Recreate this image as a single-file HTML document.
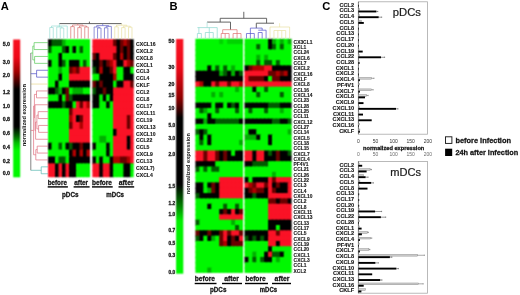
<!DOCTYPE html><html><head><meta charset="utf-8"><title>Chemokine expression</title>
<style>html,body{margin:0;padding:0;background:#fff;}svg{display:block;}#w{width:520px;height:295px;overflow:hidden;will-change:transform;}text{font-family:'Liberation Sans',sans-serif;}.h{stroke:#1a1a1a;stroke-width:0.28px;}.h2{stroke:#1a1a1a;stroke-width:0.12px;}</style></head><body>
<div id="w"><svg width="520" height="295" viewBox="0 0 520 295">
<defs>
<linearGradient id="ga" x1="0" y1="0" x2="0" y2="1"><stop offset="0" stop-color="#f81020"/><stop offset="0.13" stop-color="#ee0818"/><stop offset="0.235" stop-color="#a00000"/><stop offset="0.31" stop-color="#400000"/><stop offset="0.36" stop-color="#000"/><stop offset="0.633" stop-color="#000"/><stop offset="0.70" stop-color="#006000"/><stop offset="0.75" stop-color="#00c000"/><stop offset="0.805" stop-color="#00f800"/><stop offset="1" stop-color="#00f800"/></linearGradient>
<linearGradient id="gb" x1="0" y1="0" x2="0" y2="1"><stop offset="0" stop-color="#f81424"/><stop offset="0.12" stop-color="#ee0818"/><stop offset="0.25" stop-color="#900000"/><stop offset="0.30" stop-color="#400000"/><stop offset="0.335" stop-color="#000"/><stop offset="0.62" stop-color="#000"/><stop offset="0.71" stop-color="#008000"/><stop offset="0.775" stop-color="#00f000"/><stop offset="1" stop-color="#00f800"/></linearGradient>
<filter id="soft" color-interpolation-filters="sRGB" x="0" y="0" width="520" height="295" filterUnits="userSpaceOnUse"><feConvolveMatrix order="3" kernelMatrix="1 2 1 2 4 2 1 2 1" divisor="16" edgeMode="duplicate" preserveAlpha="false"/></filter>
</defs>
<text x="0.8" y="9.7" font-size="11.2" font-weight="bold">A</text>
<text x="169.6" y="9.5" font-size="11.2" font-weight="bold">B</text>
<text x="322.2" y="9.7" font-size="11.2" font-weight="bold">C</text>
<g filter="url(#soft)"><rect x="13.2" y="39.5" width="7" height="137.8" fill="url(#ga)"/></g>
<text class="h" x="2.7" y="46" font-size="5" font-weight="bold" fill="#222" textLength="7.4" lengthAdjust="spacingAndGlyphs">5.0</text>
<text class="h" x="2.7" y="64.2" font-size="5" font-weight="bold" fill="#222" textLength="7.4" lengthAdjust="spacingAndGlyphs">3.0</text>
<text class="h" x="2.7" y="76.6" font-size="5" font-weight="bold" fill="#222" textLength="7.4" lengthAdjust="spacingAndGlyphs">2.0</text>
<text class="h" x="2.7" y="93.5" font-size="5" font-weight="bold" fill="#222" textLength="7.4" lengthAdjust="spacingAndGlyphs">1.2</text>
<text class="h" x="2.7" y="107.8" font-size="5" font-weight="bold" fill="#222" textLength="7.4" lengthAdjust="spacingAndGlyphs">1.0</text>
<text class="h" x="2.7" y="121.1" font-size="5" font-weight="bold" fill="#222" textLength="7.4" lengthAdjust="spacingAndGlyphs">0.8</text>
<text class="h" x="2.7" y="134.8" font-size="5" font-weight="bold" fill="#222" textLength="7.4" lengthAdjust="spacingAndGlyphs">0.6</text>
<text class="h" x="2.7" y="148.8" font-size="5" font-weight="bold" fill="#222" textLength="7.4" lengthAdjust="spacingAndGlyphs">0.4</text>
<text class="h" x="2.7" y="162.6" font-size="5" font-weight="bold" fill="#222" textLength="7.4" lengthAdjust="spacingAndGlyphs">0.2</text>
<text class="h" x="2.7" y="174.8" font-size="5" font-weight="bold" fill="#222" textLength="7.4" lengthAdjust="spacingAndGlyphs">0.0</text>
<text transform="translate(25.6,146.3) rotate(-90)" font-size="5.7" font-weight="bold" fill="#111" textLength="62.2" lengthAdjust="spacingAndGlyphs">normalized expression</text>
<g filter="url(#soft)">
<rect x="48" y="39.2" width="4.5" height="7.9" fill="#000000"/>
<rect x="51.5" y="39.2" width="4.5" height="7.9" fill="#005a00"/>
<rect x="55" y="39.2" width="4.5" height="7.9" fill="#005a00"/>
<rect x="58.5" y="39.2" width="4.5" height="7.9" fill="#005a00"/>
<rect x="62" y="39.2" width="4.5" height="7.9" fill="#00b000"/>
<rect x="65.5" y="39.2" width="4.5" height="7.9" fill="#00f800"/>
<rect x="69" y="39.2" width="4.5" height="7.9" fill="#00f800"/>
<rect x="72.5" y="39.2" width="4.5" height="7.9" fill="#00f800"/>
<rect x="76" y="39.2" width="4.5" height="7.9" fill="#00f800"/>
<rect x="79.5" y="39.2" width="4.5" height="7.9" fill="#00f800"/>
<rect x="83" y="39.2" width="4.5" height="7.9" fill="#00f800"/>
<rect x="86.5" y="39.2" width="3.5" height="7.9" fill="#00f800"/>
<rect x="48" y="46.1" width="4.5" height="7.9" fill="#005a00"/>
<rect x="51.5" y="46.1" width="4.5" height="7.9" fill="#00f800"/>
<rect x="55" y="46.1" width="4.5" height="7.9" fill="#00f800"/>
<rect x="58.5" y="46.1" width="4.5" height="7.9" fill="#00f800"/>
<rect x="62" y="46.1" width="4.5" height="7.9" fill="#005a00"/>
<rect x="65.5" y="46.1" width="4.5" height="7.9" fill="#000000"/>
<rect x="69" y="46.1" width="4.5" height="7.9" fill="#00f800"/>
<rect x="72.5" y="46.1" width="4.5" height="7.9" fill="#000000"/>
<rect x="76" y="46.1" width="4.5" height="7.9" fill="#00f800"/>
<rect x="79.5" y="46.1" width="4.5" height="7.9" fill="#005a00"/>
<rect x="83" y="46.1" width="4.5" height="7.9" fill="#00f800"/>
<rect x="86.5" y="46.1" width="3.5" height="7.9" fill="#00f800"/>
<rect x="48" y="53" width="4.5" height="7.9" fill="#00f800"/>
<rect x="51.5" y="53" width="4.5" height="7.9" fill="#00f800"/>
<rect x="55" y="53" width="4.5" height="7.9" fill="#00f800"/>
<rect x="58.5" y="53" width="4.5" height="7.9" fill="#000000"/>
<rect x="62" y="53" width="4.5" height="7.9" fill="#00f800"/>
<rect x="65.5" y="53" width="4.5" height="7.9" fill="#00f800"/>
<rect x="69" y="53" width="4.5" height="7.9" fill="#00f800"/>
<rect x="72.5" y="53" width="4.5" height="7.9" fill="#00f800"/>
<rect x="76" y="53" width="4.5" height="7.9" fill="#00f800"/>
<rect x="79.5" y="53" width="4.5" height="7.9" fill="#00f800"/>
<rect x="83" y="53" width="4.5" height="7.9" fill="#00f800"/>
<rect x="86.5" y="53" width="3.5" height="7.9" fill="#00f800"/>
<rect x="48" y="59.9" width="4.5" height="7.9" fill="#000000"/>
<rect x="51.5" y="59.9" width="4.5" height="7.9" fill="#00f800"/>
<rect x="55" y="59.9" width="4.5" height="7.9" fill="#00f800"/>
<rect x="58.5" y="59.9" width="4.5" height="7.9" fill="#000000"/>
<rect x="62" y="59.9" width="4.5" height="7.9" fill="#005a00"/>
<rect x="65.5" y="59.9" width="4.5" height="7.9" fill="#00f800"/>
<rect x="69" y="59.9" width="4.5" height="7.9" fill="#000000"/>
<rect x="72.5" y="59.9" width="4.5" height="7.9" fill="#000000"/>
<rect x="76" y="59.9" width="4.5" height="7.9" fill="#000000"/>
<rect x="79.5" y="59.9" width="4.5" height="7.9" fill="#00f800"/>
<rect x="83" y="59.9" width="4.5" height="7.9" fill="#005a00"/>
<rect x="86.5" y="59.9" width="3.5" height="7.9" fill="#00f800"/>
<rect x="48" y="66.8" width="4.5" height="7.9" fill="#00f800"/>
<rect x="51.5" y="66.8" width="4.5" height="7.9" fill="#00f800"/>
<rect x="55" y="66.8" width="4.5" height="7.9" fill="#00f800"/>
<rect x="58.5" y="66.8" width="4.5" height="7.9" fill="#00b000"/>
<rect x="62" y="66.8" width="4.5" height="7.9" fill="#00f800"/>
<rect x="65.5" y="66.8" width="4.5" height="7.9" fill="#00f800"/>
<rect x="69" y="66.8" width="4.5" height="7.9" fill="#6a0000"/>
<rect x="72.5" y="66.8" width="4.5" height="7.9" fill="#b00000"/>
<rect x="76" y="66.8" width="4.5" height="7.9" fill="#6a0000"/>
<rect x="79.5" y="66.8" width="4.5" height="7.9" fill="#fa1226"/>
<rect x="83" y="66.8" width="4.5" height="7.9" fill="#fa1226"/>
<rect x="86.5" y="66.8" width="3.5" height="7.9" fill="#fa1226"/>
<rect x="48" y="73.7" width="4.5" height="7.9" fill="#00f800"/>
<rect x="51.5" y="73.7" width="4.5" height="7.9" fill="#00f800"/>
<rect x="55" y="73.7" width="4.5" height="7.9" fill="#00f800"/>
<rect x="58.5" y="73.7" width="4.5" height="7.9" fill="#000000"/>
<rect x="62" y="73.7" width="4.5" height="7.9" fill="#00f800"/>
<rect x="65.5" y="73.7" width="4.5" height="7.9" fill="#00f800"/>
<rect x="69" y="73.7" width="4.5" height="7.9" fill="#fa1226"/>
<rect x="72.5" y="73.7" width="4.5" height="7.9" fill="#fa1226"/>
<rect x="76" y="73.7" width="4.5" height="7.9" fill="#fa1226"/>
<rect x="79.5" y="73.7" width="4.5" height="7.9" fill="#fa1226"/>
<rect x="83" y="73.7" width="4.5" height="7.9" fill="#fa1226"/>
<rect x="86.5" y="73.7" width="3.5" height="7.9" fill="#fa1226"/>
<rect x="48" y="80.6" width="4.5" height="7.9" fill="#00f800"/>
<rect x="51.5" y="80.6" width="4.5" height="7.9" fill="#00f800"/>
<rect x="55" y="80.6" width="4.5" height="7.9" fill="#000000"/>
<rect x="58.5" y="80.6" width="4.5" height="7.9" fill="#00f800"/>
<rect x="62" y="80.6" width="4.5" height="7.9" fill="#00f800"/>
<rect x="65.5" y="80.6" width="4.5" height="7.9" fill="#00f800"/>
<rect x="69" y="80.6" width="4.5" height="7.9" fill="#000000"/>
<rect x="72.5" y="80.6" width="4.5" height="7.9" fill="#000000"/>
<rect x="76" y="80.6" width="4.5" height="7.9" fill="#000000"/>
<rect x="79.5" y="80.6" width="4.5" height="7.9" fill="#000000"/>
<rect x="83" y="80.6" width="4.5" height="7.9" fill="#000000"/>
<rect x="86.5" y="80.6" width="3.5" height="7.9" fill="#000000"/>
<rect x="48" y="87.5" width="4.5" height="7.9" fill="#000000"/>
<rect x="51.5" y="87.5" width="4.5" height="7.9" fill="#000000"/>
<rect x="55" y="87.5" width="4.5" height="7.9" fill="#005a00"/>
<rect x="58.5" y="87.5" width="4.5" height="7.9" fill="#00b000"/>
<rect x="62" y="87.5" width="4.5" height="7.9" fill="#000000"/>
<rect x="65.5" y="87.5" width="4.5" height="7.9" fill="#6a0000"/>
<rect x="69" y="87.5" width="4.5" height="7.9" fill="#00f800"/>
<rect x="72.5" y="87.5" width="4.5" height="7.9" fill="#00b000"/>
<rect x="76" y="87.5" width="4.5" height="7.9" fill="#00b000"/>
<rect x="79.5" y="87.5" width="4.5" height="7.9" fill="#00b000"/>
<rect x="83" y="87.5" width="4.5" height="7.9" fill="#00f800"/>
<rect x="86.5" y="87.5" width="3.5" height="7.9" fill="#00f800"/>
<rect x="48" y="94.4" width="4.5" height="7.9" fill="#00f800"/>
<rect x="51.5" y="94.4" width="4.5" height="7.9" fill="#00f800"/>
<rect x="55" y="94.4" width="4.5" height="7.9" fill="#00f800"/>
<rect x="58.5" y="94.4" width="4.5" height="7.9" fill="#000000"/>
<rect x="62" y="94.4" width="4.5" height="7.9" fill="#00f800"/>
<rect x="65.5" y="94.4" width="4.5" height="7.9" fill="#6a0000"/>
<rect x="69" y="94.4" width="4.5" height="7.9" fill="#005a00"/>
<rect x="72.5" y="94.4" width="4.5" height="7.9" fill="#000000"/>
<rect x="76" y="94.4" width="4.5" height="7.9" fill="#000000"/>
<rect x="79.5" y="94.4" width="4.5" height="7.9" fill="#000000"/>
<rect x="83" y="94.4" width="4.5" height="7.9" fill="#000000"/>
<rect x="86.5" y="94.4" width="3.5" height="7.9" fill="#000000"/>
<rect x="48" y="101.3" width="4.5" height="7.9" fill="#000000"/>
<rect x="51.5" y="101.3" width="4.5" height="7.9" fill="#000000"/>
<rect x="55" y="101.3" width="4.5" height="7.9" fill="#000000"/>
<rect x="58.5" y="101.3" width="4.5" height="7.9" fill="#000000"/>
<rect x="62" y="101.3" width="4.5" height="7.9" fill="#005a00"/>
<rect x="65.5" y="101.3" width="4.5" height="7.9" fill="#000000"/>
<rect x="69" y="101.3" width="4.5" height="7.9" fill="#000000"/>
<rect x="72.5" y="101.3" width="4.5" height="7.9" fill="#00f800"/>
<rect x="76" y="101.3" width="4.5" height="7.9" fill="#fa1226"/>
<rect x="79.5" y="101.3" width="4.5" height="7.9" fill="#6a0000"/>
<rect x="83" y="101.3" width="4.5" height="7.9" fill="#fa1226"/>
<rect x="86.5" y="101.3" width="3.5" height="7.9" fill="#b00000"/>
<rect x="48" y="108.2" width="4.5" height="7.9" fill="#00f800"/>
<rect x="51.5" y="108.2" width="4.5" height="7.9" fill="#00f800"/>
<rect x="55" y="108.2" width="4.5" height="7.9" fill="#00f800"/>
<rect x="58.5" y="108.2" width="4.5" height="7.9" fill="#00f800"/>
<rect x="62" y="108.2" width="4.5" height="7.9" fill="#00f800"/>
<rect x="65.5" y="108.2" width="4.5" height="7.9" fill="#00f800"/>
<rect x="69" y="108.2" width="4.5" height="7.9" fill="#6a0000"/>
<rect x="72.5" y="108.2" width="4.5" height="7.9" fill="#fa1226"/>
<rect x="76" y="108.2" width="4.5" height="7.9" fill="#fa1226"/>
<rect x="79.5" y="108.2" width="4.5" height="7.9" fill="#fa1226"/>
<rect x="83" y="108.2" width="4.5" height="7.9" fill="#fa1226"/>
<rect x="86.5" y="108.2" width="3.5" height="7.9" fill="#fa1226"/>
<rect x="48" y="115.1" width="4.5" height="7.9" fill="#00f800"/>
<rect x="51.5" y="115.1" width="4.5" height="7.9" fill="#00f800"/>
<rect x="55" y="115.1" width="4.5" height="7.9" fill="#00f800"/>
<rect x="58.5" y="115.1" width="4.5" height="7.9" fill="#00f800"/>
<rect x="62" y="115.1" width="4.5" height="7.9" fill="#00f800"/>
<rect x="65.5" y="115.1" width="4.5" height="7.9" fill="#00f800"/>
<rect x="69" y="115.1" width="4.5" height="7.9" fill="#b00000"/>
<rect x="72.5" y="115.1" width="4.5" height="7.9" fill="#fa1226"/>
<rect x="76" y="115.1" width="4.5" height="7.9" fill="#000000"/>
<rect x="79.5" y="115.1" width="4.5" height="7.9" fill="#6a0000"/>
<rect x="83" y="115.1" width="4.5" height="7.9" fill="#fa1226"/>
<rect x="86.5" y="115.1" width="3.5" height="7.9" fill="#fa1226"/>
<rect x="48" y="122" width="4.5" height="7.9" fill="#00f800"/>
<rect x="51.5" y="122" width="4.5" height="7.9" fill="#00f800"/>
<rect x="55" y="122" width="4.5" height="7.9" fill="#00f800"/>
<rect x="58.5" y="122" width="4.5" height="7.9" fill="#00f800"/>
<rect x="62" y="122" width="4.5" height="7.9" fill="#00f800"/>
<rect x="65.5" y="122" width="4.5" height="7.9" fill="#00f800"/>
<rect x="69" y="122" width="4.5" height="7.9" fill="#6a0000"/>
<rect x="72.5" y="122" width="4.5" height="7.9" fill="#fa1226"/>
<rect x="76" y="122" width="4.5" height="7.9" fill="#fa1226"/>
<rect x="79.5" y="122" width="4.5" height="7.9" fill="#b00000"/>
<rect x="83" y="122" width="4.5" height="7.9" fill="#fa1226"/>
<rect x="86.5" y="122" width="3.5" height="7.9" fill="#fa1226"/>
<rect x="48" y="128.9" width="4.5" height="7.9" fill="#00f800"/>
<rect x="51.5" y="128.9" width="4.5" height="7.9" fill="#00f800"/>
<rect x="55" y="128.9" width="4.5" height="7.9" fill="#00f800"/>
<rect x="58.5" y="128.9" width="4.5" height="7.9" fill="#00f800"/>
<rect x="62" y="128.9" width="4.5" height="7.9" fill="#00f800"/>
<rect x="65.5" y="128.9" width="4.5" height="7.9" fill="#00f800"/>
<rect x="69" y="128.9" width="4.5" height="7.9" fill="#fa1226"/>
<rect x="72.5" y="128.9" width="4.5" height="7.9" fill="#fa1226"/>
<rect x="76" y="128.9" width="4.5" height="7.9" fill="#fa1226"/>
<rect x="79.5" y="128.9" width="4.5" height="7.9" fill="#fa1226"/>
<rect x="83" y="128.9" width="4.5" height="7.9" fill="#fa1226"/>
<rect x="86.5" y="128.9" width="3.5" height="7.9" fill="#fa1226"/>
<rect x="48" y="135.8" width="4.5" height="7.9" fill="#00f800"/>
<rect x="51.5" y="135.8" width="4.5" height="7.9" fill="#00f800"/>
<rect x="55" y="135.8" width="4.5" height="7.9" fill="#00f800"/>
<rect x="58.5" y="135.8" width="4.5" height="7.9" fill="#00f800"/>
<rect x="62" y="135.8" width="4.5" height="7.9" fill="#00f800"/>
<rect x="65.5" y="135.8" width="4.5" height="7.9" fill="#00f800"/>
<rect x="69" y="135.8" width="4.5" height="7.9" fill="#fa1226"/>
<rect x="72.5" y="135.8" width="4.5" height="7.9" fill="#fa1226"/>
<rect x="76" y="135.8" width="4.5" height="7.9" fill="#fa1226"/>
<rect x="79.5" y="135.8" width="4.5" height="7.9" fill="#fa1226"/>
<rect x="83" y="135.8" width="4.5" height="7.9" fill="#fa1226"/>
<rect x="86.5" y="135.8" width="3.5" height="7.9" fill="#fa1226"/>
<rect x="48" y="142.7" width="4.5" height="7.9" fill="#000000"/>
<rect x="51.5" y="142.7" width="4.5" height="7.9" fill="#00f800"/>
<rect x="55" y="142.7" width="4.5" height="7.9" fill="#00f800"/>
<rect x="58.5" y="142.7" width="4.5" height="7.9" fill="#005a00"/>
<rect x="62" y="142.7" width="4.5" height="7.9" fill="#00f800"/>
<rect x="65.5" y="142.7" width="4.5" height="7.9" fill="#000000"/>
<rect x="69" y="142.7" width="4.5" height="7.9" fill="#005a00"/>
<rect x="72.5" y="142.7" width="4.5" height="7.9" fill="#000000"/>
<rect x="76" y="142.7" width="4.5" height="7.9" fill="#000000"/>
<rect x="79.5" y="142.7" width="4.5" height="7.9" fill="#6a0000"/>
<rect x="83" y="142.7" width="4.5" height="7.9" fill="#000000"/>
<rect x="86.5" y="142.7" width="3.5" height="7.9" fill="#000000"/>
<rect x="48" y="149.6" width="4.5" height="7.9" fill="#00f800"/>
<rect x="51.5" y="149.6" width="4.5" height="7.9" fill="#00f800"/>
<rect x="55" y="149.6" width="4.5" height="7.9" fill="#00f800"/>
<rect x="58.5" y="149.6" width="4.5" height="7.9" fill="#00f800"/>
<rect x="62" y="149.6" width="4.5" height="7.9" fill="#00f800"/>
<rect x="65.5" y="149.6" width="4.5" height="7.9" fill="#00f800"/>
<rect x="69" y="149.6" width="4.5" height="7.9" fill="#000000"/>
<rect x="72.5" y="149.6" width="4.5" height="7.9" fill="#b00000"/>
<rect x="76" y="149.6" width="4.5" height="7.9" fill="#000000"/>
<rect x="79.5" y="149.6" width="4.5" height="7.9" fill="#b00000"/>
<rect x="83" y="149.6" width="4.5" height="7.9" fill="#000000"/>
<rect x="86.5" y="149.6" width="3.5" height="7.9" fill="#b00000"/>
<rect x="48" y="156.5" width="4.5" height="7.9" fill="#000000"/>
<rect x="51.5" y="156.5" width="4.5" height="7.9" fill="#000000"/>
<rect x="55" y="156.5" width="4.5" height="7.9" fill="#00f800"/>
<rect x="58.5" y="156.5" width="4.5" height="7.9" fill="#005a00"/>
<rect x="62" y="156.5" width="4.5" height="7.9" fill="#005a00"/>
<rect x="65.5" y="156.5" width="4.5" height="7.9" fill="#00f800"/>
<rect x="69" y="156.5" width="4.5" height="7.9" fill="#000000"/>
<rect x="72.5" y="156.5" width="4.5" height="7.9" fill="#000000"/>
<rect x="76" y="156.5" width="4.5" height="7.9" fill="#000000"/>
<rect x="79.5" y="156.5" width="4.5" height="7.9" fill="#000000"/>
<rect x="83" y="156.5" width="4.5" height="7.9" fill="#000000"/>
<rect x="86.5" y="156.5" width="3.5" height="7.9" fill="#000000"/>
<rect x="48" y="163.4" width="4.5" height="7.9" fill="#fa1226"/>
<rect x="51.5" y="163.4" width="4.5" height="7.9" fill="#fa1226"/>
<rect x="55" y="163.4" width="4.5" height="7.9" fill="#000000"/>
<rect x="58.5" y="163.4" width="4.5" height="7.9" fill="#fa1226"/>
<rect x="62" y="163.4" width="4.5" height="7.9" fill="#000000"/>
<rect x="65.5" y="163.4" width="4.5" height="7.9" fill="#fa1226"/>
<rect x="69" y="163.4" width="4.5" height="7.9" fill="#000000"/>
<rect x="72.5" y="163.4" width="4.5" height="7.9" fill="#000000"/>
<rect x="76" y="163.4" width="4.5" height="7.9" fill="#00f800"/>
<rect x="79.5" y="163.4" width="4.5" height="7.9" fill="#00f800"/>
<rect x="83" y="163.4" width="4.5" height="7.9" fill="#00f800"/>
<rect x="86.5" y="163.4" width="3.5" height="7.9" fill="#00f800"/>
<rect x="48" y="170.3" width="4.5" height="6.9" fill="#fa1226"/>
<rect x="51.5" y="170.3" width="4.5" height="6.9" fill="#fa1226"/>
<rect x="55" y="170.3" width="4.5" height="6.9" fill="#000000"/>
<rect x="58.5" y="170.3" width="4.5" height="6.9" fill="#fa1226"/>
<rect x="62" y="170.3" width="4.5" height="6.9" fill="#000000"/>
<rect x="65.5" y="170.3" width="4.5" height="6.9" fill="#fa1226"/>
<rect x="69" y="170.3" width="4.5" height="6.9" fill="#000000"/>
<rect x="72.5" y="170.3" width="4.5" height="6.9" fill="#000000"/>
<rect x="76" y="170.3" width="4.5" height="6.9" fill="#00f800"/>
<rect x="79.5" y="170.3" width="4.5" height="6.9" fill="#00f800"/>
<rect x="83" y="170.3" width="4.5" height="6.9" fill="#00f800"/>
<rect x="86.5" y="170.3" width="3.5" height="6.9" fill="#00f800"/>
<rect x="92.4" y="39.2" width="4.44" height="7.9" fill="#fa1226"/>
<rect x="95.84" y="39.2" width="4.44" height="7.9" fill="#fa1226"/>
<rect x="99.28" y="39.2" width="4.44" height="7.9" fill="#fa1226"/>
<rect x="102.73" y="39.2" width="4.44" height="7.9" fill="#fa1226"/>
<rect x="106.17" y="39.2" width="4.44" height="7.9" fill="#fa1226"/>
<rect x="109.61" y="39.2" width="4.44" height="7.9" fill="#fa1226"/>
<rect x="113.05" y="39.2" width="4.44" height="7.9" fill="#6a0000"/>
<rect x="116.49" y="39.2" width="4.44" height="7.9" fill="#000000"/>
<rect x="119.93" y="39.2" width="4.44" height="7.9" fill="#6a0000"/>
<rect x="123.38" y="39.2" width="4.44" height="7.9" fill="#b00000"/>
<rect x="126.82" y="39.2" width="4.44" height="7.9" fill="#6a0000"/>
<rect x="130.26" y="39.2" width="3.44" height="7.9" fill="#000000"/>
<rect x="92.4" y="46.1" width="4.44" height="7.9" fill="#fa1226"/>
<rect x="95.84" y="46.1" width="4.44" height="7.9" fill="#fa1226"/>
<rect x="99.28" y="46.1" width="4.44" height="7.9" fill="#fa1226"/>
<rect x="102.73" y="46.1" width="4.44" height="7.9" fill="#fa1226"/>
<rect x="106.17" y="46.1" width="4.44" height="7.9" fill="#fa1226"/>
<rect x="109.61" y="46.1" width="4.44" height="7.9" fill="#fa1226"/>
<rect x="113.05" y="46.1" width="4.44" height="7.9" fill="#fa1226"/>
<rect x="116.49" y="46.1" width="4.44" height="7.9" fill="#000000"/>
<rect x="119.93" y="46.1" width="4.44" height="7.9" fill="#6a0000"/>
<rect x="123.38" y="46.1" width="4.44" height="7.9" fill="#000000"/>
<rect x="126.82" y="46.1" width="4.44" height="7.9" fill="#6a0000"/>
<rect x="130.26" y="46.1" width="3.44" height="7.9" fill="#000000"/>
<rect x="92.4" y="53" width="4.44" height="7.9" fill="#6a0000"/>
<rect x="95.84" y="53" width="4.44" height="7.9" fill="#000000"/>
<rect x="99.28" y="53" width="4.44" height="7.9" fill="#fa1226"/>
<rect x="102.73" y="53" width="4.44" height="7.9" fill="#fa1226"/>
<rect x="106.17" y="53" width="4.44" height="7.9" fill="#fa1226"/>
<rect x="109.61" y="53" width="4.44" height="7.9" fill="#fa1226"/>
<rect x="113.05" y="53" width="4.44" height="7.9" fill="#6a0000"/>
<rect x="116.49" y="53" width="4.44" height="7.9" fill="#000000"/>
<rect x="119.93" y="53" width="4.44" height="7.9" fill="#b00000"/>
<rect x="123.38" y="53" width="4.44" height="7.9" fill="#000000"/>
<rect x="126.82" y="53" width="4.44" height="7.9" fill="#6a0000"/>
<rect x="130.26" y="53" width="3.44" height="7.9" fill="#000000"/>
<rect x="92.4" y="59.9" width="4.44" height="7.9" fill="#000000"/>
<rect x="95.84" y="59.9" width="4.44" height="7.9" fill="#000000"/>
<rect x="99.28" y="59.9" width="4.44" height="7.9" fill="#6a0000"/>
<rect x="102.73" y="59.9" width="4.44" height="7.9" fill="#000000"/>
<rect x="106.17" y="59.9" width="4.44" height="7.9" fill="#6a0000"/>
<rect x="109.61" y="59.9" width="4.44" height="7.9" fill="#b00000"/>
<rect x="113.05" y="59.9" width="4.44" height="7.9" fill="#fa1226"/>
<rect x="116.49" y="59.9" width="4.44" height="7.9" fill="#000000"/>
<rect x="119.93" y="59.9" width="4.44" height="7.9" fill="#000000"/>
<rect x="123.38" y="59.9" width="4.44" height="7.9" fill="#fa1226"/>
<rect x="126.82" y="59.9" width="4.44" height="7.9" fill="#b00000"/>
<rect x="130.26" y="59.9" width="3.44" height="7.9" fill="#6a0000"/>
<rect x="92.4" y="66.8" width="4.44" height="7.9" fill="#005a00"/>
<rect x="95.84" y="66.8" width="4.44" height="7.9" fill="#000000"/>
<rect x="99.28" y="66.8" width="4.44" height="7.9" fill="#b00000"/>
<rect x="102.73" y="66.8" width="4.44" height="7.9" fill="#000000"/>
<rect x="106.17" y="66.8" width="4.44" height="7.9" fill="#000000"/>
<rect x="109.61" y="66.8" width="4.44" height="7.9" fill="#6a0000"/>
<rect x="113.05" y="66.8" width="4.44" height="7.9" fill="#fa1226"/>
<rect x="116.49" y="66.8" width="4.44" height="7.9" fill="#00f800"/>
<rect x="119.93" y="66.8" width="4.44" height="7.9" fill="#00f800"/>
<rect x="123.38" y="66.8" width="4.44" height="7.9" fill="#000000"/>
<rect x="126.82" y="66.8" width="4.44" height="7.9" fill="#000000"/>
<rect x="130.26" y="66.8" width="3.44" height="7.9" fill="#00f800"/>
<rect x="92.4" y="73.7" width="4.44" height="7.9" fill="#00f800"/>
<rect x="95.84" y="73.7" width="4.44" height="7.9" fill="#00f800"/>
<rect x="99.28" y="73.7" width="4.44" height="7.9" fill="#000000"/>
<rect x="102.73" y="73.7" width="4.44" height="7.9" fill="#000000"/>
<rect x="106.17" y="73.7" width="4.44" height="7.9" fill="#000000"/>
<rect x="109.61" y="73.7" width="4.44" height="7.9" fill="#000000"/>
<rect x="113.05" y="73.7" width="4.44" height="7.9" fill="#b00000"/>
<rect x="116.49" y="73.7" width="4.44" height="7.9" fill="#00f800"/>
<rect x="119.93" y="73.7" width="4.44" height="7.9" fill="#00f800"/>
<rect x="123.38" y="73.7" width="4.44" height="7.9" fill="#000000"/>
<rect x="126.82" y="73.7" width="4.44" height="7.9" fill="#000000"/>
<rect x="130.26" y="73.7" width="3.44" height="7.9" fill="#000000"/>
<rect x="92.4" y="80.6" width="4.44" height="7.9" fill="#6a0000"/>
<rect x="95.84" y="80.6" width="4.44" height="7.9" fill="#000000"/>
<rect x="99.28" y="80.6" width="4.44" height="7.9" fill="#6a0000"/>
<rect x="102.73" y="80.6" width="4.44" height="7.9" fill="#000000"/>
<rect x="106.17" y="80.6" width="4.44" height="7.9" fill="#000000"/>
<rect x="109.61" y="80.6" width="4.44" height="7.9" fill="#000000"/>
<rect x="113.05" y="80.6" width="4.44" height="7.9" fill="#00f800"/>
<rect x="116.49" y="80.6" width="4.44" height="7.9" fill="#000000"/>
<rect x="119.93" y="80.6" width="4.44" height="7.9" fill="#000000"/>
<rect x="123.38" y="80.6" width="4.44" height="7.9" fill="#fa1226"/>
<rect x="126.82" y="80.6" width="4.44" height="7.9" fill="#fa1226"/>
<rect x="130.26" y="80.6" width="3.44" height="7.9" fill="#6a0000"/>
<rect x="92.4" y="87.5" width="4.44" height="7.9" fill="#005a00"/>
<rect x="95.84" y="87.5" width="4.44" height="7.9" fill="#000000"/>
<rect x="99.28" y="87.5" width="4.44" height="7.9" fill="#000000"/>
<rect x="102.73" y="87.5" width="4.44" height="7.9" fill="#6a0000"/>
<rect x="106.17" y="87.5" width="4.44" height="7.9" fill="#000000"/>
<rect x="109.61" y="87.5" width="4.44" height="7.9" fill="#000000"/>
<rect x="113.05" y="87.5" width="4.44" height="7.9" fill="#fa1226"/>
<rect x="116.49" y="87.5" width="4.44" height="7.9" fill="#fa1226"/>
<rect x="119.93" y="87.5" width="4.44" height="7.9" fill="#fa1226"/>
<rect x="123.38" y="87.5" width="4.44" height="7.9" fill="#fa1226"/>
<rect x="126.82" y="87.5" width="4.44" height="7.9" fill="#fa1226"/>
<rect x="130.26" y="87.5" width="3.44" height="7.9" fill="#fa1226"/>
<rect x="92.4" y="94.4" width="4.44" height="7.9" fill="#000000"/>
<rect x="95.84" y="94.4" width="4.44" height="7.9" fill="#000000"/>
<rect x="99.28" y="94.4" width="4.44" height="7.9" fill="#00f800"/>
<rect x="102.73" y="94.4" width="4.44" height="7.9" fill="#000000"/>
<rect x="106.17" y="94.4" width="4.44" height="7.9" fill="#00f800"/>
<rect x="109.61" y="94.4" width="4.44" height="7.9" fill="#000000"/>
<rect x="113.05" y="94.4" width="4.44" height="7.9" fill="#fa1226"/>
<rect x="116.49" y="94.4" width="4.44" height="7.9" fill="#fa1226"/>
<rect x="119.93" y="94.4" width="4.44" height="7.9" fill="#fa1226"/>
<rect x="123.38" y="94.4" width="4.44" height="7.9" fill="#fa1226"/>
<rect x="126.82" y="94.4" width="4.44" height="7.9" fill="#fa1226"/>
<rect x="130.26" y="94.4" width="3.44" height="7.9" fill="#fa1226"/>
<rect x="92.4" y="101.3" width="4.44" height="7.9" fill="#000000"/>
<rect x="95.84" y="101.3" width="4.44" height="7.9" fill="#000000"/>
<rect x="99.28" y="101.3" width="4.44" height="7.9" fill="#00f800"/>
<rect x="102.73" y="101.3" width="4.44" height="7.9" fill="#00f800"/>
<rect x="106.17" y="101.3" width="4.44" height="7.9" fill="#000000"/>
<rect x="109.61" y="101.3" width="4.44" height="7.9" fill="#00f800"/>
<rect x="113.05" y="101.3" width="4.44" height="7.9" fill="#fa1226"/>
<rect x="116.49" y="101.3" width="4.44" height="7.9" fill="#fa1226"/>
<rect x="119.93" y="101.3" width="4.44" height="7.9" fill="#fa1226"/>
<rect x="123.38" y="101.3" width="4.44" height="7.9" fill="#fa1226"/>
<rect x="126.82" y="101.3" width="4.44" height="7.9" fill="#fa1226"/>
<rect x="130.26" y="101.3" width="3.44" height="7.9" fill="#fa1226"/>
<rect x="92.4" y="108.2" width="4.44" height="7.9" fill="#00f800"/>
<rect x="95.84" y="108.2" width="4.44" height="7.9" fill="#00f800"/>
<rect x="99.28" y="108.2" width="4.44" height="7.9" fill="#00f800"/>
<rect x="102.73" y="108.2" width="4.44" height="7.9" fill="#00f800"/>
<rect x="106.17" y="108.2" width="4.44" height="7.9" fill="#00f800"/>
<rect x="109.61" y="108.2" width="4.44" height="7.9" fill="#00f800"/>
<rect x="113.05" y="108.2" width="4.44" height="7.9" fill="#fa1226"/>
<rect x="116.49" y="108.2" width="4.44" height="7.9" fill="#fa1226"/>
<rect x="119.93" y="108.2" width="4.44" height="7.9" fill="#fa1226"/>
<rect x="123.38" y="108.2" width="4.44" height="7.9" fill="#fa1226"/>
<rect x="126.82" y="108.2" width="4.44" height="7.9" fill="#fa1226"/>
<rect x="130.26" y="108.2" width="3.44" height="7.9" fill="#fa1226"/>
<rect x="92.4" y="115.1" width="4.44" height="7.9" fill="#00f800"/>
<rect x="95.84" y="115.1" width="4.44" height="7.9" fill="#00f800"/>
<rect x="99.28" y="115.1" width="4.44" height="7.9" fill="#00f800"/>
<rect x="102.73" y="115.1" width="4.44" height="7.9" fill="#00f800"/>
<rect x="106.17" y="115.1" width="4.44" height="7.9" fill="#00f800"/>
<rect x="109.61" y="115.1" width="4.44" height="7.9" fill="#00f800"/>
<rect x="113.05" y="115.1" width="4.44" height="7.9" fill="#fa1226"/>
<rect x="116.49" y="115.1" width="4.44" height="7.9" fill="#fa1226"/>
<rect x="119.93" y="115.1" width="4.44" height="7.9" fill="#fa1226"/>
<rect x="123.38" y="115.1" width="4.44" height="7.9" fill="#fa1226"/>
<rect x="126.82" y="115.1" width="4.44" height="7.9" fill="#6a0000"/>
<rect x="130.26" y="115.1" width="3.44" height="7.9" fill="#fa1226"/>
<rect x="92.4" y="122" width="4.44" height="7.9" fill="#00f800"/>
<rect x="95.84" y="122" width="4.44" height="7.9" fill="#00f800"/>
<rect x="99.28" y="122" width="4.44" height="7.9" fill="#00f800"/>
<rect x="102.73" y="122" width="4.44" height="7.9" fill="#00f800"/>
<rect x="106.17" y="122" width="4.44" height="7.9" fill="#00f800"/>
<rect x="109.61" y="122" width="4.44" height="7.9" fill="#00f800"/>
<rect x="113.05" y="122" width="4.44" height="7.9" fill="#fa1226"/>
<rect x="116.49" y="122" width="4.44" height="7.9" fill="#fa1226"/>
<rect x="119.93" y="122" width="4.44" height="7.9" fill="#fa1226"/>
<rect x="123.38" y="122" width="4.44" height="7.9" fill="#fa1226"/>
<rect x="126.82" y="122" width="4.44" height="7.9" fill="#6a0000"/>
<rect x="130.26" y="122" width="3.44" height="7.9" fill="#fa1226"/>
<rect x="92.4" y="128.9" width="4.44" height="7.9" fill="#00f800"/>
<rect x="95.84" y="128.9" width="4.44" height="7.9" fill="#00f800"/>
<rect x="99.28" y="128.9" width="4.44" height="7.9" fill="#00f800"/>
<rect x="102.73" y="128.9" width="4.44" height="7.9" fill="#00f800"/>
<rect x="106.17" y="128.9" width="4.44" height="7.9" fill="#00f800"/>
<rect x="109.61" y="128.9" width="4.44" height="7.9" fill="#00f800"/>
<rect x="113.05" y="128.9" width="4.44" height="7.9" fill="#000000"/>
<rect x="116.49" y="128.9" width="4.44" height="7.9" fill="#fa1226"/>
<rect x="119.93" y="128.9" width="4.44" height="7.9" fill="#fa1226"/>
<rect x="123.38" y="128.9" width="4.44" height="7.9" fill="#fa1226"/>
<rect x="126.82" y="128.9" width="4.44" height="7.9" fill="#fa1226"/>
<rect x="130.26" y="128.9" width="3.44" height="7.9" fill="#fa1226"/>
<rect x="92.4" y="135.8" width="4.44" height="7.9" fill="#00f800"/>
<rect x="95.84" y="135.8" width="4.44" height="7.9" fill="#00f800"/>
<rect x="99.28" y="135.8" width="4.44" height="7.9" fill="#00b000"/>
<rect x="102.73" y="135.8" width="4.44" height="7.9" fill="#00b000"/>
<rect x="106.17" y="135.8" width="4.44" height="7.9" fill="#00f800"/>
<rect x="109.61" y="135.8" width="4.44" height="7.9" fill="#00f800"/>
<rect x="113.05" y="135.8" width="4.44" height="7.9" fill="#fa1226"/>
<rect x="116.49" y="135.8" width="4.44" height="7.9" fill="#fa1226"/>
<rect x="119.93" y="135.8" width="4.44" height="7.9" fill="#fa1226"/>
<rect x="123.38" y="135.8" width="4.44" height="7.9" fill="#fa1226"/>
<rect x="126.82" y="135.8" width="4.44" height="7.9" fill="#000000"/>
<rect x="130.26" y="135.8" width="3.44" height="7.9" fill="#fa1226"/>
<rect x="92.4" y="142.7" width="4.44" height="7.9" fill="#000000"/>
<rect x="95.84" y="142.7" width="4.44" height="7.9" fill="#00f800"/>
<rect x="99.28" y="142.7" width="4.44" height="7.9" fill="#00f800"/>
<rect x="102.73" y="142.7" width="4.44" height="7.9" fill="#00f800"/>
<rect x="106.17" y="142.7" width="4.44" height="7.9" fill="#000000"/>
<rect x="109.61" y="142.7" width="4.44" height="7.9" fill="#00f800"/>
<rect x="113.05" y="142.7" width="4.44" height="7.9" fill="#fa1226"/>
<rect x="116.49" y="142.7" width="4.44" height="7.9" fill="#fa1226"/>
<rect x="119.93" y="142.7" width="4.44" height="7.9" fill="#fa1226"/>
<rect x="123.38" y="142.7" width="4.44" height="7.9" fill="#fa1226"/>
<rect x="126.82" y="142.7" width="4.44" height="7.9" fill="#000000"/>
<rect x="130.26" y="142.7" width="3.44" height="7.9" fill="#fa1226"/>
<rect x="92.4" y="149.6" width="4.44" height="7.9" fill="#00f800"/>
<rect x="95.84" y="149.6" width="4.44" height="7.9" fill="#00f800"/>
<rect x="99.28" y="149.6" width="4.44" height="7.9" fill="#00f800"/>
<rect x="102.73" y="149.6" width="4.44" height="7.9" fill="#00f800"/>
<rect x="106.17" y="149.6" width="4.44" height="7.9" fill="#000000"/>
<rect x="109.61" y="149.6" width="4.44" height="7.9" fill="#00f800"/>
<rect x="113.05" y="149.6" width="4.44" height="7.9" fill="#fa1226"/>
<rect x="116.49" y="149.6" width="4.44" height="7.9" fill="#fa1226"/>
<rect x="119.93" y="149.6" width="4.44" height="7.9" fill="#fa1226"/>
<rect x="123.38" y="149.6" width="4.44" height="7.9" fill="#fa1226"/>
<rect x="126.82" y="149.6" width="4.44" height="7.9" fill="#fa1226"/>
<rect x="130.26" y="149.6" width="3.44" height="7.9" fill="#fa1226"/>
<rect x="92.4" y="156.5" width="4.44" height="7.9" fill="#000000"/>
<rect x="95.84" y="156.5" width="4.44" height="7.9" fill="#00f800"/>
<rect x="99.28" y="156.5" width="4.44" height="7.9" fill="#000000"/>
<rect x="102.73" y="156.5" width="4.44" height="7.9" fill="#00f800"/>
<rect x="106.17" y="156.5" width="4.44" height="7.9" fill="#00f800"/>
<rect x="109.61" y="156.5" width="4.44" height="7.9" fill="#000000"/>
<rect x="113.05" y="156.5" width="4.44" height="7.9" fill="#b00000"/>
<rect x="116.49" y="156.5" width="4.44" height="7.9" fill="#b00000"/>
<rect x="119.93" y="156.5" width="4.44" height="7.9" fill="#6a0000"/>
<rect x="123.38" y="156.5" width="4.44" height="7.9" fill="#6a0000"/>
<rect x="126.82" y="156.5" width="4.44" height="7.9" fill="#b00000"/>
<rect x="130.26" y="156.5" width="3.44" height="7.9" fill="#fa1226"/>
<rect x="92.4" y="163.4" width="4.44" height="7.9" fill="#fa1226"/>
<rect x="95.84" y="163.4" width="4.44" height="7.9" fill="#fa1226"/>
<rect x="99.28" y="163.4" width="4.44" height="7.9" fill="#000000"/>
<rect x="102.73" y="163.4" width="4.44" height="7.9" fill="#fa1226"/>
<rect x="106.17" y="163.4" width="4.44" height="7.9" fill="#fa1226"/>
<rect x="109.61" y="163.4" width="4.44" height="7.9" fill="#000000"/>
<rect x="113.05" y="163.4" width="4.44" height="7.9" fill="#00f800"/>
<rect x="116.49" y="163.4" width="4.44" height="7.9" fill="#00f800"/>
<rect x="119.93" y="163.4" width="4.44" height="7.9" fill="#00f800"/>
<rect x="123.38" y="163.4" width="4.44" height="7.9" fill="#000000"/>
<rect x="126.82" y="163.4" width="4.44" height="7.9" fill="#000000"/>
<rect x="130.26" y="163.4" width="3.44" height="7.9" fill="#00f800"/>
<rect x="92.4" y="170.3" width="4.44" height="6.9" fill="#fa1226"/>
<rect x="95.84" y="170.3" width="4.44" height="6.9" fill="#fa1226"/>
<rect x="99.28" y="170.3" width="4.44" height="6.9" fill="#000000"/>
<rect x="102.73" y="170.3" width="4.44" height="6.9" fill="#fa1226"/>
<rect x="106.17" y="170.3" width="4.44" height="6.9" fill="#fa1226"/>
<rect x="109.61" y="170.3" width="4.44" height="6.9" fill="#000000"/>
<rect x="113.05" y="170.3" width="4.44" height="6.9" fill="#00f800"/>
<rect x="116.49" y="170.3" width="4.44" height="6.9" fill="#00f800"/>
<rect x="119.93" y="170.3" width="4.44" height="6.9" fill="#00f800"/>
<rect x="123.38" y="170.3" width="4.44" height="6.9" fill="#000000"/>
<rect x="126.82" y="170.3" width="4.44" height="6.9" fill="#000000"/>
<rect x="130.26" y="170.3" width="3.44" height="6.9" fill="#00f800"/>
</g>
<text class="h2" x="136.1" y="45.8" font-size="5.1" font-weight="bold" fill="#1a1a1a">CXCL16</text>
<text class="h2" x="136.1" y="52.7" font-size="5.1" font-weight="bold" fill="#1a1a1a">CXCL2</text>
<text class="h2" x="136.1" y="59.6" font-size="5.1" font-weight="bold" fill="#1a1a1a">CXCL8</text>
<text class="h2" x="136.1" y="66.5" font-size="5.1" font-weight="bold" fill="#1a1a1a">CXCL1</text>
<text class="h2" x="136.1" y="73.4" font-size="5.1" font-weight="bold" fill="#1a1a1a">CCL3</text>
<text class="h2" x="136.1" y="80.3" font-size="5.1" font-weight="bold" fill="#1a1a1a">CCL4</text>
<text class="h2" x="136.1" y="87.2" font-size="5.1" font-weight="bold" fill="#1a1a1a">CKLF</text>
<text class="h2" x="136.1" y="94.1" font-size="5.1" font-weight="bold" fill="#1a1a1a">CCL2</text>
<text class="h2" x="136.1" y="101" font-size="5.1" font-weight="bold" fill="#1a1a1a">CCL8</text>
<text class="h2" x="136.1" y="107.9" font-size="5.1" font-weight="bold" fill="#1a1a1a">CCL17</text>
<text class="h2" x="136.1" y="114.8" font-size="5.1" font-weight="bold" fill="#1a1a1a">CXCL11</text>
<text class="h2" x="136.1" y="121.7" font-size="5.1" font-weight="bold" fill="#1a1a1a">CCL19</text>
<text class="h2" x="136.1" y="128.6" font-size="5.1" font-weight="bold" fill="#1a1a1a">CXCL13</text>
<text class="h2" x="136.1" y="135.5" font-size="5.1" font-weight="bold" fill="#1a1a1a">CXCL10</text>
<text class="h2" x="136.1" y="142.4" font-size="5.1" font-weight="bold" fill="#1a1a1a">CCL22</text>
<text class="h2" x="136.1" y="149.3" font-size="5.1" font-weight="bold" fill="#1a1a1a">CCL5</text>
<text class="h2" x="136.1" y="156.2" font-size="5.1" font-weight="bold" fill="#1a1a1a">CXCL9</text>
<text class="h2" x="136.1" y="163.1" font-size="5.1" font-weight="bold" fill="#1a1a1a">CCL13</text>
<text class="h2" x="136.1" y="170" font-size="5.1" font-weight="bold" fill="#1a1a1a">CXCL7)</text>
<text class="h2" x="136.1" y="176.9" font-size="5.1" font-weight="bold" fill="#1a1a1a">CXCL4</text>
<text class="h" x="47.7" y="185.3" font-size="6.3" font-weight="bold" fill="#111" textLength="19.2" lengthAdjust="spacingAndGlyphs">before</text>
<text class="h" x="74.2" y="185.3" font-size="6.3" font-weight="bold" fill="#111" textLength="13.9" lengthAdjust="spacingAndGlyphs">after</text>
<text class="h" x="92.0" y="185.3" font-size="6.3" font-weight="bold" fill="#111" textLength="20" lengthAdjust="spacingAndGlyphs">before</text>
<text class="h" x="118.8" y="185.3" font-size="6.3" font-weight="bold" fill="#111" textLength="14.8" lengthAdjust="spacingAndGlyphs">after</text>
<rect x="47.7" y="186.2" width="20.2" height="1.4" fill="#000"/>
<rect x="73.6" y="186.2" width="16" height="1.4" fill="#000"/>
<rect x="92" y="186.2" width="20.7" height="1.4" fill="#000"/>
<rect x="118.5" y="186.2" width="15.7" height="1.4" fill="#000"/>
<text class="h" x="62" y="196.5" font-size="6.3" font-weight="bold" fill="#111" textLength="16.5" lengthAdjust="spacingAndGlyphs">pDCs</text>
<text class="h" x="106.3" y="196.5" font-size="6.3" font-weight="bold" fill="#111" textLength="17.7" lengthAdjust="spacingAndGlyphs">mDCs</text>
<g filter="url(#soft)"><rect x="176.1" y="39" width="7.2" height="234.7" fill="url(#gb)"/></g>
<text class="h" x="168.6" y="42.8" font-size="4.8" font-weight="bold" fill="#222" textLength="5.8" lengthAdjust="spacingAndGlyphs">50</text>
<text class="h" x="168.6" y="68.6" font-size="4.8" font-weight="bold" fill="#222" textLength="5.8" lengthAdjust="spacingAndGlyphs">30</text>
<text class="h" x="168.6" y="86.1" font-size="4.8" font-weight="bold" fill="#222" textLength="5.8" lengthAdjust="spacingAndGlyphs">20</text>
<text class="h" x="168.6" y="96.6" font-size="4.8" font-weight="bold" fill="#222" textLength="5.8" lengthAdjust="spacingAndGlyphs">15</text>
<text class="h" x="168.6" y="109.8" font-size="4.8" font-weight="bold" fill="#222" textLength="5.8" lengthAdjust="spacingAndGlyphs">10</text>
<text class="h" x="168.6" y="126.9" font-size="4.8" font-weight="bold" fill="#222" textLength="6.6" lengthAdjust="spacingAndGlyphs">5.0</text>
<text class="h" x="168.6" y="139.6" font-size="4.8" font-weight="bold" fill="#222" textLength="6.6" lengthAdjust="spacingAndGlyphs">3.0</text>
<text class="h" x="168.6" y="155.9" font-size="4.8" font-weight="bold" fill="#222" textLength="6.6" lengthAdjust="spacingAndGlyphs">2.0</text>
<text class="h" x="168.6" y="187.9" font-size="4.8" font-weight="bold" fill="#222" textLength="6.6" lengthAdjust="spacingAndGlyphs">1.5</text>
<text class="h" x="168.6" y="204.6" font-size="4.8" font-weight="bold" fill="#222" textLength="6.6" lengthAdjust="spacingAndGlyphs">1.2</text>
<text class="h" x="168.6" y="215.6" font-size="4.8" font-weight="bold" fill="#222" textLength="6.6" lengthAdjust="spacingAndGlyphs">1.0</text>
<text class="h" x="168.6" y="232.4" font-size="4.8" font-weight="bold" fill="#222" textLength="6.6" lengthAdjust="spacingAndGlyphs">0.7</text>
<text class="h" x="168.6" y="245.4" font-size="4.8" font-weight="bold" fill="#222" textLength="6.6" lengthAdjust="spacingAndGlyphs">0.5</text>
<text class="h" x="168.6" y="257.3" font-size="4.8" font-weight="bold" fill="#222" textLength="6.6" lengthAdjust="spacingAndGlyphs">0.3</text>
<text class="h" x="168.6" y="273.9" font-size="4.8" font-weight="bold" fill="#222" textLength="6.6" lengthAdjust="spacingAndGlyphs">0.0</text>
<text transform="translate(189.5,194.3) rotate(-90)" font-size="5.7" font-weight="bold" fill="#111" textLength="61.2" lengthAdjust="spacingAndGlyphs">normalized expression</text>
<g filter="url(#soft)">
<rect x="195.4" y="38.8" width="4.97" height="6.32" fill="#00f800"/>
<rect x="199.37" y="38.8" width="4.97" height="6.32" fill="#00f800"/>
<rect x="203.33" y="38.8" width="4.97" height="6.32" fill="#00f800"/>
<rect x="207.3" y="38.8" width="4.97" height="6.32" fill="#00f800"/>
<rect x="211.27" y="38.8" width="4.97" height="6.32" fill="#00f800"/>
<rect x="215.23" y="38.8" width="4.97" height="6.32" fill="#00f800"/>
<rect x="219.2" y="38.8" width="4.97" height="6.32" fill="#00d400"/>
<rect x="223.17" y="38.8" width="4.97" height="6.32" fill="#00f800"/>
<rect x="227.13" y="38.8" width="4.97" height="6.32" fill="#00d400"/>
<rect x="231.1" y="38.8" width="4.97" height="6.32" fill="#00d400"/>
<rect x="235.07" y="38.8" width="4.97" height="6.32" fill="#00d400"/>
<rect x="239.03" y="38.8" width="3.97" height="6.32" fill="#00d400"/>
<rect x="195.4" y="44.12" width="4.97" height="6.32" fill="#00f800"/>
<rect x="199.37" y="44.12" width="4.97" height="6.32" fill="#00f800"/>
<rect x="203.33" y="44.12" width="4.97" height="6.32" fill="#00f800"/>
<rect x="207.3" y="44.12" width="4.97" height="6.32" fill="#00f800"/>
<rect x="211.27" y="44.12" width="4.97" height="6.32" fill="#00f800"/>
<rect x="215.23" y="44.12" width="4.97" height="6.32" fill="#00f800"/>
<rect x="219.2" y="44.12" width="4.97" height="6.32" fill="#00f800"/>
<rect x="223.17" y="44.12" width="4.97" height="6.32" fill="#00f800"/>
<rect x="227.13" y="44.12" width="4.97" height="6.32" fill="#00f800"/>
<rect x="231.1" y="44.12" width="4.97" height="6.32" fill="#00f800"/>
<rect x="235.07" y="44.12" width="4.97" height="6.32" fill="#00f800"/>
<rect x="239.03" y="44.12" width="3.97" height="6.32" fill="#00f800"/>
<rect x="195.4" y="49.44" width="4.97" height="6.32" fill="#00f800"/>
<rect x="199.37" y="49.44" width="4.97" height="6.32" fill="#00f800"/>
<rect x="203.33" y="49.44" width="4.97" height="6.32" fill="#00f800"/>
<rect x="207.3" y="49.44" width="4.97" height="6.32" fill="#00f800"/>
<rect x="211.27" y="49.44" width="4.97" height="6.32" fill="#00f800"/>
<rect x="215.23" y="49.44" width="4.97" height="6.32" fill="#00f800"/>
<rect x="219.2" y="49.44" width="4.97" height="6.32" fill="#00f800"/>
<rect x="223.17" y="49.44" width="4.97" height="6.32" fill="#00f800"/>
<rect x="227.13" y="49.44" width="4.97" height="6.32" fill="#00f800"/>
<rect x="231.1" y="49.44" width="4.97" height="6.32" fill="#00f800"/>
<rect x="235.07" y="49.44" width="4.97" height="6.32" fill="#00f800"/>
<rect x="239.03" y="49.44" width="3.97" height="6.32" fill="#00f800"/>
<rect x="195.4" y="54.76" width="4.97" height="6.32" fill="#00f800"/>
<rect x="199.37" y="54.76" width="4.97" height="6.32" fill="#00f800"/>
<rect x="203.33" y="54.76" width="4.97" height="6.32" fill="#00f800"/>
<rect x="207.3" y="54.76" width="4.97" height="6.32" fill="#00f800"/>
<rect x="211.27" y="54.76" width="4.97" height="6.32" fill="#00f800"/>
<rect x="215.23" y="54.76" width="4.97" height="6.32" fill="#00f800"/>
<rect x="219.2" y="54.76" width="4.97" height="6.32" fill="#00f800"/>
<rect x="223.17" y="54.76" width="4.97" height="6.32" fill="#00f800"/>
<rect x="227.13" y="54.76" width="4.97" height="6.32" fill="#00f800"/>
<rect x="231.1" y="54.76" width="4.97" height="6.32" fill="#00f800"/>
<rect x="235.07" y="54.76" width="4.97" height="6.32" fill="#00f800"/>
<rect x="239.03" y="54.76" width="3.97" height="6.32" fill="#00f800"/>
<rect x="195.4" y="60.08" width="4.97" height="6.32" fill="#00f800"/>
<rect x="199.37" y="60.08" width="4.97" height="6.32" fill="#00f800"/>
<rect x="203.33" y="60.08" width="4.97" height="6.32" fill="#00f800"/>
<rect x="207.3" y="60.08" width="4.97" height="6.32" fill="#00f800"/>
<rect x="211.27" y="60.08" width="4.97" height="6.32" fill="#00f800"/>
<rect x="215.23" y="60.08" width="4.97" height="6.32" fill="#00f800"/>
<rect x="219.2" y="60.08" width="4.97" height="6.32" fill="#00f800"/>
<rect x="223.17" y="60.08" width="4.97" height="6.32" fill="#00f800"/>
<rect x="227.13" y="60.08" width="4.97" height="6.32" fill="#00f800"/>
<rect x="231.1" y="60.08" width="4.97" height="6.32" fill="#00f800"/>
<rect x="235.07" y="60.08" width="4.97" height="6.32" fill="#00f800"/>
<rect x="239.03" y="60.08" width="3.97" height="6.32" fill="#00f800"/>
<rect x="195.4" y="65.4" width="4.97" height="6.32" fill="#00f800"/>
<rect x="199.37" y="65.4" width="4.97" height="6.32" fill="#00f800"/>
<rect x="203.33" y="65.4" width="4.97" height="6.32" fill="#00f800"/>
<rect x="207.3" y="65.4" width="4.97" height="6.32" fill="#000000"/>
<rect x="211.27" y="65.4" width="4.97" height="6.32" fill="#00f800"/>
<rect x="215.23" y="65.4" width="4.97" height="6.32" fill="#005a00"/>
<rect x="219.2" y="65.4" width="4.97" height="6.32" fill="#00f800"/>
<rect x="223.17" y="65.4" width="4.97" height="6.32" fill="#005a00"/>
<rect x="227.13" y="65.4" width="4.97" height="6.32" fill="#00f800"/>
<rect x="231.1" y="65.4" width="4.97" height="6.32" fill="#00b000"/>
<rect x="235.07" y="65.4" width="4.97" height="6.32" fill="#00f800"/>
<rect x="239.03" y="65.4" width="3.97" height="6.32" fill="#00f800"/>
<rect x="195.4" y="70.72" width="4.97" height="6.32" fill="#000000"/>
<rect x="199.37" y="70.72" width="4.97" height="6.32" fill="#000000"/>
<rect x="203.33" y="70.72" width="4.97" height="6.32" fill="#000000"/>
<rect x="207.3" y="70.72" width="4.97" height="6.32" fill="#000000"/>
<rect x="211.27" y="70.72" width="4.97" height="6.32" fill="#000000"/>
<rect x="215.23" y="70.72" width="4.97" height="6.32" fill="#000000"/>
<rect x="219.2" y="70.72" width="4.97" height="6.32" fill="#00b000"/>
<rect x="223.17" y="70.72" width="4.97" height="6.32" fill="#005a00"/>
<rect x="227.13" y="70.72" width="4.97" height="6.32" fill="#000000"/>
<rect x="231.1" y="70.72" width="4.97" height="6.32" fill="#00b000"/>
<rect x="235.07" y="70.72" width="4.97" height="6.32" fill="#000000"/>
<rect x="239.03" y="70.72" width="3.97" height="6.32" fill="#005a00"/>
<rect x="195.4" y="76.04" width="4.97" height="6.32" fill="#000000"/>
<rect x="199.37" y="76.04" width="4.97" height="6.32" fill="#000000"/>
<rect x="203.33" y="76.04" width="4.97" height="6.32" fill="#000000"/>
<rect x="207.3" y="76.04" width="4.97" height="6.32" fill="#000000"/>
<rect x="211.27" y="76.04" width="4.97" height="6.32" fill="#000000"/>
<rect x="215.23" y="76.04" width="4.97" height="6.32" fill="#000000"/>
<rect x="219.2" y="76.04" width="4.97" height="6.32" fill="#000000"/>
<rect x="223.17" y="76.04" width="4.97" height="6.32" fill="#000000"/>
<rect x="227.13" y="76.04" width="4.97" height="6.32" fill="#000000"/>
<rect x="231.1" y="76.04" width="4.97" height="6.32" fill="#000000"/>
<rect x="235.07" y="76.04" width="4.97" height="6.32" fill="#000000"/>
<rect x="239.03" y="76.04" width="3.97" height="6.32" fill="#000000"/>
<rect x="195.4" y="81.36" width="4.97" height="6.32" fill="#fa1226"/>
<rect x="199.37" y="81.36" width="4.97" height="6.32" fill="#b00000"/>
<rect x="203.33" y="81.36" width="4.97" height="6.32" fill="#000000"/>
<rect x="207.3" y="81.36" width="4.97" height="6.32" fill="#000000"/>
<rect x="211.27" y="81.36" width="4.97" height="6.32" fill="#fa1226"/>
<rect x="215.23" y="81.36" width="4.97" height="6.32" fill="#6a0000"/>
<rect x="219.2" y="81.36" width="4.97" height="6.32" fill="#fa1226"/>
<rect x="223.17" y="81.36" width="4.97" height="6.32" fill="#fa1226"/>
<rect x="227.13" y="81.36" width="4.97" height="6.32" fill="#6a0000"/>
<rect x="231.1" y="81.36" width="4.97" height="6.32" fill="#fa1226"/>
<rect x="235.07" y="81.36" width="4.97" height="6.32" fill="#fa1226"/>
<rect x="239.03" y="81.36" width="3.97" height="6.32" fill="#b00000"/>
<rect x="195.4" y="86.68" width="4.97" height="6.32" fill="#00f800"/>
<rect x="199.37" y="86.68" width="4.97" height="6.32" fill="#00f800"/>
<rect x="203.33" y="86.68" width="4.97" height="6.32" fill="#00f800"/>
<rect x="207.3" y="86.68" width="4.97" height="6.32" fill="#00f800"/>
<rect x="211.27" y="86.68" width="4.97" height="6.32" fill="#00f800"/>
<rect x="215.23" y="86.68" width="4.97" height="6.32" fill="#00f800"/>
<rect x="219.2" y="86.68" width="4.97" height="6.32" fill="#00f800"/>
<rect x="223.17" y="86.68" width="4.97" height="6.32" fill="#00f800"/>
<rect x="227.13" y="86.68" width="4.97" height="6.32" fill="#00f800"/>
<rect x="231.1" y="86.68" width="4.97" height="6.32" fill="#00f800"/>
<rect x="235.07" y="86.68" width="4.97" height="6.32" fill="#00b000"/>
<rect x="239.03" y="86.68" width="3.97" height="6.32" fill="#00f800"/>
<rect x="195.4" y="92" width="4.97" height="6.32" fill="#00f800"/>
<rect x="199.37" y="92" width="4.97" height="6.32" fill="#00f800"/>
<rect x="203.33" y="92" width="4.97" height="6.32" fill="#00f800"/>
<rect x="207.3" y="92" width="4.97" height="6.32" fill="#00f800"/>
<rect x="211.27" y="92" width="4.97" height="6.32" fill="#00b000"/>
<rect x="215.23" y="92" width="4.97" height="6.32" fill="#00f800"/>
<rect x="219.2" y="92" width="4.97" height="6.32" fill="#00b000"/>
<rect x="223.17" y="92" width="4.97" height="6.32" fill="#00f800"/>
<rect x="227.13" y="92" width="4.97" height="6.32" fill="#00f800"/>
<rect x="231.1" y="92" width="4.97" height="6.32" fill="#00f800"/>
<rect x="235.07" y="92" width="4.97" height="6.32" fill="#00f800"/>
<rect x="239.03" y="92" width="3.97" height="6.32" fill="#00f800"/>
<rect x="195.4" y="97.32" width="4.97" height="6.32" fill="#00f800"/>
<rect x="199.37" y="97.32" width="4.97" height="6.32" fill="#00f800"/>
<rect x="203.33" y="97.32" width="4.97" height="6.32" fill="#00f800"/>
<rect x="207.3" y="97.32" width="4.97" height="6.32" fill="#00f800"/>
<rect x="211.27" y="97.32" width="4.97" height="6.32" fill="#00f800"/>
<rect x="215.23" y="97.32" width="4.97" height="6.32" fill="#00f800"/>
<rect x="219.2" y="97.32" width="4.97" height="6.32" fill="#00f800"/>
<rect x="223.17" y="97.32" width="4.97" height="6.32" fill="#00f800"/>
<rect x="227.13" y="97.32" width="4.97" height="6.32" fill="#00f800"/>
<rect x="231.1" y="97.32" width="4.97" height="6.32" fill="#00f800"/>
<rect x="235.07" y="97.32" width="4.97" height="6.32" fill="#00f800"/>
<rect x="239.03" y="97.32" width="3.97" height="6.32" fill="#00f800"/>
<rect x="195.4" y="102.64" width="4.97" height="6.32" fill="#000000"/>
<rect x="199.37" y="102.64" width="4.97" height="6.32" fill="#000000"/>
<rect x="203.33" y="102.64" width="4.97" height="6.32" fill="#000000"/>
<rect x="207.3" y="102.64" width="4.97" height="6.32" fill="#000000"/>
<rect x="211.27" y="102.64" width="4.97" height="6.32" fill="#00f800"/>
<rect x="215.23" y="102.64" width="4.97" height="6.32" fill="#000000"/>
<rect x="219.2" y="102.64" width="4.97" height="6.32" fill="#000000"/>
<rect x="223.17" y="102.64" width="4.97" height="6.32" fill="#00f800"/>
<rect x="227.13" y="102.64" width="4.97" height="6.32" fill="#000000"/>
<rect x="231.1" y="102.64" width="4.97" height="6.32" fill="#005a00"/>
<rect x="235.07" y="102.64" width="4.97" height="6.32" fill="#000000"/>
<rect x="239.03" y="102.64" width="3.97" height="6.32" fill="#00f800"/>
<rect x="195.4" y="107.96" width="4.97" height="6.32" fill="#00f800"/>
<rect x="199.37" y="107.96" width="4.97" height="6.32" fill="#005a00"/>
<rect x="203.33" y="107.96" width="4.97" height="6.32" fill="#00b000"/>
<rect x="207.3" y="107.96" width="4.97" height="6.32" fill="#00f800"/>
<rect x="211.27" y="107.96" width="4.97" height="6.32" fill="#00f800"/>
<rect x="215.23" y="107.96" width="4.97" height="6.32" fill="#005a00"/>
<rect x="219.2" y="107.96" width="4.97" height="6.32" fill="#00f800"/>
<rect x="223.17" y="107.96" width="4.97" height="6.32" fill="#00f800"/>
<rect x="227.13" y="107.96" width="4.97" height="6.32" fill="#00f800"/>
<rect x="231.1" y="107.96" width="4.97" height="6.32" fill="#00f800"/>
<rect x="235.07" y="107.96" width="4.97" height="6.32" fill="#005a00"/>
<rect x="239.03" y="107.96" width="3.97" height="6.32" fill="#00f800"/>
<rect x="195.4" y="113.28" width="4.97" height="6.32" fill="#00f800"/>
<rect x="199.37" y="113.28" width="4.97" height="6.32" fill="#00f800"/>
<rect x="203.33" y="113.28" width="4.97" height="6.32" fill="#00f800"/>
<rect x="207.3" y="113.28" width="4.97" height="6.32" fill="#000000"/>
<rect x="211.27" y="113.28" width="4.97" height="6.32" fill="#00f800"/>
<rect x="215.23" y="113.28" width="4.97" height="6.32" fill="#00f800"/>
<rect x="219.2" y="113.28" width="4.97" height="6.32" fill="#00f800"/>
<rect x="223.17" y="113.28" width="4.97" height="6.32" fill="#00f800"/>
<rect x="227.13" y="113.28" width="4.97" height="6.32" fill="#00f800"/>
<rect x="231.1" y="113.28" width="4.97" height="6.32" fill="#00f800"/>
<rect x="235.07" y="113.28" width="4.97" height="6.32" fill="#00f800"/>
<rect x="239.03" y="113.28" width="3.97" height="6.32" fill="#00f800"/>
<rect x="195.4" y="118.6" width="4.97" height="6.32" fill="#000000"/>
<rect x="199.37" y="118.6" width="4.97" height="6.32" fill="#000000"/>
<rect x="203.33" y="118.6" width="4.97" height="6.32" fill="#00b000"/>
<rect x="207.3" y="118.6" width="4.97" height="6.32" fill="#000000"/>
<rect x="211.27" y="118.6" width="4.97" height="6.32" fill="#000000"/>
<rect x="215.23" y="118.6" width="4.97" height="6.32" fill="#005a00"/>
<rect x="219.2" y="118.6" width="4.97" height="6.32" fill="#005a00"/>
<rect x="223.17" y="118.6" width="4.97" height="6.32" fill="#005a00"/>
<rect x="227.13" y="118.6" width="4.97" height="6.32" fill="#005a00"/>
<rect x="231.1" y="118.6" width="4.97" height="6.32" fill="#005a00"/>
<rect x="235.07" y="118.6" width="4.97" height="6.32" fill="#005a00"/>
<rect x="239.03" y="118.6" width="3.97" height="6.32" fill="#000000"/>
<rect x="195.4" y="123.92" width="4.97" height="6.32" fill="#00f800"/>
<rect x="199.37" y="123.92" width="4.97" height="6.32" fill="#00f800"/>
<rect x="203.33" y="123.92" width="4.97" height="6.32" fill="#00f800"/>
<rect x="207.3" y="123.92" width="4.97" height="6.32" fill="#00f800"/>
<rect x="211.27" y="123.92" width="4.97" height="6.32" fill="#00f800"/>
<rect x="215.23" y="123.92" width="4.97" height="6.32" fill="#00f800"/>
<rect x="219.2" y="123.92" width="4.97" height="6.32" fill="#00f800"/>
<rect x="223.17" y="123.92" width="4.97" height="6.32" fill="#00f800"/>
<rect x="227.13" y="123.92" width="4.97" height="6.32" fill="#00f800"/>
<rect x="231.1" y="123.92" width="4.97" height="6.32" fill="#00f800"/>
<rect x="235.07" y="123.92" width="4.97" height="6.32" fill="#00f800"/>
<rect x="239.03" y="123.92" width="3.97" height="6.32" fill="#00f800"/>
<rect x="195.4" y="129.24" width="4.97" height="6.32" fill="#005a00"/>
<rect x="199.37" y="129.24" width="4.97" height="6.32" fill="#000000"/>
<rect x="203.33" y="129.24" width="4.97" height="6.32" fill="#005a00"/>
<rect x="207.3" y="129.24" width="4.97" height="6.32" fill="#00f800"/>
<rect x="211.27" y="129.24" width="4.97" height="6.32" fill="#00f800"/>
<rect x="215.23" y="129.24" width="4.97" height="6.32" fill="#00f800"/>
<rect x="219.2" y="129.24" width="4.97" height="6.32" fill="#00f800"/>
<rect x="223.17" y="129.24" width="4.97" height="6.32" fill="#00f800"/>
<rect x="227.13" y="129.24" width="4.97" height="6.32" fill="#00f800"/>
<rect x="231.1" y="129.24" width="4.97" height="6.32" fill="#00f800"/>
<rect x="235.07" y="129.24" width="4.97" height="6.32" fill="#00f800"/>
<rect x="239.03" y="129.24" width="3.97" height="6.32" fill="#00f800"/>
<rect x="195.4" y="134.56" width="4.97" height="6.32" fill="#00f800"/>
<rect x="199.37" y="134.56" width="4.97" height="6.32" fill="#000000"/>
<rect x="203.33" y="134.56" width="4.97" height="6.32" fill="#00f800"/>
<rect x="207.3" y="134.56" width="4.97" height="6.32" fill="#000000"/>
<rect x="211.27" y="134.56" width="4.97" height="6.32" fill="#00f800"/>
<rect x="215.23" y="134.56" width="4.97" height="6.32" fill="#00f800"/>
<rect x="219.2" y="134.56" width="4.97" height="6.32" fill="#00f800"/>
<rect x="223.17" y="134.56" width="4.97" height="6.32" fill="#00f800"/>
<rect x="227.13" y="134.56" width="4.97" height="6.32" fill="#00f800"/>
<rect x="231.1" y="134.56" width="4.97" height="6.32" fill="#00f800"/>
<rect x="235.07" y="134.56" width="4.97" height="6.32" fill="#00f800"/>
<rect x="239.03" y="134.56" width="3.97" height="6.32" fill="#00f800"/>
<rect x="195.4" y="139.88" width="4.97" height="6.32" fill="#00f800"/>
<rect x="199.37" y="139.88" width="4.97" height="6.32" fill="#005a00"/>
<rect x="203.33" y="139.88" width="4.97" height="6.32" fill="#00f800"/>
<rect x="207.3" y="139.88" width="4.97" height="6.32" fill="#000000"/>
<rect x="211.27" y="139.88" width="4.97" height="6.32" fill="#00f800"/>
<rect x="215.23" y="139.88" width="4.97" height="6.32" fill="#00f800"/>
<rect x="219.2" y="139.88" width="4.97" height="6.32" fill="#00f800"/>
<rect x="223.17" y="139.88" width="4.97" height="6.32" fill="#00f800"/>
<rect x="227.13" y="139.88" width="4.97" height="6.32" fill="#00f800"/>
<rect x="231.1" y="139.88" width="4.97" height="6.32" fill="#00f800"/>
<rect x="235.07" y="139.88" width="4.97" height="6.32" fill="#00f800"/>
<rect x="239.03" y="139.88" width="3.97" height="6.32" fill="#00b000"/>
<rect x="195.4" y="145.2" width="4.97" height="6.32" fill="#00f800"/>
<rect x="199.37" y="145.2" width="4.97" height="6.32" fill="#00f800"/>
<rect x="203.33" y="145.2" width="4.97" height="6.32" fill="#00f800"/>
<rect x="207.3" y="145.2" width="4.97" height="6.32" fill="#00f800"/>
<rect x="211.27" y="145.2" width="4.97" height="6.32" fill="#00f800"/>
<rect x="215.23" y="145.2" width="4.97" height="6.32" fill="#00f800"/>
<rect x="219.2" y="145.2" width="4.97" height="6.32" fill="#00f800"/>
<rect x="223.17" y="145.2" width="4.97" height="6.32" fill="#00f800"/>
<rect x="227.13" y="145.2" width="4.97" height="6.32" fill="#00f800"/>
<rect x="231.1" y="145.2" width="4.97" height="6.32" fill="#00f800"/>
<rect x="235.07" y="145.2" width="4.97" height="6.32" fill="#00f800"/>
<rect x="239.03" y="145.2" width="3.97" height="6.32" fill="#00f800"/>
<rect x="195.4" y="150.52" width="4.97" height="6.32" fill="#fa1226"/>
<rect x="199.37" y="150.52" width="4.97" height="6.32" fill="#fa1226"/>
<rect x="203.33" y="150.52" width="4.97" height="6.32" fill="#6a0000"/>
<rect x="207.3" y="150.52" width="4.97" height="6.32" fill="#fa1226"/>
<rect x="211.27" y="150.52" width="4.97" height="6.32" fill="#fa1226"/>
<rect x="215.23" y="150.52" width="4.97" height="6.32" fill="#6a0000"/>
<rect x="219.2" y="150.52" width="4.97" height="6.32" fill="#000000"/>
<rect x="223.17" y="150.52" width="4.97" height="6.32" fill="#6a0000"/>
<rect x="227.13" y="150.52" width="4.97" height="6.32" fill="#000000"/>
<rect x="231.1" y="150.52" width="4.97" height="6.32" fill="#00f800"/>
<rect x="235.07" y="150.52" width="4.97" height="6.32" fill="#000000"/>
<rect x="239.03" y="150.52" width="3.97" height="6.32" fill="#000000"/>
<rect x="195.4" y="155.84" width="4.97" height="6.32" fill="#fa1226"/>
<rect x="199.37" y="155.84" width="4.97" height="6.32" fill="#fa1226"/>
<rect x="203.33" y="155.84" width="4.97" height="6.32" fill="#6a0000"/>
<rect x="207.3" y="155.84" width="4.97" height="6.32" fill="#fa1226"/>
<rect x="211.27" y="155.84" width="4.97" height="6.32" fill="#fa1226"/>
<rect x="215.23" y="155.84" width="4.97" height="6.32" fill="#6a0000"/>
<rect x="219.2" y="155.84" width="4.97" height="6.32" fill="#000000"/>
<rect x="223.17" y="155.84" width="4.97" height="6.32" fill="#6a0000"/>
<rect x="227.13" y="155.84" width="4.97" height="6.32" fill="#000000"/>
<rect x="231.1" y="155.84" width="4.97" height="6.32" fill="#000000"/>
<rect x="235.07" y="155.84" width="4.97" height="6.32" fill="#000000"/>
<rect x="239.03" y="155.84" width="3.97" height="6.32" fill="#000000"/>
<rect x="195.4" y="161.16" width="4.97" height="6.32" fill="#000000"/>
<rect x="199.37" y="161.16" width="4.97" height="6.32" fill="#000000"/>
<rect x="203.33" y="161.16" width="4.97" height="6.32" fill="#000000"/>
<rect x="207.3" y="161.16" width="4.97" height="6.32" fill="#000000"/>
<rect x="211.27" y="161.16" width="4.97" height="6.32" fill="#000000"/>
<rect x="215.23" y="161.16" width="4.97" height="6.32" fill="#00f800"/>
<rect x="219.2" y="161.16" width="4.97" height="6.32" fill="#00f800"/>
<rect x="223.17" y="161.16" width="4.97" height="6.32" fill="#00f800"/>
<rect x="227.13" y="161.16" width="4.97" height="6.32" fill="#00f800"/>
<rect x="231.1" y="161.16" width="4.97" height="6.32" fill="#00f800"/>
<rect x="235.07" y="161.16" width="4.97" height="6.32" fill="#00f800"/>
<rect x="239.03" y="161.16" width="3.97" height="6.32" fill="#00f800"/>
<rect x="195.4" y="166.48" width="4.97" height="6.32" fill="#005a00"/>
<rect x="199.37" y="166.48" width="4.97" height="6.32" fill="#00f800"/>
<rect x="203.33" y="166.48" width="4.97" height="6.32" fill="#005a00"/>
<rect x="207.3" y="166.48" width="4.97" height="6.32" fill="#00f800"/>
<rect x="211.27" y="166.48" width="4.97" height="6.32" fill="#005a00"/>
<rect x="215.23" y="166.48" width="4.97" height="6.32" fill="#005a00"/>
<rect x="219.2" y="166.48" width="4.97" height="6.32" fill="#00f800"/>
<rect x="223.17" y="166.48" width="4.97" height="6.32" fill="#00f800"/>
<rect x="227.13" y="166.48" width="4.97" height="6.32" fill="#00f800"/>
<rect x="231.1" y="166.48" width="4.97" height="6.32" fill="#00f800"/>
<rect x="235.07" y="166.48" width="4.97" height="6.32" fill="#00f800"/>
<rect x="239.03" y="166.48" width="3.97" height="6.32" fill="#00f800"/>
<rect x="195.4" y="171.8" width="4.97" height="6.32" fill="#00f800"/>
<rect x="199.37" y="171.8" width="4.97" height="6.32" fill="#00f800"/>
<rect x="203.33" y="171.8" width="4.97" height="6.32" fill="#00f800"/>
<rect x="207.3" y="171.8" width="4.97" height="6.32" fill="#00f800"/>
<rect x="211.27" y="171.8" width="4.97" height="6.32" fill="#00f800"/>
<rect x="215.23" y="171.8" width="4.97" height="6.32" fill="#00f800"/>
<rect x="219.2" y="171.8" width="4.97" height="6.32" fill="#00f800"/>
<rect x="223.17" y="171.8" width="4.97" height="6.32" fill="#00f800"/>
<rect x="227.13" y="171.8" width="4.97" height="6.32" fill="#00f800"/>
<rect x="231.1" y="171.8" width="4.97" height="6.32" fill="#00f800"/>
<rect x="235.07" y="171.8" width="4.97" height="6.32" fill="#00f800"/>
<rect x="239.03" y="171.8" width="3.97" height="6.32" fill="#00f800"/>
<rect x="195.4" y="177.12" width="4.97" height="6.32" fill="#00f800"/>
<rect x="199.37" y="177.12" width="4.97" height="6.32" fill="#00f800"/>
<rect x="203.33" y="177.12" width="4.97" height="6.32" fill="#00f800"/>
<rect x="207.3" y="177.12" width="4.97" height="6.32" fill="#00f800"/>
<rect x="211.27" y="177.12" width="4.97" height="6.32" fill="#00f800"/>
<rect x="215.23" y="177.12" width="4.97" height="6.32" fill="#00f800"/>
<rect x="219.2" y="177.12" width="4.97" height="6.32" fill="#fa1226"/>
<rect x="223.17" y="177.12" width="4.97" height="6.32" fill="#fa1226"/>
<rect x="227.13" y="177.12" width="4.97" height="6.32" fill="#fa1226"/>
<rect x="231.1" y="177.12" width="4.97" height="6.32" fill="#fa1226"/>
<rect x="235.07" y="177.12" width="4.97" height="6.32" fill="#fa1226"/>
<rect x="239.03" y="177.12" width="3.97" height="6.32" fill="#fa1226"/>
<rect x="195.4" y="182.44" width="4.97" height="6.32" fill="#000000"/>
<rect x="199.37" y="182.44" width="4.97" height="6.32" fill="#000000"/>
<rect x="203.33" y="182.44" width="4.97" height="6.32" fill="#00f800"/>
<rect x="207.3" y="182.44" width="4.97" height="6.32" fill="#000000"/>
<rect x="211.27" y="182.44" width="4.97" height="6.32" fill="#6a0000"/>
<rect x="215.23" y="182.44" width="4.97" height="6.32" fill="#000000"/>
<rect x="219.2" y="182.44" width="4.97" height="6.32" fill="#fa1226"/>
<rect x="223.17" y="182.44" width="4.97" height="6.32" fill="#fa1226"/>
<rect x="227.13" y="182.44" width="4.97" height="6.32" fill="#fa1226"/>
<rect x="231.1" y="182.44" width="4.97" height="6.32" fill="#fa1226"/>
<rect x="235.07" y="182.44" width="4.97" height="6.32" fill="#fa1226"/>
<rect x="239.03" y="182.44" width="3.97" height="6.32" fill="#fa1226"/>
<rect x="195.4" y="187.76" width="4.97" height="6.32" fill="#000000"/>
<rect x="199.37" y="187.76" width="4.97" height="6.32" fill="#000000"/>
<rect x="203.33" y="187.76" width="4.97" height="6.32" fill="#00f800"/>
<rect x="207.3" y="187.76" width="4.97" height="6.32" fill="#00b000"/>
<rect x="211.27" y="187.76" width="4.97" height="6.32" fill="#6a0000"/>
<rect x="215.23" y="187.76" width="4.97" height="6.32" fill="#000000"/>
<rect x="219.2" y="187.76" width="4.97" height="6.32" fill="#fa1226"/>
<rect x="223.17" y="187.76" width="4.97" height="6.32" fill="#fa1226"/>
<rect x="227.13" y="187.76" width="4.97" height="6.32" fill="#fa1226"/>
<rect x="231.1" y="187.76" width="4.97" height="6.32" fill="#fa1226"/>
<rect x="235.07" y="187.76" width="4.97" height="6.32" fill="#fa1226"/>
<rect x="239.03" y="187.76" width="3.97" height="6.32" fill="#fa1226"/>
<rect x="195.4" y="193.08" width="4.97" height="6.32" fill="#005a00"/>
<rect x="199.37" y="193.08" width="4.97" height="6.32" fill="#000000"/>
<rect x="203.33" y="193.08" width="4.97" height="6.32" fill="#000000"/>
<rect x="207.3" y="193.08" width="4.97" height="6.32" fill="#000000"/>
<rect x="211.27" y="193.08" width="4.97" height="6.32" fill="#000000"/>
<rect x="215.23" y="193.08" width="4.97" height="6.32" fill="#000000"/>
<rect x="219.2" y="193.08" width="4.97" height="6.32" fill="#fa1226"/>
<rect x="223.17" y="193.08" width="4.97" height="6.32" fill="#fa1226"/>
<rect x="227.13" y="193.08" width="4.97" height="6.32" fill="#fa1226"/>
<rect x="231.1" y="193.08" width="4.97" height="6.32" fill="#fa1226"/>
<rect x="235.07" y="193.08" width="4.97" height="6.32" fill="#fa1226"/>
<rect x="239.03" y="193.08" width="3.97" height="6.32" fill="#fa1226"/>
<rect x="195.4" y="198.4" width="4.97" height="6.32" fill="#00f800"/>
<rect x="199.37" y="198.4" width="4.97" height="6.32" fill="#00f800"/>
<rect x="203.33" y="198.4" width="4.97" height="6.32" fill="#00f800"/>
<rect x="207.3" y="198.4" width="4.97" height="6.32" fill="#00f800"/>
<rect x="211.27" y="198.4" width="4.97" height="6.32" fill="#00f800"/>
<rect x="215.23" y="198.4" width="4.97" height="6.32" fill="#00f800"/>
<rect x="219.2" y="198.4" width="4.97" height="6.32" fill="#00f800"/>
<rect x="223.17" y="198.4" width="4.97" height="6.32" fill="#00f800"/>
<rect x="227.13" y="198.4" width="4.97" height="6.32" fill="#00f800"/>
<rect x="231.1" y="198.4" width="4.97" height="6.32" fill="#00f800"/>
<rect x="235.07" y="198.4" width="4.97" height="6.32" fill="#00f800"/>
<rect x="239.03" y="198.4" width="3.97" height="6.32" fill="#00f800"/>
<rect x="195.4" y="203.72" width="4.97" height="6.32" fill="#00f800"/>
<rect x="199.37" y="203.72" width="4.97" height="6.32" fill="#00f800"/>
<rect x="203.33" y="203.72" width="4.97" height="6.32" fill="#00f800"/>
<rect x="207.3" y="203.72" width="4.97" height="6.32" fill="#000000"/>
<rect x="211.27" y="203.72" width="4.97" height="6.32" fill="#00f800"/>
<rect x="215.23" y="203.72" width="4.97" height="6.32" fill="#00f800"/>
<rect x="219.2" y="203.72" width="4.97" height="6.32" fill="#00f800"/>
<rect x="223.17" y="203.72" width="4.97" height="6.32" fill="#005a00"/>
<rect x="227.13" y="203.72" width="4.97" height="6.32" fill="#00f800"/>
<rect x="231.1" y="203.72" width="4.97" height="6.32" fill="#00f800"/>
<rect x="235.07" y="203.72" width="4.97" height="6.32" fill="#005a00"/>
<rect x="239.03" y="203.72" width="3.97" height="6.32" fill="#00f800"/>
<rect x="195.4" y="209.04" width="4.97" height="6.32" fill="#00f800"/>
<rect x="199.37" y="209.04" width="4.97" height="6.32" fill="#00f800"/>
<rect x="203.33" y="209.04" width="4.97" height="6.32" fill="#00f800"/>
<rect x="207.3" y="209.04" width="4.97" height="6.32" fill="#00f800"/>
<rect x="211.27" y="209.04" width="4.97" height="6.32" fill="#00f800"/>
<rect x="215.23" y="209.04" width="4.97" height="6.32" fill="#00f800"/>
<rect x="219.2" y="209.04" width="4.97" height="6.32" fill="#000000"/>
<rect x="223.17" y="209.04" width="4.97" height="6.32" fill="#6a0000"/>
<rect x="227.13" y="209.04" width="4.97" height="6.32" fill="#000000"/>
<rect x="231.1" y="209.04" width="4.97" height="6.32" fill="#fa1226"/>
<rect x="235.07" y="209.04" width="4.97" height="6.32" fill="#000000"/>
<rect x="239.03" y="209.04" width="3.97" height="6.32" fill="#6a0000"/>
<rect x="195.4" y="214.36" width="4.97" height="6.32" fill="#00f800"/>
<rect x="199.37" y="214.36" width="4.97" height="6.32" fill="#00f800"/>
<rect x="203.33" y="214.36" width="4.97" height="6.32" fill="#00f800"/>
<rect x="207.3" y="214.36" width="4.97" height="6.32" fill="#00f800"/>
<rect x="211.27" y="214.36" width="4.97" height="6.32" fill="#00f800"/>
<rect x="215.23" y="214.36" width="4.97" height="6.32" fill="#00f800"/>
<rect x="219.2" y="214.36" width="4.97" height="6.32" fill="#fa1226"/>
<rect x="223.17" y="214.36" width="4.97" height="6.32" fill="#fa1226"/>
<rect x="227.13" y="214.36" width="4.97" height="6.32" fill="#fa1226"/>
<rect x="231.1" y="214.36" width="4.97" height="6.32" fill="#fa1226"/>
<rect x="235.07" y="214.36" width="4.97" height="6.32" fill="#fa1226"/>
<rect x="239.03" y="214.36" width="3.97" height="6.32" fill="#fa1226"/>
<rect x="195.4" y="219.68" width="4.97" height="6.32" fill="#005a00"/>
<rect x="199.37" y="219.68" width="4.97" height="6.32" fill="#00f800"/>
<rect x="203.33" y="219.68" width="4.97" height="6.32" fill="#00f800"/>
<rect x="207.3" y="219.68" width="4.97" height="6.32" fill="#00f800"/>
<rect x="211.27" y="219.68" width="4.97" height="6.32" fill="#00f800"/>
<rect x="215.23" y="219.68" width="4.97" height="6.32" fill="#00f800"/>
<rect x="219.2" y="219.68" width="4.97" height="6.32" fill="#00f800"/>
<rect x="223.17" y="219.68" width="4.97" height="6.32" fill="#00f800"/>
<rect x="227.13" y="219.68" width="4.97" height="6.32" fill="#00f800"/>
<rect x="231.1" y="219.68" width="4.97" height="6.32" fill="#00b000"/>
<rect x="235.07" y="219.68" width="4.97" height="6.32" fill="#00f800"/>
<rect x="239.03" y="219.68" width="3.97" height="6.32" fill="#00f800"/>
<rect x="195.4" y="225" width="4.97" height="6.32" fill="#00f800"/>
<rect x="199.37" y="225" width="4.97" height="6.32" fill="#00f800"/>
<rect x="203.33" y="225" width="4.97" height="6.32" fill="#00f800"/>
<rect x="207.3" y="225" width="4.97" height="6.32" fill="#00f800"/>
<rect x="211.27" y="225" width="4.97" height="6.32" fill="#00f800"/>
<rect x="215.23" y="225" width="4.97" height="6.32" fill="#00f800"/>
<rect x="219.2" y="225" width="4.97" height="6.32" fill="#00f800"/>
<rect x="223.17" y="225" width="4.97" height="6.32" fill="#00f800"/>
<rect x="227.13" y="225" width="4.97" height="6.32" fill="#00f800"/>
<rect x="231.1" y="225" width="4.97" height="6.32" fill="#00f800"/>
<rect x="235.07" y="225" width="4.97" height="6.32" fill="#005a00"/>
<rect x="239.03" y="225" width="3.97" height="6.32" fill="#00f800"/>
<rect x="195.4" y="230.32" width="4.97" height="6.32" fill="#6a0000"/>
<rect x="199.37" y="230.32" width="4.97" height="6.32" fill="#000000"/>
<rect x="203.33" y="230.32" width="4.97" height="6.32" fill="#000000"/>
<rect x="207.3" y="230.32" width="4.97" height="6.32" fill="#6a0000"/>
<rect x="211.27" y="230.32" width="4.97" height="6.32" fill="#000000"/>
<rect x="215.23" y="230.32" width="4.97" height="6.32" fill="#000000"/>
<rect x="219.2" y="230.32" width="4.97" height="6.32" fill="#6a0000"/>
<rect x="223.17" y="230.32" width="4.97" height="6.32" fill="#fa1226"/>
<rect x="227.13" y="230.32" width="4.97" height="6.32" fill="#6a0000"/>
<rect x="231.1" y="230.32" width="4.97" height="6.32" fill="#fa1226"/>
<rect x="235.07" y="230.32" width="4.97" height="6.32" fill="#fa1226"/>
<rect x="239.03" y="230.32" width="3.97" height="6.32" fill="#6a0000"/>
<rect x="195.4" y="235.64" width="4.97" height="6.32" fill="#005a00"/>
<rect x="199.37" y="235.64" width="4.97" height="6.32" fill="#000000"/>
<rect x="203.33" y="235.64" width="4.97" height="6.32" fill="#00f800"/>
<rect x="207.3" y="235.64" width="4.97" height="6.32" fill="#000000"/>
<rect x="211.27" y="235.64" width="4.97" height="6.32" fill="#00b000"/>
<rect x="215.23" y="235.64" width="4.97" height="6.32" fill="#00f800"/>
<rect x="219.2" y="235.64" width="4.97" height="6.32" fill="#6a0000"/>
<rect x="223.17" y="235.64" width="4.97" height="6.32" fill="#fa1226"/>
<rect x="227.13" y="235.64" width="4.97" height="6.32" fill="#000000"/>
<rect x="231.1" y="235.64" width="4.97" height="6.32" fill="#6a0000"/>
<rect x="235.07" y="235.64" width="4.97" height="6.32" fill="#000000"/>
<rect x="239.03" y="235.64" width="3.97" height="6.32" fill="#fa1226"/>
<rect x="195.4" y="240.96" width="4.97" height="6.32" fill="#00f800"/>
<rect x="199.37" y="240.96" width="4.97" height="6.32" fill="#00f800"/>
<rect x="203.33" y="240.96" width="4.97" height="6.32" fill="#00f800"/>
<rect x="207.3" y="240.96" width="4.97" height="6.32" fill="#00f800"/>
<rect x="211.27" y="240.96" width="4.97" height="6.32" fill="#00f800"/>
<rect x="215.23" y="240.96" width="4.97" height="6.32" fill="#00f800"/>
<rect x="219.2" y="240.96" width="4.97" height="6.32" fill="#6a0000"/>
<rect x="223.17" y="240.96" width="4.97" height="6.32" fill="#b00000"/>
<rect x="227.13" y="240.96" width="4.97" height="6.32" fill="#000000"/>
<rect x="231.1" y="240.96" width="4.97" height="6.32" fill="#6a0000"/>
<rect x="235.07" y="240.96" width="4.97" height="6.32" fill="#6a0000"/>
<rect x="239.03" y="240.96" width="3.97" height="6.32" fill="#6a0000"/>
<rect x="195.4" y="246.28" width="4.97" height="6.32" fill="#00f800"/>
<rect x="199.37" y="246.28" width="4.97" height="6.32" fill="#00f800"/>
<rect x="203.33" y="246.28" width="4.97" height="6.32" fill="#00f800"/>
<rect x="207.3" y="246.28" width="4.97" height="6.32" fill="#00f800"/>
<rect x="211.27" y="246.28" width="4.97" height="6.32" fill="#00f800"/>
<rect x="215.23" y="246.28" width="4.97" height="6.32" fill="#00f800"/>
<rect x="219.2" y="246.28" width="4.97" height="6.32" fill="#00f800"/>
<rect x="223.17" y="246.28" width="4.97" height="6.32" fill="#00f800"/>
<rect x="227.13" y="246.28" width="4.97" height="6.32" fill="#00f800"/>
<rect x="231.1" y="246.28" width="4.97" height="6.32" fill="#00f800"/>
<rect x="235.07" y="246.28" width="4.97" height="6.32" fill="#00f800"/>
<rect x="239.03" y="246.28" width="3.97" height="6.32" fill="#00f800"/>
<rect x="195.4" y="251.6" width="4.97" height="6.32" fill="#00f800"/>
<rect x="199.37" y="251.6" width="4.97" height="6.32" fill="#00f800"/>
<rect x="203.33" y="251.6" width="4.97" height="6.32" fill="#00f800"/>
<rect x="207.3" y="251.6" width="4.97" height="6.32" fill="#00f800"/>
<rect x="211.27" y="251.6" width="4.97" height="6.32" fill="#00f800"/>
<rect x="215.23" y="251.6" width="4.97" height="6.32" fill="#00f800"/>
<rect x="219.2" y="251.6" width="4.97" height="6.32" fill="#00f800"/>
<rect x="223.17" y="251.6" width="4.97" height="6.32" fill="#00f800"/>
<rect x="227.13" y="251.6" width="4.97" height="6.32" fill="#00f800"/>
<rect x="231.1" y="251.6" width="4.97" height="6.32" fill="#00f800"/>
<rect x="235.07" y="251.6" width="4.97" height="6.32" fill="#00f800"/>
<rect x="239.03" y="251.6" width="3.97" height="6.32" fill="#00f800"/>
<rect x="195.4" y="256.92" width="4.97" height="6.32" fill="#00f800"/>
<rect x="199.37" y="256.92" width="4.97" height="6.32" fill="#00f800"/>
<rect x="203.33" y="256.92" width="4.97" height="6.32" fill="#00f800"/>
<rect x="207.3" y="256.92" width="4.97" height="6.32" fill="#00f800"/>
<rect x="211.27" y="256.92" width="4.97" height="6.32" fill="#00f800"/>
<rect x="215.23" y="256.92" width="4.97" height="6.32" fill="#00f800"/>
<rect x="219.2" y="256.92" width="4.97" height="6.32" fill="#00f800"/>
<rect x="223.17" y="256.92" width="4.97" height="6.32" fill="#00f800"/>
<rect x="227.13" y="256.92" width="4.97" height="6.32" fill="#00f800"/>
<rect x="231.1" y="256.92" width="4.97" height="6.32" fill="#00f800"/>
<rect x="235.07" y="256.92" width="4.97" height="6.32" fill="#00f800"/>
<rect x="239.03" y="256.92" width="3.97" height="6.32" fill="#00f800"/>
<rect x="195.4" y="262.24" width="4.97" height="6.32" fill="#00f800"/>
<rect x="199.37" y="262.24" width="4.97" height="6.32" fill="#00f800"/>
<rect x="203.33" y="262.24" width="4.97" height="6.32" fill="#00f800"/>
<rect x="207.3" y="262.24" width="4.97" height="6.32" fill="#00f800"/>
<rect x="211.27" y="262.24" width="4.97" height="6.32" fill="#00f800"/>
<rect x="215.23" y="262.24" width="4.97" height="6.32" fill="#00f800"/>
<rect x="219.2" y="262.24" width="4.97" height="6.32" fill="#00f800"/>
<rect x="223.17" y="262.24" width="4.97" height="6.32" fill="#00f800"/>
<rect x="227.13" y="262.24" width="4.97" height="6.32" fill="#00f800"/>
<rect x="231.1" y="262.24" width="4.97" height="6.32" fill="#00f800"/>
<rect x="235.07" y="262.24" width="4.97" height="6.32" fill="#00f800"/>
<rect x="239.03" y="262.24" width="3.97" height="6.32" fill="#00f800"/>
<rect x="195.4" y="267.56" width="4.97" height="5.32" fill="#00f800"/>
<rect x="199.37" y="267.56" width="4.97" height="5.32" fill="#00f800"/>
<rect x="203.33" y="267.56" width="4.97" height="5.32" fill="#00f800"/>
<rect x="207.3" y="267.56" width="4.97" height="5.32" fill="#00b000"/>
<rect x="211.27" y="267.56" width="4.97" height="5.32" fill="#00f800"/>
<rect x="215.23" y="267.56" width="4.97" height="5.32" fill="#00f800"/>
<rect x="219.2" y="267.56" width="4.97" height="5.32" fill="#00f800"/>
<rect x="223.17" y="267.56" width="4.97" height="5.32" fill="#00f800"/>
<rect x="227.13" y="267.56" width="4.97" height="5.32" fill="#00f800"/>
<rect x="231.1" y="267.56" width="4.97" height="5.32" fill="#00f800"/>
<rect x="235.07" y="267.56" width="4.97" height="5.32" fill="#00f800"/>
<rect x="239.03" y="267.56" width="3.97" height="5.32" fill="#00f800"/>
<rect x="244.5" y="38.8" width="4.93" height="6.32" fill="#00f800"/>
<rect x="248.43" y="38.8" width="4.93" height="6.32" fill="#00f800"/>
<rect x="252.35" y="38.8" width="4.93" height="6.32" fill="#00f800"/>
<rect x="256.27" y="38.8" width="4.93" height="6.32" fill="#00f800"/>
<rect x="260.2" y="38.8" width="4.93" height="6.32" fill="#00f800"/>
<rect x="264.12" y="38.8" width="4.93" height="6.32" fill="#00f800"/>
<rect x="268.05" y="38.8" width="4.93" height="6.32" fill="#000000"/>
<rect x="271.98" y="38.8" width="4.93" height="6.32" fill="#00b000"/>
<rect x="275.9" y="38.8" width="4.93" height="6.32" fill="#00f800"/>
<rect x="279.82" y="38.8" width="4.93" height="6.32" fill="#00b000"/>
<rect x="283.75" y="38.8" width="4.93" height="6.32" fill="#00f800"/>
<rect x="287.68" y="38.8" width="3.93" height="6.32" fill="#00b000"/>
<rect x="244.5" y="44.12" width="4.93" height="6.32" fill="#00f800"/>
<rect x="248.43" y="44.12" width="4.93" height="6.32" fill="#00f800"/>
<rect x="252.35" y="44.12" width="4.93" height="6.32" fill="#00f800"/>
<rect x="256.27" y="44.12" width="4.93" height="6.32" fill="#005a00"/>
<rect x="260.2" y="44.12" width="4.93" height="6.32" fill="#00f800"/>
<rect x="264.12" y="44.12" width="4.93" height="6.32" fill="#00f800"/>
<rect x="268.05" y="44.12" width="4.93" height="6.32" fill="#000000"/>
<rect x="271.98" y="44.12" width="4.93" height="6.32" fill="#005a00"/>
<rect x="275.9" y="44.12" width="4.93" height="6.32" fill="#00f800"/>
<rect x="279.82" y="44.12" width="4.93" height="6.32" fill="#005a00"/>
<rect x="283.75" y="44.12" width="4.93" height="6.32" fill="#00f800"/>
<rect x="287.68" y="44.12" width="3.93" height="6.32" fill="#00f800"/>
<rect x="244.5" y="49.44" width="4.93" height="6.32" fill="#00f800"/>
<rect x="248.43" y="49.44" width="4.93" height="6.32" fill="#00f800"/>
<rect x="252.35" y="49.44" width="4.93" height="6.32" fill="#00f800"/>
<rect x="256.27" y="49.44" width="4.93" height="6.32" fill="#00f800"/>
<rect x="260.2" y="49.44" width="4.93" height="6.32" fill="#00f800"/>
<rect x="264.12" y="49.44" width="4.93" height="6.32" fill="#00f800"/>
<rect x="268.05" y="49.44" width="4.93" height="6.32" fill="#00f800"/>
<rect x="271.98" y="49.44" width="4.93" height="6.32" fill="#00f800"/>
<rect x="275.9" y="49.44" width="4.93" height="6.32" fill="#00f800"/>
<rect x="279.82" y="49.44" width="4.93" height="6.32" fill="#00f800"/>
<rect x="283.75" y="49.44" width="4.93" height="6.32" fill="#00f800"/>
<rect x="287.68" y="49.44" width="3.93" height="6.32" fill="#00f800"/>
<rect x="244.5" y="54.76" width="4.93" height="6.32" fill="#00f800"/>
<rect x="248.43" y="54.76" width="4.93" height="6.32" fill="#00f800"/>
<rect x="252.35" y="54.76" width="4.93" height="6.32" fill="#00f800"/>
<rect x="256.27" y="54.76" width="4.93" height="6.32" fill="#00b000"/>
<rect x="260.2" y="54.76" width="4.93" height="6.32" fill="#00f800"/>
<rect x="264.12" y="54.76" width="4.93" height="6.32" fill="#00b000"/>
<rect x="268.05" y="54.76" width="4.93" height="6.32" fill="#00f800"/>
<rect x="271.98" y="54.76" width="4.93" height="6.32" fill="#00f800"/>
<rect x="275.9" y="54.76" width="4.93" height="6.32" fill="#00f800"/>
<rect x="279.82" y="54.76" width="4.93" height="6.32" fill="#00f800"/>
<rect x="283.75" y="54.76" width="4.93" height="6.32" fill="#00f800"/>
<rect x="287.68" y="54.76" width="3.93" height="6.32" fill="#00f800"/>
<rect x="244.5" y="60.08" width="4.93" height="6.32" fill="#00f800"/>
<rect x="248.43" y="60.08" width="4.93" height="6.32" fill="#00f800"/>
<rect x="252.35" y="60.08" width="4.93" height="6.32" fill="#00f800"/>
<rect x="256.27" y="60.08" width="4.93" height="6.32" fill="#005a00"/>
<rect x="260.2" y="60.08" width="4.93" height="6.32" fill="#00f800"/>
<rect x="264.12" y="60.08" width="4.93" height="6.32" fill="#005a00"/>
<rect x="268.05" y="60.08" width="4.93" height="6.32" fill="#005a00"/>
<rect x="271.98" y="60.08" width="4.93" height="6.32" fill="#00f800"/>
<rect x="275.9" y="60.08" width="4.93" height="6.32" fill="#005a00"/>
<rect x="279.82" y="60.08" width="4.93" height="6.32" fill="#00f800"/>
<rect x="283.75" y="60.08" width="4.93" height="6.32" fill="#00f800"/>
<rect x="287.68" y="60.08" width="3.93" height="6.32" fill="#00f800"/>
<rect x="244.5" y="65.4" width="4.93" height="6.32" fill="#000000"/>
<rect x="248.43" y="65.4" width="4.93" height="6.32" fill="#6a0000"/>
<rect x="252.35" y="65.4" width="4.93" height="6.32" fill="#b00000"/>
<rect x="256.27" y="65.4" width="4.93" height="6.32" fill="#b00000"/>
<rect x="260.2" y="65.4" width="4.93" height="6.32" fill="#b00000"/>
<rect x="264.12" y="65.4" width="4.93" height="6.32" fill="#fa1226"/>
<rect x="268.05" y="65.4" width="4.93" height="6.32" fill="#fa1226"/>
<rect x="271.98" y="65.4" width="4.93" height="6.32" fill="#000000"/>
<rect x="275.9" y="65.4" width="4.93" height="6.32" fill="#000000"/>
<rect x="279.82" y="65.4" width="4.93" height="6.32" fill="#000000"/>
<rect x="283.75" y="65.4" width="4.93" height="6.32" fill="#000000"/>
<rect x="287.68" y="65.4" width="3.93" height="6.32" fill="#000000"/>
<rect x="244.5" y="70.72" width="4.93" height="6.32" fill="#fa1226"/>
<rect x="248.43" y="70.72" width="4.93" height="6.32" fill="#fa1226"/>
<rect x="252.35" y="70.72" width="4.93" height="6.32" fill="#fa1226"/>
<rect x="256.27" y="70.72" width="4.93" height="6.32" fill="#fa1226"/>
<rect x="260.2" y="70.72" width="4.93" height="6.32" fill="#fa1226"/>
<rect x="264.12" y="70.72" width="4.93" height="6.32" fill="#fa1226"/>
<rect x="268.05" y="70.72" width="4.93" height="6.32" fill="#6a0000"/>
<rect x="271.98" y="70.72" width="4.93" height="6.32" fill="#6a0000"/>
<rect x="275.9" y="70.72" width="4.93" height="6.32" fill="#b00000"/>
<rect x="279.82" y="70.72" width="4.93" height="6.32" fill="#6a0000"/>
<rect x="283.75" y="70.72" width="4.93" height="6.32" fill="#b00000"/>
<rect x="287.68" y="70.72" width="3.93" height="6.32" fill="#000000"/>
<rect x="244.5" y="76.04" width="4.93" height="6.32" fill="#fa1226"/>
<rect x="248.43" y="76.04" width="4.93" height="6.32" fill="#6a0000"/>
<rect x="252.35" y="76.04" width="4.93" height="6.32" fill="#6a0000"/>
<rect x="256.27" y="76.04" width="4.93" height="6.32" fill="#6a0000"/>
<rect x="260.2" y="76.04" width="4.93" height="6.32" fill="#6a0000"/>
<rect x="264.12" y="76.04" width="4.93" height="6.32" fill="#000000"/>
<rect x="268.05" y="76.04" width="4.93" height="6.32" fill="#00f800"/>
<rect x="271.98" y="76.04" width="4.93" height="6.32" fill="#6a0000"/>
<rect x="275.9" y="76.04" width="4.93" height="6.32" fill="#6a0000"/>
<rect x="279.82" y="76.04" width="4.93" height="6.32" fill="#000000"/>
<rect x="283.75" y="76.04" width="4.93" height="6.32" fill="#000000"/>
<rect x="287.68" y="76.04" width="3.93" height="6.32" fill="#000000"/>
<rect x="244.5" y="81.36" width="4.93" height="6.32" fill="#fa1226"/>
<rect x="248.43" y="81.36" width="4.93" height="6.32" fill="#fa1226"/>
<rect x="252.35" y="81.36" width="4.93" height="6.32" fill="#fa1226"/>
<rect x="256.27" y="81.36" width="4.93" height="6.32" fill="#fa1226"/>
<rect x="260.2" y="81.36" width="4.93" height="6.32" fill="#fa1226"/>
<rect x="264.12" y="81.36" width="4.93" height="6.32" fill="#fa1226"/>
<rect x="268.05" y="81.36" width="4.93" height="6.32" fill="#fa1226"/>
<rect x="271.98" y="81.36" width="4.93" height="6.32" fill="#fa1226"/>
<rect x="275.9" y="81.36" width="4.93" height="6.32" fill="#fa1226"/>
<rect x="279.82" y="81.36" width="4.93" height="6.32" fill="#fa1226"/>
<rect x="283.75" y="81.36" width="4.93" height="6.32" fill="#fa1226"/>
<rect x="287.68" y="81.36" width="3.93" height="6.32" fill="#fa1226"/>
<rect x="244.5" y="86.68" width="4.93" height="6.32" fill="#00f800"/>
<rect x="248.43" y="86.68" width="4.93" height="6.32" fill="#00f800"/>
<rect x="252.35" y="86.68" width="4.93" height="6.32" fill="#000000"/>
<rect x="256.27" y="86.68" width="4.93" height="6.32" fill="#00f800"/>
<rect x="260.2" y="86.68" width="4.93" height="6.32" fill="#00f800"/>
<rect x="264.12" y="86.68" width="4.93" height="6.32" fill="#005a00"/>
<rect x="268.05" y="86.68" width="4.93" height="6.32" fill="#00f800"/>
<rect x="271.98" y="86.68" width="4.93" height="6.32" fill="#00f800"/>
<rect x="275.9" y="86.68" width="4.93" height="6.32" fill="#00f800"/>
<rect x="279.82" y="86.68" width="4.93" height="6.32" fill="#00f800"/>
<rect x="283.75" y="86.68" width="4.93" height="6.32" fill="#00f800"/>
<rect x="287.68" y="86.68" width="3.93" height="6.32" fill="#00f800"/>
<rect x="244.5" y="92" width="4.93" height="6.32" fill="#00f800"/>
<rect x="248.43" y="92" width="4.93" height="6.32" fill="#00f800"/>
<rect x="252.35" y="92" width="4.93" height="6.32" fill="#00f800"/>
<rect x="256.27" y="92" width="4.93" height="6.32" fill="#005a00"/>
<rect x="260.2" y="92" width="4.93" height="6.32" fill="#00f800"/>
<rect x="264.12" y="92" width="4.93" height="6.32" fill="#00f800"/>
<rect x="268.05" y="92" width="4.93" height="6.32" fill="#00f800"/>
<rect x="271.98" y="92" width="4.93" height="6.32" fill="#00f800"/>
<rect x="275.9" y="92" width="4.93" height="6.32" fill="#00f800"/>
<rect x="279.82" y="92" width="4.93" height="6.32" fill="#005a00"/>
<rect x="283.75" y="92" width="4.93" height="6.32" fill="#00f800"/>
<rect x="287.68" y="92" width="3.93" height="6.32" fill="#00f800"/>
<rect x="244.5" y="97.32" width="4.93" height="6.32" fill="#00f800"/>
<rect x="248.43" y="97.32" width="4.93" height="6.32" fill="#00f800"/>
<rect x="252.35" y="97.32" width="4.93" height="6.32" fill="#00f800"/>
<rect x="256.27" y="97.32" width="4.93" height="6.32" fill="#00f800"/>
<rect x="260.2" y="97.32" width="4.93" height="6.32" fill="#00f800"/>
<rect x="264.12" y="97.32" width="4.93" height="6.32" fill="#00f800"/>
<rect x="268.05" y="97.32" width="4.93" height="6.32" fill="#00f800"/>
<rect x="271.98" y="97.32" width="4.93" height="6.32" fill="#00f800"/>
<rect x="275.9" y="97.32" width="4.93" height="6.32" fill="#00f800"/>
<rect x="279.82" y="97.32" width="4.93" height="6.32" fill="#00f800"/>
<rect x="283.75" y="97.32" width="4.93" height="6.32" fill="#00f800"/>
<rect x="287.68" y="97.32" width="3.93" height="6.32" fill="#00f800"/>
<rect x="244.5" y="102.64" width="4.93" height="6.32" fill="#000000"/>
<rect x="248.43" y="102.64" width="4.93" height="6.32" fill="#000000"/>
<rect x="252.35" y="102.64" width="4.93" height="6.32" fill="#000000"/>
<rect x="256.27" y="102.64" width="4.93" height="6.32" fill="#000000"/>
<rect x="260.2" y="102.64" width="4.93" height="6.32" fill="#000000"/>
<rect x="264.12" y="102.64" width="4.93" height="6.32" fill="#000000"/>
<rect x="268.05" y="102.64" width="4.93" height="6.32" fill="#005a00"/>
<rect x="271.98" y="102.64" width="4.93" height="6.32" fill="#005a00"/>
<rect x="275.9" y="102.64" width="4.93" height="6.32" fill="#005a00"/>
<rect x="279.82" y="102.64" width="4.93" height="6.32" fill="#000000"/>
<rect x="283.75" y="102.64" width="4.93" height="6.32" fill="#000000"/>
<rect x="287.68" y="102.64" width="3.93" height="6.32" fill="#000000"/>
<rect x="244.5" y="107.96" width="4.93" height="6.32" fill="#00f800"/>
<rect x="248.43" y="107.96" width="4.93" height="6.32" fill="#005a00"/>
<rect x="252.35" y="107.96" width="4.93" height="6.32" fill="#00f800"/>
<rect x="256.27" y="107.96" width="4.93" height="6.32" fill="#00f800"/>
<rect x="260.2" y="107.96" width="4.93" height="6.32" fill="#00f800"/>
<rect x="264.12" y="107.96" width="4.93" height="6.32" fill="#005a00"/>
<rect x="268.05" y="107.96" width="4.93" height="6.32" fill="#00f800"/>
<rect x="271.98" y="107.96" width="4.93" height="6.32" fill="#00f800"/>
<rect x="275.9" y="107.96" width="4.93" height="6.32" fill="#00f800"/>
<rect x="279.82" y="107.96" width="4.93" height="6.32" fill="#00b000"/>
<rect x="283.75" y="107.96" width="4.93" height="6.32" fill="#00f800"/>
<rect x="287.68" y="107.96" width="3.93" height="6.32" fill="#00f800"/>
<rect x="244.5" y="113.28" width="4.93" height="6.32" fill="#00f800"/>
<rect x="248.43" y="113.28" width="4.93" height="6.32" fill="#00f800"/>
<rect x="252.35" y="113.28" width="4.93" height="6.32" fill="#00f800"/>
<rect x="256.27" y="113.28" width="4.93" height="6.32" fill="#00f800"/>
<rect x="260.2" y="113.28" width="4.93" height="6.32" fill="#00f800"/>
<rect x="264.12" y="113.28" width="4.93" height="6.32" fill="#00f800"/>
<rect x="268.05" y="113.28" width="4.93" height="6.32" fill="#00f800"/>
<rect x="271.98" y="113.28" width="4.93" height="6.32" fill="#00f800"/>
<rect x="275.9" y="113.28" width="4.93" height="6.32" fill="#00f800"/>
<rect x="279.82" y="113.28" width="4.93" height="6.32" fill="#00f800"/>
<rect x="283.75" y="113.28" width="4.93" height="6.32" fill="#00f800"/>
<rect x="287.68" y="113.28" width="3.93" height="6.32" fill="#00f800"/>
<rect x="244.5" y="118.6" width="4.93" height="6.32" fill="#000000"/>
<rect x="248.43" y="118.6" width="4.93" height="6.32" fill="#000000"/>
<rect x="252.35" y="118.6" width="4.93" height="6.32" fill="#000000"/>
<rect x="256.27" y="118.6" width="4.93" height="6.32" fill="#000000"/>
<rect x="260.2" y="118.6" width="4.93" height="6.32" fill="#000000"/>
<rect x="264.12" y="118.6" width="4.93" height="6.32" fill="#000000"/>
<rect x="268.05" y="118.6" width="4.93" height="6.32" fill="#000000"/>
<rect x="271.98" y="118.6" width="4.93" height="6.32" fill="#005a00"/>
<rect x="275.9" y="118.6" width="4.93" height="6.32" fill="#005a00"/>
<rect x="279.82" y="118.6" width="4.93" height="6.32" fill="#000000"/>
<rect x="283.75" y="118.6" width="4.93" height="6.32" fill="#000000"/>
<rect x="287.68" y="118.6" width="3.93" height="6.32" fill="#005a00"/>
<rect x="244.5" y="123.92" width="4.93" height="6.32" fill="#00f800"/>
<rect x="248.43" y="123.92" width="4.93" height="6.32" fill="#00f800"/>
<rect x="252.35" y="123.92" width="4.93" height="6.32" fill="#00f800"/>
<rect x="256.27" y="123.92" width="4.93" height="6.32" fill="#00f800"/>
<rect x="260.2" y="123.92" width="4.93" height="6.32" fill="#00f800"/>
<rect x="264.12" y="123.92" width="4.93" height="6.32" fill="#00f800"/>
<rect x="268.05" y="123.92" width="4.93" height="6.32" fill="#00f800"/>
<rect x="271.98" y="123.92" width="4.93" height="6.32" fill="#00f800"/>
<rect x="275.9" y="123.92" width="4.93" height="6.32" fill="#00f800"/>
<rect x="279.82" y="123.92" width="4.93" height="6.32" fill="#00f800"/>
<rect x="283.75" y="123.92" width="4.93" height="6.32" fill="#00f800"/>
<rect x="287.68" y="123.92" width="3.93" height="6.32" fill="#00f800"/>
<rect x="244.5" y="129.24" width="4.93" height="6.32" fill="#00f800"/>
<rect x="248.43" y="129.24" width="4.93" height="6.32" fill="#000000"/>
<rect x="252.35" y="129.24" width="4.93" height="6.32" fill="#000000"/>
<rect x="256.27" y="129.24" width="4.93" height="6.32" fill="#00f800"/>
<rect x="260.2" y="129.24" width="4.93" height="6.32" fill="#00f800"/>
<rect x="264.12" y="129.24" width="4.93" height="6.32" fill="#00f800"/>
<rect x="268.05" y="129.24" width="4.93" height="6.32" fill="#00f800"/>
<rect x="271.98" y="129.24" width="4.93" height="6.32" fill="#00f800"/>
<rect x="275.9" y="129.24" width="4.93" height="6.32" fill="#00f800"/>
<rect x="279.82" y="129.24" width="4.93" height="6.32" fill="#00f800"/>
<rect x="283.75" y="129.24" width="4.93" height="6.32" fill="#00f800"/>
<rect x="287.68" y="129.24" width="3.93" height="6.32" fill="#00b000"/>
<rect x="244.5" y="134.56" width="4.93" height="6.32" fill="#00b000"/>
<rect x="248.43" y="134.56" width="4.93" height="6.32" fill="#00b000"/>
<rect x="252.35" y="134.56" width="4.93" height="6.32" fill="#00b000"/>
<rect x="256.27" y="134.56" width="4.93" height="6.32" fill="#000000"/>
<rect x="260.2" y="134.56" width="4.93" height="6.32" fill="#00f800"/>
<rect x="264.12" y="134.56" width="4.93" height="6.32" fill="#00f800"/>
<rect x="268.05" y="134.56" width="4.93" height="6.32" fill="#000000"/>
<rect x="271.98" y="134.56" width="4.93" height="6.32" fill="#00f800"/>
<rect x="275.9" y="134.56" width="4.93" height="6.32" fill="#00f800"/>
<rect x="279.82" y="134.56" width="4.93" height="6.32" fill="#00f800"/>
<rect x="283.75" y="134.56" width="4.93" height="6.32" fill="#00f800"/>
<rect x="287.68" y="134.56" width="3.93" height="6.32" fill="#00f800"/>
<rect x="244.5" y="139.88" width="4.93" height="6.32" fill="#00f800"/>
<rect x="248.43" y="139.88" width="4.93" height="6.32" fill="#00f800"/>
<rect x="252.35" y="139.88" width="4.93" height="6.32" fill="#00f800"/>
<rect x="256.27" y="139.88" width="4.93" height="6.32" fill="#00f800"/>
<rect x="260.2" y="139.88" width="4.93" height="6.32" fill="#00f800"/>
<rect x="264.12" y="139.88" width="4.93" height="6.32" fill="#00f800"/>
<rect x="268.05" y="139.88" width="4.93" height="6.32" fill="#000000"/>
<rect x="271.98" y="139.88" width="4.93" height="6.32" fill="#00f800"/>
<rect x="275.9" y="139.88" width="4.93" height="6.32" fill="#00f800"/>
<rect x="279.82" y="139.88" width="4.93" height="6.32" fill="#00f800"/>
<rect x="283.75" y="139.88" width="4.93" height="6.32" fill="#00f800"/>
<rect x="287.68" y="139.88" width="3.93" height="6.32" fill="#00f800"/>
<rect x="244.5" y="145.2" width="4.93" height="6.32" fill="#00f800"/>
<rect x="248.43" y="145.2" width="4.93" height="6.32" fill="#00f800"/>
<rect x="252.35" y="145.2" width="4.93" height="6.32" fill="#00f800"/>
<rect x="256.27" y="145.2" width="4.93" height="6.32" fill="#00f800"/>
<rect x="260.2" y="145.2" width="4.93" height="6.32" fill="#00f800"/>
<rect x="264.12" y="145.2" width="4.93" height="6.32" fill="#00f800"/>
<rect x="268.05" y="145.2" width="4.93" height="6.32" fill="#00f800"/>
<rect x="271.98" y="145.2" width="4.93" height="6.32" fill="#00f800"/>
<rect x="275.9" y="145.2" width="4.93" height="6.32" fill="#00f800"/>
<rect x="279.82" y="145.2" width="4.93" height="6.32" fill="#00f800"/>
<rect x="283.75" y="145.2" width="4.93" height="6.32" fill="#00f800"/>
<rect x="287.68" y="145.2" width="3.93" height="6.32" fill="#00f800"/>
<rect x="244.5" y="150.52" width="4.93" height="6.32" fill="#fa1226"/>
<rect x="248.43" y="150.52" width="4.93" height="6.32" fill="#fa1226"/>
<rect x="252.35" y="150.52" width="4.93" height="6.32" fill="#000000"/>
<rect x="256.27" y="150.52" width="4.93" height="6.32" fill="#fa1226"/>
<rect x="260.2" y="150.52" width="4.93" height="6.32" fill="#fa1226"/>
<rect x="264.12" y="150.52" width="4.93" height="6.32" fill="#000000"/>
<rect x="268.05" y="150.52" width="4.93" height="6.32" fill="#005a00"/>
<rect x="271.98" y="150.52" width="4.93" height="6.32" fill="#000000"/>
<rect x="275.9" y="150.52" width="4.93" height="6.32" fill="#6a0000"/>
<rect x="279.82" y="150.52" width="4.93" height="6.32" fill="#000000"/>
<rect x="283.75" y="150.52" width="4.93" height="6.32" fill="#000000"/>
<rect x="287.68" y="150.52" width="3.93" height="6.32" fill="#005a00"/>
<rect x="244.5" y="155.84" width="4.93" height="6.32" fill="#fa1226"/>
<rect x="248.43" y="155.84" width="4.93" height="6.32" fill="#fa1226"/>
<rect x="252.35" y="155.84" width="4.93" height="6.32" fill="#000000"/>
<rect x="256.27" y="155.84" width="4.93" height="6.32" fill="#fa1226"/>
<rect x="260.2" y="155.84" width="4.93" height="6.32" fill="#fa1226"/>
<rect x="264.12" y="155.84" width="4.93" height="6.32" fill="#000000"/>
<rect x="268.05" y="155.84" width="4.93" height="6.32" fill="#000000"/>
<rect x="271.98" y="155.84" width="4.93" height="6.32" fill="#000000"/>
<rect x="275.9" y="155.84" width="4.93" height="6.32" fill="#6a0000"/>
<rect x="279.82" y="155.84" width="4.93" height="6.32" fill="#000000"/>
<rect x="283.75" y="155.84" width="4.93" height="6.32" fill="#000000"/>
<rect x="287.68" y="155.84" width="3.93" height="6.32" fill="#000000"/>
<rect x="244.5" y="161.16" width="4.93" height="6.32" fill="#000000"/>
<rect x="248.43" y="161.16" width="4.93" height="6.32" fill="#000000"/>
<rect x="252.35" y="161.16" width="4.93" height="6.32" fill="#005a00"/>
<rect x="256.27" y="161.16" width="4.93" height="6.32" fill="#005a00"/>
<rect x="260.2" y="161.16" width="4.93" height="6.32" fill="#005a00"/>
<rect x="264.12" y="161.16" width="4.93" height="6.32" fill="#005a00"/>
<rect x="268.05" y="161.16" width="4.93" height="6.32" fill="#00f800"/>
<rect x="271.98" y="161.16" width="4.93" height="6.32" fill="#00f800"/>
<rect x="275.9" y="161.16" width="4.93" height="6.32" fill="#00f800"/>
<rect x="279.82" y="161.16" width="4.93" height="6.32" fill="#00f800"/>
<rect x="283.75" y="161.16" width="4.93" height="6.32" fill="#00f800"/>
<rect x="287.68" y="161.16" width="3.93" height="6.32" fill="#00f800"/>
<rect x="244.5" y="166.48" width="4.93" height="6.32" fill="#00f800"/>
<rect x="248.43" y="166.48" width="4.93" height="6.32" fill="#00f800"/>
<rect x="252.35" y="166.48" width="4.93" height="6.32" fill="#00f800"/>
<rect x="256.27" y="166.48" width="4.93" height="6.32" fill="#00f800"/>
<rect x="260.2" y="166.48" width="4.93" height="6.32" fill="#00f800"/>
<rect x="264.12" y="166.48" width="4.93" height="6.32" fill="#00f800"/>
<rect x="268.05" y="166.48" width="4.93" height="6.32" fill="#00f800"/>
<rect x="271.98" y="166.48" width="4.93" height="6.32" fill="#00f800"/>
<rect x="275.9" y="166.48" width="4.93" height="6.32" fill="#00f800"/>
<rect x="279.82" y="166.48" width="4.93" height="6.32" fill="#00f800"/>
<rect x="283.75" y="166.48" width="4.93" height="6.32" fill="#00f800"/>
<rect x="287.68" y="166.48" width="3.93" height="6.32" fill="#00f800"/>
<rect x="244.5" y="171.8" width="4.93" height="6.32" fill="#00f800"/>
<rect x="248.43" y="171.8" width="4.93" height="6.32" fill="#00f800"/>
<rect x="252.35" y="171.8" width="4.93" height="6.32" fill="#00f800"/>
<rect x="256.27" y="171.8" width="4.93" height="6.32" fill="#00f800"/>
<rect x="260.2" y="171.8" width="4.93" height="6.32" fill="#00f800"/>
<rect x="264.12" y="171.8" width="4.93" height="6.32" fill="#00f800"/>
<rect x="268.05" y="171.8" width="4.93" height="6.32" fill="#00f800"/>
<rect x="271.98" y="171.8" width="4.93" height="6.32" fill="#00b000"/>
<rect x="275.9" y="171.8" width="4.93" height="6.32" fill="#00f800"/>
<rect x="279.82" y="171.8" width="4.93" height="6.32" fill="#00f800"/>
<rect x="283.75" y="171.8" width="4.93" height="6.32" fill="#00f800"/>
<rect x="287.68" y="171.8" width="3.93" height="6.32" fill="#00f800"/>
<rect x="244.5" y="177.12" width="4.93" height="6.32" fill="#000000"/>
<rect x="248.43" y="177.12" width="4.93" height="6.32" fill="#00f800"/>
<rect x="252.35" y="177.12" width="4.93" height="6.32" fill="#000000"/>
<rect x="256.27" y="177.12" width="4.93" height="6.32" fill="#000000"/>
<rect x="260.2" y="177.12" width="4.93" height="6.32" fill="#000000"/>
<rect x="264.12" y="177.12" width="4.93" height="6.32" fill="#000000"/>
<rect x="268.05" y="177.12" width="4.93" height="6.32" fill="#fa1226"/>
<rect x="271.98" y="177.12" width="4.93" height="6.32" fill="#6a0000"/>
<rect x="275.9" y="177.12" width="4.93" height="6.32" fill="#fa1226"/>
<rect x="279.82" y="177.12" width="4.93" height="6.32" fill="#fa1226"/>
<rect x="283.75" y="177.12" width="4.93" height="6.32" fill="#fa1226"/>
<rect x="287.68" y="177.12" width="3.93" height="6.32" fill="#fa1226"/>
<rect x="244.5" y="182.44" width="4.93" height="6.32" fill="#fa1226"/>
<rect x="248.43" y="182.44" width="4.93" height="6.32" fill="#b00000"/>
<rect x="252.35" y="182.44" width="4.93" height="6.32" fill="#6a0000"/>
<rect x="256.27" y="182.44" width="4.93" height="6.32" fill="#fa1226"/>
<rect x="260.2" y="182.44" width="4.93" height="6.32" fill="#fa1226"/>
<rect x="264.12" y="182.44" width="4.93" height="6.32" fill="#6a0000"/>
<rect x="268.05" y="182.44" width="4.93" height="6.32" fill="#fa1226"/>
<rect x="271.98" y="182.44" width="4.93" height="6.32" fill="#000000"/>
<rect x="275.9" y="182.44" width="4.93" height="6.32" fill="#6a0000"/>
<rect x="279.82" y="182.44" width="4.93" height="6.32" fill="#000000"/>
<rect x="283.75" y="182.44" width="4.93" height="6.32" fill="#000000"/>
<rect x="287.68" y="182.44" width="3.93" height="6.32" fill="#fa1226"/>
<rect x="244.5" y="187.76" width="4.93" height="6.32" fill="#000000"/>
<rect x="248.43" y="187.76" width="4.93" height="6.32" fill="#6a0000"/>
<rect x="252.35" y="187.76" width="4.93" height="6.32" fill="#b00000"/>
<rect x="256.27" y="187.76" width="4.93" height="6.32" fill="#6a0000"/>
<rect x="260.2" y="187.76" width="4.93" height="6.32" fill="#6a0000"/>
<rect x="264.12" y="187.76" width="4.93" height="6.32" fill="#000000"/>
<rect x="268.05" y="187.76" width="4.93" height="6.32" fill="#fa1226"/>
<rect x="271.98" y="187.76" width="4.93" height="6.32" fill="#6a0000"/>
<rect x="275.9" y="187.76" width="4.93" height="6.32" fill="#000000"/>
<rect x="279.82" y="187.76" width="4.93" height="6.32" fill="#000000"/>
<rect x="283.75" y="187.76" width="4.93" height="6.32" fill="#000000"/>
<rect x="287.68" y="187.76" width="3.93" height="6.32" fill="#fa1226"/>
<rect x="244.5" y="193.08" width="4.93" height="6.32" fill="#000000"/>
<rect x="248.43" y="193.08" width="4.93" height="6.32" fill="#000000"/>
<rect x="252.35" y="193.08" width="4.93" height="6.32" fill="#005a00"/>
<rect x="256.27" y="193.08" width="4.93" height="6.32" fill="#000000"/>
<rect x="260.2" y="193.08" width="4.93" height="6.32" fill="#000000"/>
<rect x="264.12" y="193.08" width="4.93" height="6.32" fill="#000000"/>
<rect x="268.05" y="193.08" width="4.93" height="6.32" fill="#fa1226"/>
<rect x="271.98" y="193.08" width="4.93" height="6.32" fill="#fa1226"/>
<rect x="275.9" y="193.08" width="4.93" height="6.32" fill="#fa1226"/>
<rect x="279.82" y="193.08" width="4.93" height="6.32" fill="#fa1226"/>
<rect x="283.75" y="193.08" width="4.93" height="6.32" fill="#fa1226"/>
<rect x="287.68" y="193.08" width="3.93" height="6.32" fill="#fa1226"/>
<rect x="244.5" y="198.4" width="4.93" height="6.32" fill="#00f800"/>
<rect x="248.43" y="198.4" width="4.93" height="6.32" fill="#00f800"/>
<rect x="252.35" y="198.4" width="4.93" height="6.32" fill="#00f800"/>
<rect x="256.27" y="198.4" width="4.93" height="6.32" fill="#00f800"/>
<rect x="260.2" y="198.4" width="4.93" height="6.32" fill="#00f800"/>
<rect x="264.12" y="198.4" width="4.93" height="6.32" fill="#00f800"/>
<rect x="268.05" y="198.4" width="4.93" height="6.32" fill="#6a0000"/>
<rect x="271.98" y="198.4" width="4.93" height="6.32" fill="#6a0000"/>
<rect x="275.9" y="198.4" width="4.93" height="6.32" fill="#000000"/>
<rect x="279.82" y="198.4" width="4.93" height="6.32" fill="#6a0000"/>
<rect x="283.75" y="198.4" width="4.93" height="6.32" fill="#6a0000"/>
<rect x="287.68" y="198.4" width="3.93" height="6.32" fill="#000000"/>
<rect x="244.5" y="203.72" width="4.93" height="6.32" fill="#00f800"/>
<rect x="248.43" y="203.72" width="4.93" height="6.32" fill="#00f800"/>
<rect x="252.35" y="203.72" width="4.93" height="6.32" fill="#00f800"/>
<rect x="256.27" y="203.72" width="4.93" height="6.32" fill="#00f800"/>
<rect x="260.2" y="203.72" width="4.93" height="6.32" fill="#00f800"/>
<rect x="264.12" y="203.72" width="4.93" height="6.32" fill="#00f800"/>
<rect x="268.05" y="203.72" width="4.93" height="6.32" fill="#fa1226"/>
<rect x="271.98" y="203.72" width="4.93" height="6.32" fill="#fa1226"/>
<rect x="275.9" y="203.72" width="4.93" height="6.32" fill="#fa1226"/>
<rect x="279.82" y="203.72" width="4.93" height="6.32" fill="#fa1226"/>
<rect x="283.75" y="203.72" width="4.93" height="6.32" fill="#fa1226"/>
<rect x="287.68" y="203.72" width="3.93" height="6.32" fill="#fa1226"/>
<rect x="244.5" y="209.04" width="4.93" height="6.32" fill="#00f800"/>
<rect x="248.43" y="209.04" width="4.93" height="6.32" fill="#00f800"/>
<rect x="252.35" y="209.04" width="4.93" height="6.32" fill="#00f800"/>
<rect x="256.27" y="209.04" width="4.93" height="6.32" fill="#00f800"/>
<rect x="260.2" y="209.04" width="4.93" height="6.32" fill="#00f800"/>
<rect x="264.12" y="209.04" width="4.93" height="6.32" fill="#00f800"/>
<rect x="268.05" y="209.04" width="4.93" height="6.32" fill="#fa1226"/>
<rect x="271.98" y="209.04" width="4.93" height="6.32" fill="#fa1226"/>
<rect x="275.9" y="209.04" width="4.93" height="6.32" fill="#fa1226"/>
<rect x="279.82" y="209.04" width="4.93" height="6.32" fill="#fa1226"/>
<rect x="283.75" y="209.04" width="4.93" height="6.32" fill="#fa1226"/>
<rect x="287.68" y="209.04" width="3.93" height="6.32" fill="#fa1226"/>
<rect x="244.5" y="214.36" width="4.93" height="6.32" fill="#00f800"/>
<rect x="248.43" y="214.36" width="4.93" height="6.32" fill="#00f800"/>
<rect x="252.35" y="214.36" width="4.93" height="6.32" fill="#00f800"/>
<rect x="256.27" y="214.36" width="4.93" height="6.32" fill="#00f800"/>
<rect x="260.2" y="214.36" width="4.93" height="6.32" fill="#00f800"/>
<rect x="264.12" y="214.36" width="4.93" height="6.32" fill="#00f800"/>
<rect x="268.05" y="214.36" width="4.93" height="6.32" fill="#fa1226"/>
<rect x="271.98" y="214.36" width="4.93" height="6.32" fill="#fa1226"/>
<rect x="275.9" y="214.36" width="4.93" height="6.32" fill="#fa1226"/>
<rect x="279.82" y="214.36" width="4.93" height="6.32" fill="#fa1226"/>
<rect x="283.75" y="214.36" width="4.93" height="6.32" fill="#fa1226"/>
<rect x="287.68" y="214.36" width="3.93" height="6.32" fill="#fa1226"/>
<rect x="244.5" y="219.68" width="4.93" height="6.32" fill="#00f800"/>
<rect x="248.43" y="219.68" width="4.93" height="6.32" fill="#00f800"/>
<rect x="252.35" y="219.68" width="4.93" height="6.32" fill="#00f800"/>
<rect x="256.27" y="219.68" width="4.93" height="6.32" fill="#00f800"/>
<rect x="260.2" y="219.68" width="4.93" height="6.32" fill="#00f800"/>
<rect x="264.12" y="219.68" width="4.93" height="6.32" fill="#00f800"/>
<rect x="268.05" y="219.68" width="4.93" height="6.32" fill="#000000"/>
<rect x="271.98" y="219.68" width="4.93" height="6.32" fill="#000000"/>
<rect x="275.9" y="219.68" width="4.93" height="6.32" fill="#000000"/>
<rect x="279.82" y="219.68" width="4.93" height="6.32" fill="#000000"/>
<rect x="283.75" y="219.68" width="4.93" height="6.32" fill="#000000"/>
<rect x="287.68" y="219.68" width="3.93" height="6.32" fill="#000000"/>
<rect x="244.5" y="225" width="4.93" height="6.32" fill="#00f800"/>
<rect x="248.43" y="225" width="4.93" height="6.32" fill="#00f800"/>
<rect x="252.35" y="225" width="4.93" height="6.32" fill="#00f800"/>
<rect x="256.27" y="225" width="4.93" height="6.32" fill="#00f800"/>
<rect x="260.2" y="225" width="4.93" height="6.32" fill="#00f800"/>
<rect x="264.12" y="225" width="4.93" height="6.32" fill="#00f800"/>
<rect x="268.05" y="225" width="4.93" height="6.32" fill="#000000"/>
<rect x="271.98" y="225" width="4.93" height="6.32" fill="#000000"/>
<rect x="275.9" y="225" width="4.93" height="6.32" fill="#00f800"/>
<rect x="279.82" y="225" width="4.93" height="6.32" fill="#000000"/>
<rect x="283.75" y="225" width="4.93" height="6.32" fill="#000000"/>
<rect x="287.68" y="225" width="3.93" height="6.32" fill="#000000"/>
<rect x="244.5" y="230.32" width="4.93" height="6.32" fill="#000000"/>
<rect x="248.43" y="230.32" width="4.93" height="6.32" fill="#000000"/>
<rect x="252.35" y="230.32" width="4.93" height="6.32" fill="#000000"/>
<rect x="256.27" y="230.32" width="4.93" height="6.32" fill="#000000"/>
<rect x="260.2" y="230.32" width="4.93" height="6.32" fill="#000000"/>
<rect x="264.12" y="230.32" width="4.93" height="6.32" fill="#000000"/>
<rect x="268.05" y="230.32" width="4.93" height="6.32" fill="#fa1226"/>
<rect x="271.98" y="230.32" width="4.93" height="6.32" fill="#fa1226"/>
<rect x="275.9" y="230.32" width="4.93" height="6.32" fill="#6a0000"/>
<rect x="279.82" y="230.32" width="4.93" height="6.32" fill="#fa1226"/>
<rect x="283.75" y="230.32" width="4.93" height="6.32" fill="#fa1226"/>
<rect x="287.68" y="230.32" width="3.93" height="6.32" fill="#fa1226"/>
<rect x="244.5" y="235.64" width="4.93" height="6.32" fill="#005a00"/>
<rect x="248.43" y="235.64" width="4.93" height="6.32" fill="#000000"/>
<rect x="252.35" y="235.64" width="4.93" height="6.32" fill="#005a00"/>
<rect x="256.27" y="235.64" width="4.93" height="6.32" fill="#000000"/>
<rect x="260.2" y="235.64" width="4.93" height="6.32" fill="#005a00"/>
<rect x="264.12" y="235.64" width="4.93" height="6.32" fill="#000000"/>
<rect x="268.05" y="235.64" width="4.93" height="6.32" fill="#fa1226"/>
<rect x="271.98" y="235.64" width="4.93" height="6.32" fill="#fa1226"/>
<rect x="275.9" y="235.64" width="4.93" height="6.32" fill="#fa1226"/>
<rect x="279.82" y="235.64" width="4.93" height="6.32" fill="#fa1226"/>
<rect x="283.75" y="235.64" width="4.93" height="6.32" fill="#fa1226"/>
<rect x="287.68" y="235.64" width="3.93" height="6.32" fill="#fa1226"/>
<rect x="244.5" y="240.96" width="4.93" height="6.32" fill="#00f800"/>
<rect x="248.43" y="240.96" width="4.93" height="6.32" fill="#00f800"/>
<rect x="252.35" y="240.96" width="4.93" height="6.32" fill="#00f800"/>
<rect x="256.27" y="240.96" width="4.93" height="6.32" fill="#00f800"/>
<rect x="260.2" y="240.96" width="4.93" height="6.32" fill="#00f800"/>
<rect x="264.12" y="240.96" width="4.93" height="6.32" fill="#00f800"/>
<rect x="268.05" y="240.96" width="4.93" height="6.32" fill="#fa1226"/>
<rect x="271.98" y="240.96" width="4.93" height="6.32" fill="#fa1226"/>
<rect x="275.9" y="240.96" width="4.93" height="6.32" fill="#000000"/>
<rect x="279.82" y="240.96" width="4.93" height="6.32" fill="#fa1226"/>
<rect x="283.75" y="240.96" width="4.93" height="6.32" fill="#fa1226"/>
<rect x="287.68" y="240.96" width="3.93" height="6.32" fill="#fa1226"/>
<rect x="244.5" y="246.28" width="4.93" height="6.32" fill="#00f800"/>
<rect x="248.43" y="246.28" width="4.93" height="6.32" fill="#00f800"/>
<rect x="252.35" y="246.28" width="4.93" height="6.32" fill="#00f800"/>
<rect x="256.27" y="246.28" width="4.93" height="6.32" fill="#00f800"/>
<rect x="260.2" y="246.28" width="4.93" height="6.32" fill="#00f800"/>
<rect x="264.12" y="246.28" width="4.93" height="6.32" fill="#00f800"/>
<rect x="268.05" y="246.28" width="4.93" height="6.32" fill="#000000"/>
<rect x="271.98" y="246.28" width="4.93" height="6.32" fill="#00f800"/>
<rect x="275.9" y="246.28" width="4.93" height="6.32" fill="#00f800"/>
<rect x="279.82" y="246.28" width="4.93" height="6.32" fill="#00f800"/>
<rect x="283.75" y="246.28" width="4.93" height="6.32" fill="#00f800"/>
<rect x="287.68" y="246.28" width="3.93" height="6.32" fill="#00f800"/>
<rect x="244.5" y="251.6" width="4.93" height="6.32" fill="#00f800"/>
<rect x="248.43" y="251.6" width="4.93" height="6.32" fill="#00f800"/>
<rect x="252.35" y="251.6" width="4.93" height="6.32" fill="#00b000"/>
<rect x="256.27" y="251.6" width="4.93" height="6.32" fill="#00f800"/>
<rect x="260.2" y="251.6" width="4.93" height="6.32" fill="#00f800"/>
<rect x="264.12" y="251.6" width="4.93" height="6.32" fill="#000000"/>
<rect x="268.05" y="251.6" width="4.93" height="6.32" fill="#fa1226"/>
<rect x="271.98" y="251.6" width="4.93" height="6.32" fill="#005a00"/>
<rect x="275.9" y="251.6" width="4.93" height="6.32" fill="#005a00"/>
<rect x="279.82" y="251.6" width="4.93" height="6.32" fill="#000000"/>
<rect x="283.75" y="251.6" width="4.93" height="6.32" fill="#00f800"/>
<rect x="287.68" y="251.6" width="3.93" height="6.32" fill="#00f800"/>
<rect x="244.5" y="256.92" width="4.93" height="6.32" fill="#000000"/>
<rect x="248.43" y="256.92" width="4.93" height="6.32" fill="#00f800"/>
<rect x="252.35" y="256.92" width="4.93" height="6.32" fill="#005a00"/>
<rect x="256.27" y="256.92" width="4.93" height="6.32" fill="#00f800"/>
<rect x="260.2" y="256.92" width="4.93" height="6.32" fill="#005a00"/>
<rect x="264.12" y="256.92" width="4.93" height="6.32" fill="#000000"/>
<rect x="268.05" y="256.92" width="4.93" height="6.32" fill="#000000"/>
<rect x="271.98" y="256.92" width="4.93" height="6.32" fill="#00f800"/>
<rect x="275.9" y="256.92" width="4.93" height="6.32" fill="#00b000"/>
<rect x="279.82" y="256.92" width="4.93" height="6.32" fill="#00f800"/>
<rect x="283.75" y="256.92" width="4.93" height="6.32" fill="#00f800"/>
<rect x="287.68" y="256.92" width="3.93" height="6.32" fill="#00f800"/>
<rect x="244.5" y="262.24" width="4.93" height="6.32" fill="#00f800"/>
<rect x="248.43" y="262.24" width="4.93" height="6.32" fill="#00f800"/>
<rect x="252.35" y="262.24" width="4.93" height="6.32" fill="#00f800"/>
<rect x="256.27" y="262.24" width="4.93" height="6.32" fill="#00f800"/>
<rect x="260.2" y="262.24" width="4.93" height="6.32" fill="#00f800"/>
<rect x="264.12" y="262.24" width="4.93" height="6.32" fill="#00f800"/>
<rect x="268.05" y="262.24" width="4.93" height="6.32" fill="#00f800"/>
<rect x="271.98" y="262.24" width="4.93" height="6.32" fill="#00f800"/>
<rect x="275.9" y="262.24" width="4.93" height="6.32" fill="#00f800"/>
<rect x="279.82" y="262.24" width="4.93" height="6.32" fill="#00f800"/>
<rect x="283.75" y="262.24" width="4.93" height="6.32" fill="#00f800"/>
<rect x="287.68" y="262.24" width="3.93" height="6.32" fill="#00f800"/>
<rect x="244.5" y="267.56" width="4.93" height="5.32" fill="#00f800"/>
<rect x="248.43" y="267.56" width="4.93" height="5.32" fill="#00f800"/>
<rect x="252.35" y="267.56" width="4.93" height="5.32" fill="#00f800"/>
<rect x="256.27" y="267.56" width="4.93" height="5.32" fill="#00f800"/>
<rect x="260.2" y="267.56" width="4.93" height="5.32" fill="#00f800"/>
<rect x="264.12" y="267.56" width="4.93" height="5.32" fill="#00f800"/>
<rect x="268.05" y="267.56" width="4.93" height="5.32" fill="#00f800"/>
<rect x="271.98" y="267.56" width="4.93" height="5.32" fill="#00f800"/>
<rect x="275.9" y="267.56" width="4.93" height="5.32" fill="#00f800"/>
<rect x="279.82" y="267.56" width="4.93" height="5.32" fill="#00f800"/>
<rect x="283.75" y="267.56" width="4.93" height="5.32" fill="#00f800"/>
<rect x="287.68" y="267.56" width="3.93" height="5.32" fill="#00f800"/>
</g>
<text class="h2" x="293.6" y="43.8" font-size="4.9" font-weight="bold" fill="#1a1a1a">CX3CL1</text>
<text class="h2" x="293.6" y="49.12" font-size="4.9" font-weight="bold" fill="#1a1a1a">XCL1</text>
<text class="h2" x="293.6" y="54.44" font-size="4.9" font-weight="bold" fill="#1a1a1a">CCL24</text>
<text class="h2" x="293.6" y="59.76" font-size="4.9" font-weight="bold" fill="#1a1a1a">CXCL6</text>
<text class="h2" x="293.6" y="65.08" font-size="4.9" font-weight="bold" fill="#1a1a1a">CCL7</text>
<text class="h2" x="293.6" y="70.4" font-size="4.9" font-weight="bold" fill="#1a1a1a">CXCL2</text>
<text class="h2" x="293.6" y="75.72" font-size="4.9" font-weight="bold" fill="#1a1a1a">CXCL16</text>
<text class="h2" x="293.6" y="81.04" font-size="4.9" font-weight="bold" fill="#1a1a1a">CKLF</text>
<text class="h2" x="293.6" y="86.36" font-size="4.9" font-weight="bold" fill="#1a1a1a">CXCL8</text>
<text class="h2" x="293.6" y="91.68" font-size="4.9" font-weight="bold" fill="#1a1a1a">CCL16</text>
<text class="h2" x="293.6" y="97" font-size="4.9" font-weight="bold" fill="#1a1a1a">CXCL14</text>
<text class="h2" x="293.6" y="102.32" font-size="4.9" font-weight="bold" fill="#1a1a1a">CCL23</text>
<text class="h2" x="293.6" y="107.64" font-size="4.9" font-weight="bold" fill="#1a1a1a">CCL28</text>
<text class="h2" x="293.6" y="112.96" font-size="4.9" font-weight="bold" fill="#1a1a1a">CCL25</text>
<text class="h2" x="293.6" y="118.28" font-size="4.9" font-weight="bold" fill="#1a1a1a">CCL11</text>
<text class="h2" x="293.6" y="123.6" font-size="4.9" font-weight="bold" fill="#1a1a1a">CXCL12</text>
<text class="h2" x="293.6" y="128.92" font-size="4.9" font-weight="bold" fill="#1a1a1a">CCL27</text>
<text class="h2" x="293.6" y="134.24" font-size="4.9" font-weight="bold" fill="#1a1a1a">CCL14</text>
<text class="h2" x="293.6" y="139.56" font-size="4.9" font-weight="bold" fill="#1a1a1a">CXCL5</text>
<text class="h2" x="293.6" y="144.88" font-size="4.9" font-weight="bold" fill="#1a1a1a">CCL18</text>
<text class="h2" x="293.6" y="150.2" font-size="4.9" font-weight="bold" fill="#1a1a1a">CCL15</text>
<text class="h2" x="293.6" y="155.52" font-size="4.9" font-weight="bold" fill="#1a1a1a">CXCL7</text>
<text class="h2" x="293.6" y="160.84" font-size="4.9" font-weight="bold" fill="#1a1a1a">CXCL4</text>
<text class="h2" x="293.6" y="166.16" font-size="4.9" font-weight="bold" fill="#1a1a1a">PF4V1</text>
<text class="h2" x="293.6" y="171.48" font-size="4.9" font-weight="bold" fill="#1a1a1a">CCL21</text>
<text class="h2" x="293.6" y="176.8" font-size="4.9" font-weight="bold" fill="#1a1a1a">CCL26</text>
<text class="h2" x="293.6" y="182.12" font-size="4.9" font-weight="bold" fill="#1a1a1a">CCL22</text>
<text class="h2" x="293.6" y="187.44" font-size="4.9" font-weight="bold" fill="#1a1a1a">CCL3</text>
<text class="h2" x="293.6" y="192.76" font-size="4.9" font-weight="bold" fill="#1a1a1a">CCL4</text>
<text class="h2" x="293.6" y="198.08" font-size="4.9" font-weight="bold" fill="#1a1a1a">CXCL10</text>
<text class="h2" x="293.6" y="203.4" font-size="4.9" font-weight="bold" fill="#1a1a1a">CCL2</text>
<text class="h2" x="293.6" y="208.72" font-size="4.9" font-weight="bold" fill="#1a1a1a">CCL8</text>
<text class="h2" x="293.6" y="214.04" font-size="4.9" font-weight="bold" fill="#1a1a1a">CXCL11</text>
<text class="h2" x="293.6" y="219.36" font-size="4.9" font-weight="bold" fill="#1a1a1a">CXCL13</text>
<text class="h2" x="293.6" y="224.68" font-size="4.9" font-weight="bold" fill="#1a1a1a">CCL13</text>
<text class="h2" x="293.6" y="230" font-size="4.9" font-weight="bold" fill="#1a1a1a">CCL17</text>
<text class="h2" x="293.6" y="235.32" font-size="4.9" font-weight="bold" fill="#1a1a1a">CCL5</text>
<text class="h2" x="293.6" y="240.64" font-size="4.9" font-weight="bold" fill="#1a1a1a">CXCL9</text>
<text class="h2" x="293.6" y="245.96" font-size="4.9" font-weight="bold" fill="#1a1a1a">CCL19</text>
<text class="h2" x="293.6" y="251.28" font-size="4.9" font-weight="bold" fill="#1a1a1a">CCL20</text>
<text class="h2" x="293.6" y="256.6" font-size="4.9" font-weight="bold" fill="#1a1a1a">CXCL1</text>
<text class="h2" x="293.6" y="261.92" font-size="4.9" font-weight="bold" fill="#1a1a1a">CXCL3</text>
<text class="h2" x="293.6" y="267.24" font-size="4.9" font-weight="bold" fill="#1a1a1a">CCL1</text>
<text class="h2" x="293.6" y="272.56" font-size="4.9" font-weight="bold" fill="#1a1a1a">XCL2</text>
<text class="h" x="194.7" y="280.8" font-size="6.3" font-weight="bold" fill="#111" textLength="20.3" lengthAdjust="spacingAndGlyphs">before</text>
<text class="h" x="224.2" y="280.8" font-size="6.3" font-weight="bold" fill="#111" textLength="14.8" lengthAdjust="spacingAndGlyphs">after</text>
<text class="h" x="245.4" y="280.8" font-size="6.3" font-weight="bold" fill="#111" textLength="20.3" lengthAdjust="spacingAndGlyphs">before</text>
<text class="h" x="274.6" y="280.8" font-size="6.3" font-weight="bold" fill="#111" textLength="14.8" lengthAdjust="spacingAndGlyphs">after</text>
<rect x="194.7" y="282.8" width="21.8" height="1.4" fill="#000"/>
<rect x="222" y="282.8" width="20" height="1.4" fill="#000"/>
<rect x="245" y="282.8" width="23" height="1.4" fill="#000"/>
<rect x="272" y="282.8" width="19" height="1.4" fill="#000"/>
<text class="h" x="210" y="292.3" font-size="6.3" font-weight="bold" fill="#111" textLength="16.4" lengthAdjust="spacingAndGlyphs">pDCs</text>
<text class="h" x="259.8" y="292.3" font-size="6.3" font-weight="bold" fill="#111" textLength="17.2" lengthAdjust="spacingAndGlyphs">mDCs</text>
<line x1="49.75" y1="27.5" x2="53.25" y2="27.5" stroke="#9adcd4" stroke-width="0.7"/>
<line x1="49.75" y1="27.5" x2="49.75" y2="38.6" stroke="#9adcd4" stroke-width="0.7"/>
<line x1="53.25" y1="27.5" x2="53.25" y2="38.6" stroke="#9adcd4" stroke-width="0.7"/>
<line x1="60.25" y1="28" x2="63.75" y2="28" stroke="#9adcd4" stroke-width="0.7"/>
<line x1="60.25" y1="28" x2="60.25" y2="38.6" stroke="#9adcd4" stroke-width="0.7"/>
<line x1="63.75" y1="28" x2="63.75" y2="38.6" stroke="#9adcd4" stroke-width="0.7"/>
<line x1="56.75" y1="27" x2="62" y2="27" stroke="#9adcd4" stroke-width="0.7"/>
<line x1="56.75" y1="27" x2="56.75" y2="38.6" stroke="#9adcd4" stroke-width="0.7"/>
<line x1="62" y1="27" x2="62" y2="28" stroke="#9adcd4" stroke-width="0.7"/>
<line x1="51.5" y1="26" x2="67.25" y2="26" stroke="#9adcd4" stroke-width="0.7"/>
<line x1="51.5" y1="26" x2="51.5" y2="27.5" stroke="#9adcd4" stroke-width="0.7"/>
<line x1="59.38" y1="26" x2="59.38" y2="27" stroke="#9adcd4" stroke-width="0.7"/>
<line x1="67.25" y1="26" x2="67.25" y2="38.6" stroke="#9adcd4" stroke-width="0.7"/>
<line x1="70.75" y1="26.6" x2="74.25" y2="26.6" stroke="#d87474" stroke-width="0.7"/>
<line x1="70.75" y1="26.6" x2="70.75" y2="38.6" stroke="#d87474" stroke-width="0.7"/>
<line x1="74.25" y1="26.6" x2="74.25" y2="38.6" stroke="#d87474" stroke-width="0.7"/>
<line x1="77.75" y1="27.6" x2="81.25" y2="27.6" stroke="#d87474" stroke-width="0.7"/>
<line x1="77.75" y1="27.6" x2="77.75" y2="38.6" stroke="#d87474" stroke-width="0.7"/>
<line x1="81.25" y1="27.6" x2="81.25" y2="38.6" stroke="#d87474" stroke-width="0.7"/>
<line x1="84.75" y1="27" x2="88.25" y2="27" stroke="#d87474" stroke-width="0.7"/>
<line x1="84.75" y1="27" x2="84.75" y2="38.6" stroke="#d87474" stroke-width="0.7"/>
<line x1="88.25" y1="27" x2="88.25" y2="38.6" stroke="#d87474" stroke-width="0.7"/>
<line x1="79.5" y1="26" x2="86.5" y2="26" stroke="#d87474" stroke-width="0.7"/>
<line x1="79.5" y1="26" x2="79.5" y2="27.6" stroke="#d87474" stroke-width="0.7"/>
<line x1="86.5" y1="26" x2="86.5" y2="27" stroke="#d87474" stroke-width="0.7"/>
<line x1="72.5" y1="25" x2="83" y2="25" stroke="#d87474" stroke-width="0.7"/>
<line x1="72.5" y1="25" x2="72.5" y2="26.6" stroke="#d87474" stroke-width="0.7"/>
<line x1="83" y1="25" x2="83" y2="26" stroke="#d87474" stroke-width="0.7"/>
<line x1="97.56" y1="28" x2="101" y2="28" stroke="#6464c8" stroke-width="0.7"/>
<line x1="97.56" y1="28" x2="97.56" y2="38.6" stroke="#6464c8" stroke-width="0.7"/>
<line x1="101" y1="28" x2="101" y2="38.6" stroke="#6464c8" stroke-width="0.7"/>
<line x1="94.12" y1="27" x2="99.28" y2="27" stroke="#6464c8" stroke-width="0.7"/>
<line x1="94.12" y1="27" x2="94.12" y2="38.6" stroke="#6464c8" stroke-width="0.7"/>
<line x1="99.28" y1="27" x2="99.28" y2="28" stroke="#6464c8" stroke-width="0.7"/>
<line x1="104.45" y1="27.8" x2="107.89" y2="27.8" stroke="#6464c8" stroke-width="0.7"/>
<line x1="104.45" y1="27.8" x2="104.45" y2="38.6" stroke="#6464c8" stroke-width="0.7"/>
<line x1="107.89" y1="27.8" x2="107.89" y2="38.6" stroke="#6464c8" stroke-width="0.7"/>
<line x1="106.17" y1="26.4" x2="111.33" y2="26.4" stroke="#6464c8" stroke-width="0.7"/>
<line x1="106.17" y1="26.4" x2="106.17" y2="27.8" stroke="#6464c8" stroke-width="0.7"/>
<line x1="111.33" y1="26.4" x2="111.33" y2="38.6" stroke="#6464c8" stroke-width="0.7"/>
<line x1="96.7" y1="25.6" x2="108.75" y2="25.6" stroke="#6464c8" stroke-width="0.7"/>
<line x1="96.7" y1="25.6" x2="96.7" y2="27" stroke="#6464c8" stroke-width="0.7"/>
<line x1="108.75" y1="25.6" x2="108.75" y2="26.4" stroke="#6464c8" stroke-width="0.7"/>
<line x1="114.77" y1="26.8" x2="118.21" y2="26.8" stroke="#e8e0a0" stroke-width="0.7"/>
<line x1="114.77" y1="26.8" x2="114.77" y2="38.6" stroke="#e8e0a0" stroke-width="0.7"/>
<line x1="118.21" y1="26.8" x2="118.21" y2="38.6" stroke="#e8e0a0" stroke-width="0.7"/>
<line x1="121.65" y1="27.6" x2="125.1" y2="27.6" stroke="#e8e0a0" stroke-width="0.7"/>
<line x1="121.65" y1="27.6" x2="121.65" y2="38.6" stroke="#e8e0a0" stroke-width="0.7"/>
<line x1="125.1" y1="27.6" x2="125.1" y2="38.6" stroke="#e8e0a0" stroke-width="0.7"/>
<line x1="128.54" y1="27.2" x2="131.98" y2="27.2" stroke="#e8e0a0" stroke-width="0.7"/>
<line x1="128.54" y1="27.2" x2="128.54" y2="38.6" stroke="#e8e0a0" stroke-width="0.7"/>
<line x1="131.98" y1="27.2" x2="131.98" y2="38.6" stroke="#e8e0a0" stroke-width="0.7"/>
<line x1="123.38" y1="26.2" x2="130.26" y2="26.2" stroke="#e8e0a0" stroke-width="0.7"/>
<line x1="123.38" y1="26.2" x2="123.38" y2="27.6" stroke="#e8e0a0" stroke-width="0.7"/>
<line x1="130.26" y1="26.2" x2="130.26" y2="27.2" stroke="#e8e0a0" stroke-width="0.7"/>
<line x1="116.49" y1="25.2" x2="126.82" y2="25.2" stroke="#e8e0a0" stroke-width="0.7"/>
<line x1="116.49" y1="25.2" x2="116.49" y2="26.8" stroke="#e8e0a0" stroke-width="0.7"/>
<line x1="126.82" y1="25.2" x2="126.82" y2="26.2" stroke="#e8e0a0" stroke-width="0.7"/>
<line x1="59.38" y1="23.6" x2="121.65" y2="23.6" stroke="#505050" stroke-width="0.9"/>
<line x1="89.4" y1="21.6" x2="89.4" y2="23.6" stroke="#505050" stroke-width="0.9"/>
<line x1="59.38" y1="23.6" x2="59.38" y2="26" stroke="#9adcd4" stroke-width="0.7"/>
<line x1="77.75" y1="23.6" x2="77.75" y2="25" stroke="#d87474" stroke-width="0.7"/>
<line x1="102.72" y1="23.6" x2="102.72" y2="25.6" stroke="#6464c8" stroke-width="0.7"/>
<line x1="121.65" y1="23.6" x2="121.65" y2="25.2" stroke="#e8e0a0" stroke-width="0.7"/>
<line x1="34.1" y1="42.65" x2="34.1" y2="49.55" stroke="#58c858" stroke-width="0.7"/>
<line x1="34.1" y1="42.65" x2="48" y2="42.65" stroke="#58c858" stroke-width="0.7"/>
<line x1="34.1" y1="49.55" x2="48" y2="49.55" stroke="#58c858" stroke-width="0.7"/>
<line x1="34.6" y1="56.45" x2="34.6" y2="63.35" stroke="#58c858" stroke-width="0.7"/>
<line x1="34.6" y1="56.45" x2="48" y2="56.45" stroke="#58c858" stroke-width="0.7"/>
<line x1="34.6" y1="63.35" x2="48" y2="63.35" stroke="#58c858" stroke-width="0.7"/>
<line x1="32.8" y1="46.1" x2="32.8" y2="59.9" stroke="#58c858" stroke-width="0.7"/>
<line x1="32.8" y1="46.1" x2="34.1" y2="46.1" stroke="#58c858" stroke-width="0.7"/>
<line x1="32.8" y1="59.9" x2="34.6" y2="59.9" stroke="#58c858" stroke-width="0.7"/>
<line x1="36.6" y1="70.25" x2="36.6" y2="77.15" stroke="#4c4cc4" stroke-width="0.7"/>
<line x1="36.6" y1="70.25" x2="48" y2="70.25" stroke="#4c4cc4" stroke-width="0.7"/>
<line x1="36.6" y1="77.15" x2="48" y2="77.15" stroke="#4c4cc4" stroke-width="0.7"/>
<line x1="36.5" y1="90.95" x2="36.5" y2="97.85" stroke="#e07080" stroke-width="0.7"/>
<line x1="36.5" y1="90.95" x2="48" y2="90.95" stroke="#e07080" stroke-width="0.7"/>
<line x1="36.5" y1="97.85" x2="48" y2="97.85" stroke="#e07080" stroke-width="0.7"/>
<line x1="38.2" y1="111.65" x2="38.2" y2="118.55" stroke="#e07080" stroke-width="0.7"/>
<line x1="38.2" y1="111.65" x2="48" y2="111.65" stroke="#e07080" stroke-width="0.7"/>
<line x1="38.2" y1="118.55" x2="48" y2="118.55" stroke="#e07080" stroke-width="0.7"/>
<line x1="38.6" y1="125.45" x2="38.6" y2="132.35" stroke="#e07080" stroke-width="0.7"/>
<line x1="38.6" y1="125.45" x2="48" y2="125.45" stroke="#e07080" stroke-width="0.7"/>
<line x1="38.6" y1="132.35" x2="48" y2="132.35" stroke="#e07080" stroke-width="0.7"/>
<line x1="36.9" y1="115.1" x2="36.9" y2="128.9" stroke="#e07080" stroke-width="0.7"/>
<line x1="36.9" y1="115.1" x2="38.2" y2="115.1" stroke="#e07080" stroke-width="0.7"/>
<line x1="36.9" y1="128.9" x2="38.6" y2="128.9" stroke="#e07080" stroke-width="0.7"/>
<line x1="35.6" y1="122" x2="35.6" y2="139.25" stroke="#e07080" stroke-width="0.7"/>
<line x1="35.6" y1="122" x2="36.9" y2="122" stroke="#e07080" stroke-width="0.7"/>
<line x1="35.6" y1="139.25" x2="48" y2="139.25" stroke="#e07080" stroke-width="0.7"/>
<line x1="35" y1="104.75" x2="35" y2="130.62" stroke="#e07080" stroke-width="0.7"/>
<line x1="35" y1="104.75" x2="48" y2="104.75" stroke="#e07080" stroke-width="0.7"/>
<line x1="35" y1="130.62" x2="35.6" y2="130.62" stroke="#e07080" stroke-width="0.7"/>
<line x1="34.4" y1="94.4" x2="34.4" y2="117.69" stroke="#e07080" stroke-width="0.7"/>
<line x1="34.4" y1="94.4" x2="36.5" y2="94.4" stroke="#e07080" stroke-width="0.7"/>
<line x1="34.4" y1="117.69" x2="35" y2="117.69" stroke="#e07080" stroke-width="0.7"/>
<line x1="37.2" y1="146.15" x2="37.2" y2="153.05" stroke="#e07080" stroke-width="0.7"/>
<line x1="37.2" y1="146.15" x2="48" y2="146.15" stroke="#e07080" stroke-width="0.7"/>
<line x1="37.2" y1="153.05" x2="48" y2="153.05" stroke="#e07080" stroke-width="0.7"/>
<line x1="35.8" y1="149.6" x2="35.8" y2="159.95" stroke="#e07080" stroke-width="0.7"/>
<line x1="35.8" y1="149.6" x2="37.2" y2="149.6" stroke="#e07080" stroke-width="0.7"/>
<line x1="35.8" y1="159.95" x2="48" y2="159.95" stroke="#e07080" stroke-width="0.7"/>
<line x1="33.6" y1="106.04" x2="33.6" y2="154.78" stroke="#e07080" stroke-width="0.7"/>
<line x1="33.6" y1="106.04" x2="34.4" y2="106.04" stroke="#e07080" stroke-width="0.7"/>
<line x1="33.6" y1="154.78" x2="35.8" y2="154.78" stroke="#e07080" stroke-width="0.7"/>
<line x1="41.2" y1="166.85" x2="41.2" y2="173.75" stroke="#58b8b0" stroke-width="0.7"/>
<line x1="41.2" y1="166.85" x2="48" y2="166.85" stroke="#58b8b0" stroke-width="0.7"/>
<line x1="41.2" y1="173.75" x2="48" y2="173.75" stroke="#58b8b0" stroke-width="0.7"/>
<line x1="31" y1="84.05" x2="48" y2="84.05" stroke="#e8d890" stroke-width="0.7"/>
<line x1="30.8" y1="53" x2="30.8" y2="170.3" stroke="#666" stroke-width="0.8"/>
<line x1="30.8" y1="53" x2="32.8" y2="53" stroke="#58c858" stroke-width="0.7"/>
<line x1="30.8" y1="73.7" x2="36.6" y2="73.7" stroke="#4c4cc4" stroke-width="0.7"/>
<line x1="30.8" y1="130.41" x2="33.6" y2="130.41" stroke="#e07080" stroke-width="0.7"/>
<line x1="30.8" y1="170.3" x2="41.2" y2="170.3" stroke="#58b8b0" stroke-width="0.7"/>
<line x1="243.8" y1="11.8" x2="243.8" y2="18.3" stroke="#555" stroke-width="0.9"/>
<line x1="220.2" y1="18.3" x2="266.6" y2="18.3" stroke="#555" stroke-width="0.9"/>
<line x1="220.2" y1="18.3" x2="220.2" y2="22.1" stroke="#555" stroke-width="0.9"/>
<line x1="207.1" y1="22.1" x2="230.5" y2="22.1" stroke="#555" stroke-width="0.9"/>
<line x1="266.6" y1="18.3" x2="266.6" y2="23.2" stroke="#555" stroke-width="0.9"/>
<line x1="256.3" y1="23.2" x2="274" y2="23.2" stroke="#555" stroke-width="0.9"/>
<line x1="207.1" y1="22.1" x2="207.1" y2="27.6" stroke="#a8e0d8" stroke-width="0.7"/>
<line x1="230.5" y1="22.1" x2="230.5" y2="29.7" stroke="#555" stroke-width="0.9"/>
<line x1="256.3" y1="23.2" x2="256.3" y2="28.1" stroke="#555" stroke-width="0.9"/>
<line x1="279.6" y1="23.2" x2="279.6" y2="27" stroke="#eee6a8" stroke-width="0.7"/>
<line x1="197.38" y1="27.6" x2="217.22" y2="27.6" stroke="#8cd8d0" stroke-width="0.7"/>
<line x1="198.88" y1="27.6" x2="198.88" y2="33.5" stroke="#8cd8d0" stroke-width="0.7"/>
<line x1="197.38" y1="33.5" x2="201.35" y2="33.5" stroke="#8cd8d0" stroke-width="0.7"/>
<line x1="209.28" y1="27.6" x2="209.28" y2="32.5" stroke="#8cd8d0" stroke-width="0.7"/>
<line x1="205.32" y1="32.5" x2="213.25" y2="32.5" stroke="#8cd8d0" stroke-width="0.7"/>
<line x1="197.38" y1="33.5" x2="197.38" y2="38.6" stroke="#8cd8d0" stroke-width="0.7"/>
<line x1="201.35" y1="33.5" x2="201.35" y2="38.6" stroke="#8cd8d0" stroke-width="0.7"/>
<line x1="205.32" y1="32.5" x2="205.32" y2="38.6" stroke="#8cd8d0" stroke-width="0.7"/>
<line x1="209.28" y1="32.5" x2="209.28" y2="38.6" stroke="#8cd8d0" stroke-width="0.7"/>
<line x1="213.25" y1="32.5" x2="213.25" y2="38.6" stroke="#8cd8d0" stroke-width="0.7"/>
<line x1="217.22" y1="27.6" x2="217.22" y2="38.6" stroke="#8cd8d0" stroke-width="0.7"/>
<line x1="222.68" y1="29.7" x2="237.05" y2="29.7" stroke="#e07070" stroke-width="0.7"/>
<line x1="222.68" y1="29.7" x2="222.68" y2="33.5" stroke="#e07070" stroke-width="0.7"/>
<line x1="221.18" y1="33.5" x2="229.12" y2="33.5" stroke="#e07070" stroke-width="0.7"/>
<line x1="237.05" y1="29.7" x2="237.05" y2="33.5" stroke="#e07070" stroke-width="0.7"/>
<line x1="233.08" y1="33.5" x2="241.02" y2="33.5" stroke="#e07070" stroke-width="0.7"/>
<line x1="221.18" y1="33.5" x2="221.18" y2="38.6" stroke="#e07070" stroke-width="0.7"/>
<line x1="225.15" y1="33.5" x2="225.15" y2="38.6" stroke="#e07070" stroke-width="0.7"/>
<line x1="229.12" y1="33.5" x2="229.12" y2="38.6" stroke="#e07070" stroke-width="0.7"/>
<line x1="233.08" y1="33.5" x2="233.08" y2="38.6" stroke="#e07070" stroke-width="0.7"/>
<line x1="237.05" y1="33.5" x2="237.05" y2="38.6" stroke="#e07070" stroke-width="0.7"/>
<line x1="241.02" y1="33.5" x2="241.02" y2="38.6" stroke="#e07070" stroke-width="0.7"/>
<line x1="250.39" y1="28.1" x2="262.16" y2="28.1" stroke="#5050cc" stroke-width="0.7"/>
<line x1="250.39" y1="28.1" x2="250.39" y2="33.5" stroke="#5050cc" stroke-width="0.7"/>
<line x1="246.46" y1="33.5" x2="254.31" y2="33.5" stroke="#5050cc" stroke-width="0.7"/>
<line x1="262.16" y1="28.1" x2="262.16" y2="30.2" stroke="#5050cc" stroke-width="0.7"/>
<line x1="258.24" y1="30.2" x2="266.09" y2="30.2" stroke="#5050cc" stroke-width="0.7"/>
<line x1="258.24" y1="32.5" x2="262.16" y2="32.5" stroke="#5050cc" stroke-width="0.7"/>
<line x1="246.46" y1="33.5" x2="246.46" y2="38.6" stroke="#5050cc" stroke-width="0.7"/>
<line x1="250.39" y1="33.5" x2="250.39" y2="38.6" stroke="#5050cc" stroke-width="0.7"/>
<line x1="254.31" y1="33.5" x2="254.31" y2="38.6" stroke="#5050cc" stroke-width="0.7"/>
<line x1="258.24" y1="32.5" x2="258.24" y2="38.6" stroke="#5050cc" stroke-width="0.7"/>
<line x1="262.16" y1="32.5" x2="262.16" y2="38.6" stroke="#5050cc" stroke-width="0.7"/>
<line x1="266.09" y1="30.2" x2="266.09" y2="38.6" stroke="#5050cc" stroke-width="0.7"/>
<line x1="270.01" y1="27" x2="289.64" y2="27" stroke="#e8e0a0" stroke-width="0.7"/>
<line x1="273.94" y1="30.5" x2="285.71" y2="30.5" stroke="#e8e0a0" stroke-width="0.7"/>
<line x1="270.01" y1="27" x2="270.01" y2="38.6" stroke="#e8e0a0" stroke-width="0.7"/>
<line x1="273.94" y1="30.5" x2="273.94" y2="38.6" stroke="#e8e0a0" stroke-width="0.7"/>
<line x1="277.86" y1="30.5" x2="277.86" y2="38.6" stroke="#e8e0a0" stroke-width="0.7"/>
<line x1="281.79" y1="30.5" x2="281.79" y2="38.6" stroke="#e8e0a0" stroke-width="0.7"/>
<line x1="285.71" y1="30.5" x2="285.71" y2="38.6" stroke="#e8e0a0" stroke-width="0.7"/>
<line x1="289.64" y1="27" x2="289.64" y2="38.6" stroke="#e8e0a0" stroke-width="0.7"/>
<rect x="358.4" y="1.8" width="69.2" height="132.4" fill="none" stroke="#a8a8a8" stroke-width="0.8"/>
<line x1="358.4" y1="1.8" x2="358.4" y2="134.2" stroke="#404040" stroke-width="0.6"/>
<text class="h2" transform="translate(354.2,6.7) scale(1.2,1)" text-anchor="end" font-size="4.7" font-weight="bold" fill="#161616">CCL2</text>
<rect x="358.4" y="3" width="0.4" height="1.7" fill="#d0d0d0" stroke="#808080" stroke-width="0.45"/>
<rect x="358.4" y="4.8" width="0.6" height="1.9" fill="#000"/>
<text class="h2" transform="translate(354.2,12.43) scale(1.2,1)" text-anchor="end" font-size="4.7" font-weight="bold" fill="#161616">CCL3</text>
<rect x="358.4" y="8.73" width="1" height="1.7" fill="#d0d0d0" stroke="#808080" stroke-width="0.45"/>
<rect x="358.4" y="10.53" width="18" height="1.9" fill="#000"/>
<line x1="376.4" y1="11.48" x2="377.8" y2="11.48" stroke="#333" stroke-width="0.5"/>
<line x1="377.8" y1="10.83" x2="377.8" y2="12.13" stroke="#333" stroke-width="0.5"/>
<text class="h2" transform="translate(354.2,18.15) scale(1.2,1)" text-anchor="end" font-size="4.7" font-weight="bold" fill="#161616">CCL4</text>
<rect x="358.4" y="14.45" width="1" height="1.7" fill="#d0d0d0" stroke="#808080" stroke-width="0.45"/>
<rect x="358.4" y="16.25" width="20.3" height="1.9" fill="#000"/>
<line x1="378.7" y1="17.2" x2="381.7" y2="17.2" stroke="#333" stroke-width="0.5"/>
<line x1="381.7" y1="16.55" x2="381.7" y2="17.85" stroke="#333" stroke-width="0.5"/>
<text class="h2" transform="translate(354.2,23.88) scale(1.2,1)" text-anchor="end" font-size="4.7" font-weight="bold" fill="#161616">CCL5</text>
<rect x="358.4" y="20.18" width="3" height="1.7" fill="#d0d0d0" stroke="#808080" stroke-width="0.45"/>
<rect x="358.4" y="21.98" width="5.4" height="1.9" fill="#000"/>
<text class="h2" transform="translate(354.2,29.61) scale(1.2,1)" text-anchor="end" font-size="4.7" font-weight="bold" fill="#161616">CCL8</text>
<rect x="358.4" y="25.91" width="0.4" height="1.7" fill="#d0d0d0" stroke="#808080" stroke-width="0.45"/>
<rect x="358.4" y="27.71" width="0.6" height="1.9" fill="#000"/>
<text class="h2" transform="translate(354.2,35.34) scale(1.2,1)" text-anchor="end" font-size="4.7" font-weight="bold" fill="#161616">CCL13</text>
<rect x="358.4" y="31.64" width="0.4" height="1.7" fill="#d0d0d0" stroke="#808080" stroke-width="0.45"/>
<rect x="358.4" y="33.44" width="0.6" height="1.9" fill="#000"/>
<text class="h2" transform="translate(354.2,41.06) scale(1.2,1)" text-anchor="end" font-size="4.7" font-weight="bold" fill="#161616">CCL17</text>
<rect x="358.4" y="37.36" width="0.4" height="1.7" fill="#d0d0d0" stroke="#808080" stroke-width="0.45"/>
<rect x="358.4" y="39.16" width="0.6" height="1.9" fill="#000"/>
<text class="h2" transform="translate(354.2,46.79) scale(1.2,1)" text-anchor="end" font-size="4.7" font-weight="bold" fill="#161616">CCL20</text>
<rect x="358.4" y="43.09" width="0.4" height="1.7" fill="#d0d0d0" stroke="#808080" stroke-width="0.45"/>
<rect x="358.4" y="44.89" width="0.6" height="1.9" fill="#000"/>
<text class="h2" transform="translate(354.2,52.52) scale(1.2,1)" text-anchor="end" font-size="4.7" font-weight="bold" fill="#161616">CCL19</text>
<rect x="358.4" y="48.82" width="0.6" height="1.7" fill="#d0d0d0" stroke="#808080" stroke-width="0.45"/>
<rect x="358.4" y="50.62" width="4.3" height="1.9" fill="#000"/>
<text class="h2" transform="translate(354.2,58.24) scale(1.2,1)" text-anchor="end" font-size="4.7" font-weight="bold" fill="#161616">CCL22</text>
<rect x="358.4" y="54.54" width="0.8" height="1.7" fill="#d0d0d0" stroke="#808080" stroke-width="0.45"/>
<rect x="358.4" y="56.34" width="22.6" height="1.9" fill="#000"/>
<line x1="381" y1="57.29" x2="384.6" y2="57.29" stroke="#333" stroke-width="0.5"/>
<line x1="384.6" y1="56.64" x2="384.6" y2="57.94" stroke="#333" stroke-width="0.5"/>
<text class="h2" transform="translate(354.2,63.97) scale(1.2,1)" text-anchor="end" font-size="4.7" font-weight="bold" fill="#161616">CCL28</text>
<rect x="358.4" y="60.27" width="0.6" height="1.7" fill="#d0d0d0" stroke="#808080" stroke-width="0.45"/>
<rect x="358.4" y="62.07" width="1.2" height="1.9" fill="#000"/>
<text class="h2" transform="translate(354.2,69.7) scale(1.2,1)" text-anchor="end" font-size="4.7" font-weight="bold" fill="#161616">CXCL1</text>
<rect x="358.4" y="66" width="0.4" height="1.7" fill="#d0d0d0" stroke="#808080" stroke-width="0.45"/>
<rect x="358.4" y="67.8" width="0.6" height="1.9" fill="#000"/>
<text class="h2" transform="translate(354.2,75.42) scale(1.2,1)" text-anchor="end" font-size="4.7" font-weight="bold" fill="#161616">CXCL2</text>
<rect x="358.4" y="71.72" width="0.4" height="1.7" fill="#d0d0d0" stroke="#808080" stroke-width="0.45"/>
<rect x="358.4" y="73.52" width="0.6" height="1.9" fill="#000"/>
<text class="h2" transform="translate(354.2,81.15) scale(1.2,1)" text-anchor="end" font-size="4.7" font-weight="bold" fill="#161616">CXCL4</text>
<rect x="358.4" y="77.45" width="13.3" height="1.7" fill="#d0d0d0" stroke="#808080" stroke-width="0.45"/>
<line x1="371.7" y1="78.3" x2="374" y2="78.3" stroke="#555" stroke-width="0.5"/>
<line x1="374" y1="77.65" x2="374" y2="78.95" stroke="#555" stroke-width="0.5"/>
<rect x="358.4" y="79.25" width="1.5" height="1.9" fill="#000"/>
<text class="h2" transform="translate(354.2,86.88) scale(1.2,1)" text-anchor="end" font-size="4.7" font-weight="bold" fill="#161616">PF4V1</text>
<rect x="358.4" y="83.18" width="1" height="1.7" fill="#d0d0d0" stroke="#808080" stroke-width="0.45"/>
<rect x="358.4" y="84.98" width="0.5" height="1.9" fill="#000"/>
<text class="h2" transform="translate(354.2,92.61) scale(1.2,1)" text-anchor="end" font-size="4.7" font-weight="bold" fill="#161616">CXCL7</text>
<rect x="358.4" y="88.91" width="13.3" height="1.7" fill="#d0d0d0" stroke="#808080" stroke-width="0.45"/>
<line x1="371.7" y1="89.76" x2="373.2" y2="89.76" stroke="#555" stroke-width="0.5"/>
<line x1="373.2" y1="89.11" x2="373.2" y2="90.41" stroke="#555" stroke-width="0.5"/>
<rect x="358.4" y="90.71" width="1.5" height="1.9" fill="#000"/>
<text class="h2" transform="translate(354.2,98.33) scale(1.2,1)" text-anchor="end" font-size="4.7" font-weight="bold" fill="#161616">CXCL8</text>
<rect x="358.4" y="94.63" width="8.2" height="1.7" fill="#d0d0d0" stroke="#808080" stroke-width="0.45"/>
<line x1="366.6" y1="95.48" x2="368.2" y2="95.48" stroke="#555" stroke-width="0.5"/>
<line x1="368.2" y1="94.83" x2="368.2" y2="96.13" stroke="#555" stroke-width="0.5"/>
<rect x="358.4" y="96.43" width="6.6" height="1.9" fill="#000"/>
<text class="h2" transform="translate(354.2,104.06) scale(1.2,1)" text-anchor="end" font-size="4.7" font-weight="bold" fill="#161616">CXCL9</text>
<rect x="358.4" y="100.36" width="0.6" height="1.7" fill="#d0d0d0" stroke="#808080" stroke-width="0.45"/>
<rect x="358.4" y="102.16" width="5.1" height="1.9" fill="#000"/>
<text class="h2" transform="translate(354.2,109.79) scale(1.2,1)" text-anchor="end" font-size="4.7" font-weight="bold" fill="#161616">CXCL10</text>
<rect x="358.4" y="106.09" width="0.8" height="1.7" fill="#d0d0d0" stroke="#808080" stroke-width="0.45"/>
<rect x="358.4" y="107.89" width="37.6" height="1.9" fill="#000"/>
<line x1="396" y1="108.84" x2="398" y2="108.84" stroke="#333" stroke-width="0.5"/>
<line x1="398" y1="108.19" x2="398" y2="109.49" stroke="#333" stroke-width="0.5"/>
<text class="h2" transform="translate(354.2,115.51) scale(1.2,1)" text-anchor="end" font-size="4.7" font-weight="bold" fill="#161616">CXCL11</text>
<rect x="358.4" y="111.81" width="0.6" height="1.7" fill="#d0d0d0" stroke="#808080" stroke-width="0.45"/>
<rect x="358.4" y="113.61" width="4.6" height="1.9" fill="#000"/>
<text class="h2" transform="translate(354.2,121.24) scale(1.2,1)" text-anchor="end" font-size="4.7" font-weight="bold" fill="#161616">CXCL13</text>
<rect x="358.4" y="117.54" width="0.6" height="1.7" fill="#d0d0d0" stroke="#808080" stroke-width="0.45"/>
<rect x="358.4" y="119.34" width="13.3" height="1.9" fill="#000"/>
<text class="h2" transform="translate(354.2,126.97) scale(1.2,1)" text-anchor="end" font-size="4.7" font-weight="bold" fill="#161616">CXCL16</text>
<rect x="358.4" y="123.27" width="1.2" height="1.7" fill="#d0d0d0" stroke="#808080" stroke-width="0.45"/>
<rect x="358.4" y="125.07" width="0.5" height="1.9" fill="#000"/>
<text class="h2" transform="translate(354.2,132.69) scale(1.2,1)" text-anchor="end" font-size="4.7" font-weight="bold" fill="#161616">CKLF</text>
<rect x="358.4" y="128.99" width="1.5" height="1.7" fill="#d0d0d0" stroke="#808080" stroke-width="0.45"/>
<rect x="358.4" y="130.79" width="1.5" height="1.9" fill="#000"/>
<text x="358.5" y="142.8" text-anchor="middle" font-size="5.0" fill="#333">0</text>
<text x="375.5" y="142.8" text-anchor="middle" font-size="5.0" fill="#333">50</text>
<text x="393.6" y="142.8" text-anchor="middle" font-size="5.0" fill="#333">100</text>
<text x="410.7" y="142.8" text-anchor="middle" font-size="5.0" fill="#333">150</text>
<text x="427.8" y="142.8" text-anchor="middle" font-size="5.0" fill="#333">200</text>
<text x="392.8" y="16" font-size="10" fill="#1a1a1a" stroke="#1a1a1a" stroke-width="0.2" textLength="28.1" lengthAdjust="spacingAndGlyphs">pDCs</text>
<rect x="358.4" y="161.4" width="69.2" height="131.8" fill="none" stroke="#a8a8a8" stroke-width="0.8"/>
<line x1="358.4" y1="161.4" x2="358.4" y2="293.2" stroke="#404040" stroke-width="0.6"/>
<text class="h2" transform="translate(354.2,166.7) scale(1.2,1)" text-anchor="end" font-size="4.7" font-weight="bold" fill="#161616">CCL2</text>
<rect x="358.4" y="163" width="0.8" height="1.7" fill="#d0d0d0" stroke="#808080" stroke-width="0.45"/>
<rect x="358.4" y="164.8" width="3.8" height="1.9" fill="#000"/>
<text class="h2" transform="translate(354.2,172.41) scale(1.2,1)" text-anchor="end" font-size="4.7" font-weight="bold" fill="#161616">CCL3</text>
<rect x="358.4" y="168.71" width="11.7" height="1.7" fill="#d0d0d0" stroke="#808080" stroke-width="0.45"/>
<line x1="370.1" y1="169.56" x2="371.5" y2="169.56" stroke="#555" stroke-width="0.5"/>
<line x1="371.5" y1="168.91" x2="371.5" y2="170.21" stroke="#555" stroke-width="0.5"/>
<rect x="358.4" y="170.51" width="8.2" height="1.9" fill="#000"/>
<text class="h2" transform="translate(354.2,178.13) scale(1.2,1)" text-anchor="end" font-size="4.7" font-weight="bold" fill="#161616">CCL4</text>
<rect x="358.4" y="174.43" width="5" height="1.7" fill="#d0d0d0" stroke="#808080" stroke-width="0.45"/>
<rect x="358.4" y="176.23" width="7.2" height="1.9" fill="#000"/>
<line x1="365.6" y1="177.18" x2="368.1" y2="177.18" stroke="#333" stroke-width="0.5"/>
<line x1="368.1" y1="176.53" x2="368.1" y2="177.83" stroke="#333" stroke-width="0.5"/>
<text class="h2" transform="translate(354.2,183.84) scale(1.2,1)" text-anchor="end" font-size="4.7" font-weight="bold" fill="#161616">CCL5</text>
<rect x="358.4" y="180.14" width="1.5" height="1.7" fill="#d0d0d0" stroke="#808080" stroke-width="0.45"/>
<rect x="358.4" y="181.94" width="12.8" height="1.9" fill="#000"/>
<line x1="371.2" y1="182.89" x2="373.4" y2="182.89" stroke="#333" stroke-width="0.5"/>
<line x1="373.4" y1="182.24" x2="373.4" y2="183.54" stroke="#333" stroke-width="0.5"/>
<text class="h2" transform="translate(354.2,189.56) scale(1.2,1)" text-anchor="end" font-size="4.7" font-weight="bold" fill="#161616">CCL8</text>
<rect x="358.4" y="185.86" width="0.8" height="1.7" fill="#d0d0d0" stroke="#808080" stroke-width="0.45"/>
<rect x="358.4" y="187.66" width="9.1" height="1.9" fill="#000"/>
<text class="h2" transform="translate(354.2,195.27) scale(1.2,1)" text-anchor="end" font-size="4.7" font-weight="bold" fill="#161616">CCL13</text>
<rect x="358.4" y="191.57" width="0.4" height="1.7" fill="#d0d0d0" stroke="#808080" stroke-width="0.45"/>
<rect x="358.4" y="193.37" width="0.8" height="1.9" fill="#000"/>
<text class="h2" transform="translate(354.2,200.98) scale(1.2,1)" text-anchor="end" font-size="4.7" font-weight="bold" fill="#161616">CCL17</text>
<rect x="358.4" y="197.28" width="0.4" height="1.7" fill="#d0d0d0" stroke="#808080" stroke-width="0.45"/>
<rect x="358.4" y="199.08" width="0.8" height="1.9" fill="#000"/>
<text class="h2" transform="translate(354.2,206.7) scale(1.2,1)" text-anchor="end" font-size="4.7" font-weight="bold" fill="#161616">CCL20</text>
<rect x="358.4" y="203" width="0.4" height="1.7" fill="#d0d0d0" stroke="#808080" stroke-width="0.45"/>
<rect x="358.4" y="204.8" width="0.8" height="1.9" fill="#000"/>
<text class="h2" transform="translate(354.2,212.41) scale(1.2,1)" text-anchor="end" font-size="4.7" font-weight="bold" fill="#161616">CCL19</text>
<rect x="358.4" y="208.71" width="0.8" height="1.7" fill="#d0d0d0" stroke="#808080" stroke-width="0.45"/>
<rect x="358.4" y="210.51" width="16.7" height="1.9" fill="#000"/>
<line x1="375.1" y1="211.46" x2="381.6" y2="211.46" stroke="#333" stroke-width="0.5"/>
<line x1="381.6" y1="210.81" x2="381.6" y2="212.11" stroke="#333" stroke-width="0.5"/>
<text class="h2" transform="translate(354.2,218.13) scale(1.2,1)" text-anchor="end" font-size="4.7" font-weight="bold" fill="#161616">CCL22</text>
<rect x="358.4" y="214.43" width="0.8" height="1.7" fill="#d0d0d0" stroke="#808080" stroke-width="0.45"/>
<rect x="358.4" y="216.23" width="22.5" height="1.9" fill="#000"/>
<line x1="380.9" y1="217.18" x2="385.7" y2="217.18" stroke="#333" stroke-width="0.5"/>
<line x1="385.7" y1="216.53" x2="385.7" y2="217.83" stroke="#333" stroke-width="0.5"/>
<text class="h2" transform="translate(354.2,223.84) scale(1.2,1)" text-anchor="end" font-size="4.7" font-weight="bold" fill="#161616">CCL28</text>
<rect x="358.4" y="220.14" width="1" height="1.7" fill="#d0d0d0" stroke="#808080" stroke-width="0.45"/>
<rect x="358.4" y="221.94" width="0.6" height="1.9" fill="#000"/>
<text class="h2" transform="translate(354.2,229.55) scale(1.2,1)" text-anchor="end" font-size="4.7" font-weight="bold" fill="#161616">CXCL1</text>
<rect x="358.4" y="225.85" width="0.8" height="1.7" fill="#d0d0d0" stroke="#808080" stroke-width="0.45"/>
<rect x="358.4" y="227.65" width="3.2" height="1.9" fill="#000"/>
<text class="h2" transform="translate(354.2,235.27) scale(1.2,1)" text-anchor="end" font-size="4.7" font-weight="bold" fill="#161616">CXCL2</text>
<rect x="358.4" y="231.57" width="9" height="1.7" fill="#d0d0d0" stroke="#808080" stroke-width="0.45"/>
<line x1="367.4" y1="232.42" x2="368.4" y2="232.42" stroke="#555" stroke-width="0.5"/>
<line x1="368.4" y1="231.77" x2="368.4" y2="233.07" stroke="#555" stroke-width="0.5"/>
<rect x="358.4" y="233.37" width="3.5" height="1.9" fill="#000"/>
<text class="h2" transform="translate(354.2,240.98) scale(1.2,1)" text-anchor="end" font-size="4.7" font-weight="bold" fill="#161616">CXCL4</text>
<rect x="358.4" y="237.28" width="11.9" height="1.7" fill="#d0d0d0" stroke="#808080" stroke-width="0.45"/>
<line x1="370.3" y1="238.13" x2="371.8" y2="238.13" stroke="#555" stroke-width="0.5"/>
<line x1="371.8" y1="237.48" x2="371.8" y2="238.78" stroke="#555" stroke-width="0.5"/>
<rect x="358.4" y="239.08" width="1.5" height="1.9" fill="#000"/>
<text class="h2" transform="translate(354.2,246.7) scale(1.2,1)" text-anchor="end" font-size="4.7" font-weight="bold" fill="#161616">PF4V1</text>
<rect x="358.4" y="243" width="0.8" height="1.7" fill="#d0d0d0" stroke="#808080" stroke-width="0.45"/>
<rect x="358.4" y="244.8" width="0.6" height="1.9" fill="#000"/>
<text class="h2" transform="translate(354.2,252.41) scale(1.2,1)" text-anchor="end" font-size="4.7" font-weight="bold" fill="#161616">CXCL7</text>
<rect x="358.4" y="248.71" width="10.5" height="1.7" fill="#d0d0d0" stroke="#808080" stroke-width="0.45"/>
<line x1="368.9" y1="249.56" x2="369.9" y2="249.56" stroke="#555" stroke-width="0.5"/>
<line x1="369.9" y1="248.91" x2="369.9" y2="250.21" stroke="#555" stroke-width="0.5"/>
<rect x="358.4" y="250.51" width="1.5" height="1.9" fill="#000"/>
<text class="h2" transform="translate(354.2,258.12) scale(1.2,1)" text-anchor="end" font-size="4.7" font-weight="bold" fill="#161616">CXCL8</text>
<rect x="358.4" y="254.42" width="59" height="1.7" fill="#d0d0d0" stroke="#808080" stroke-width="0.45"/>
<line x1="417.4" y1="255.27" x2="424.4" y2="255.27" stroke="#555" stroke-width="0.5"/>
<line x1="424.4" y1="254.62" x2="424.4" y2="255.92" stroke="#555" stroke-width="0.5"/>
<rect x="358.4" y="256.22" width="31.5" height="1.9" fill="#000"/>
<line x1="389.9" y1="257.17" x2="391.9" y2="257.17" stroke="#333" stroke-width="0.5"/>
<line x1="391.9" y1="256.52" x2="391.9" y2="257.82" stroke="#333" stroke-width="0.5"/>
<text class="h2" transform="translate(354.2,263.84) scale(1.2,1)" text-anchor="end" font-size="4.7" font-weight="bold" fill="#161616">CXCL9</text>
<rect x="358.4" y="260.14" width="0.6" height="1.7" fill="#d0d0d0" stroke="#808080" stroke-width="0.45"/>
<rect x="358.4" y="261.94" width="17" height="1.9" fill="#000"/>
<line x1="375.4" y1="262.89" x2="378.4" y2="262.89" stroke="#333" stroke-width="0.5"/>
<line x1="378.4" y1="262.24" x2="378.4" y2="263.54" stroke="#333" stroke-width="0.5"/>
<text class="h2" transform="translate(354.2,269.55) scale(1.2,1)" text-anchor="end" font-size="4.7" font-weight="bold" fill="#161616">CXCL10</text>
<rect x="358.4" y="265.85" width="0.6" height="1.7" fill="#d0d0d0" stroke="#808080" stroke-width="0.45"/>
<rect x="358.4" y="267.65" width="38" height="1.9" fill="#000"/>
<line x1="396.4" y1="268.6" x2="398.4" y2="268.6" stroke="#333" stroke-width="0.5"/>
<line x1="398.4" y1="267.95" x2="398.4" y2="269.25" stroke="#333" stroke-width="0.5"/>
<text class="h2" transform="translate(354.2,275.27) scale(1.2,1)" text-anchor="end" font-size="4.7" font-weight="bold" fill="#161616">CXCL11</text>
<rect x="358.4" y="271.57" width="0.6" height="1.7" fill="#d0d0d0" stroke="#808080" stroke-width="0.45"/>
<rect x="358.4" y="273.37" width="13.8" height="1.9" fill="#000"/>
<text class="h2" transform="translate(354.2,280.98) scale(1.2,1)" text-anchor="end" font-size="4.7" font-weight="bold" fill="#161616">CXCL13</text>
<rect x="358.4" y="277.28" width="0.6" height="1.7" fill="#d0d0d0" stroke="#808080" stroke-width="0.45"/>
<rect x="358.4" y="279.08" width="21.8" height="1.9" fill="#000"/>
<line x1="380.2" y1="280.03" x2="382" y2="280.03" stroke="#333" stroke-width="0.5"/>
<line x1="382" y1="279.38" x2="382" y2="280.68" stroke="#333" stroke-width="0.5"/>
<text class="h2" transform="translate(354.2,286.69) scale(1.2,1)" text-anchor="end" font-size="4.7" font-weight="bold" fill="#161616">CXCL16</text>
<rect x="358.4" y="282.99" width="60.3" height="1.7" fill="#d0d0d0" stroke="#808080" stroke-width="0.45"/>
<line x1="418.7" y1="283.84" x2="423.2" y2="283.84" stroke="#555" stroke-width="0.5"/>
<line x1="423.2" y1="283.19" x2="423.2" y2="284.49" stroke="#555" stroke-width="0.5"/>
<rect x="358.4" y="284.79" width="5.3" height="1.9" fill="#000"/>
<text class="h2" transform="translate(354.2,292.41) scale(1.2,1)" text-anchor="end" font-size="4.7" font-weight="bold" fill="#161616">CKLF</text>
<rect x="358.4" y="288.71" width="7" height="1.7" fill="#d0d0d0" stroke="#808080" stroke-width="0.45"/>
<rect x="358.4" y="290.51" width="3" height="1.9" fill="#000"/>
<text x="358.5" y="156.1" text-anchor="middle" font-size="5.0" fill="#6a6a6a">0</text>
<text x="375.5" y="156.1" text-anchor="middle" font-size="5.0" fill="#6a6a6a">50</text>
<text x="393.6" y="156.1" text-anchor="middle" font-size="5.0" fill="#6a6a6a">100</text>
<text x="410.7" y="156.1" text-anchor="middle" font-size="5.0" fill="#6a6a6a">150</text>
<text x="427.8" y="156.1" text-anchor="middle" font-size="5.0" fill="#6a6a6a">200</text>
<text x="390.2" y="176.1" font-size="10" fill="#1a1a1a" stroke="#1a1a1a" stroke-width="0.2" textLength="30.8" lengthAdjust="spacingAndGlyphs">mDCs</text>
<text class="h" x="363" y="149.8" font-size="5.6" font-weight="bold" fill="#111" textLength="61.3" lengthAdjust="spacingAndGlyphs">normalized expression</text>
<rect x="445.5" y="136.8" width="6.4" height="6.6" fill="#fff" stroke="#111" stroke-width="0.9"/>
<rect x="445.1" y="148.7" width="7.1" height="7.3" fill="#000"/>
<text class="h" x="455.4" y="143.1" font-size="7.4" font-weight="bold" fill="#111" textLength="55.6" lengthAdjust="spacingAndGlyphs">before infection</text>
<text class="h" x="455.4" y="155.3" font-size="7.4" font-weight="bold" fill="#111" textLength="62.9" lengthAdjust="spacingAndGlyphs">24h after infection</text>
</svg></div></body></html>
